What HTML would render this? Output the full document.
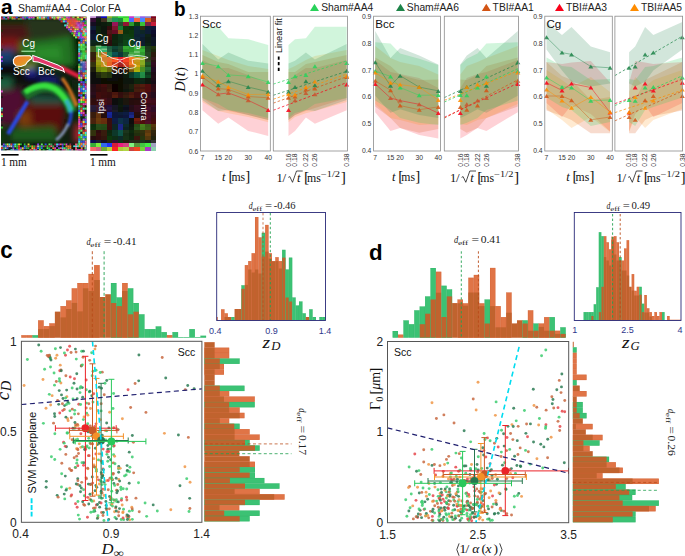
<!DOCTYPE html>
<html><head><meta charset="utf-8"><style>
html,body{margin:0;padding:0;background:#fff;}
body{width:685px;height:556px;overflow:hidden;}
svg{display:block;}
</style></head><body>
<svg width="685" height="556" viewBox="0 0 685 556">
<text x="174" y="15.7" font-size="19.5" font-family="Liberation Sans, sans-serif" fill="#000" font-weight="bold" textLength="11.6" lengthAdjust="spacingAndGlyphs">b</text>
<path d="M310 11L314.5 3.8L319 11Z" fill="rgb(40,210,90)"/>
<text x="321.2" y="11.2" font-size="10.3" font-family="Liberation Sans, sans-serif" fill="#222" textLength="52.1" lengthAdjust="spacingAndGlyphs">Sham#AA4</text>
<path d="M396 11L400.5 3.8L405 11Z" fill="rgb(30,132,73)"/>
<text x="406.8" y="11.2" font-size="10.3" font-family="Liberation Sans, sans-serif" fill="#222" textLength="52.1" lengthAdjust="spacingAndGlyphs">Sham#AA6</text>
<path d="M481.8 11L486.3 3.8L490.8 11Z" fill="rgb(211,84,20)"/>
<text x="492.6" y="11.2" font-size="10.3" font-family="Liberation Sans, sans-serif" fill="#222" textLength="41.22" lengthAdjust="spacingAndGlyphs">TBI#AA1</text>
<path d="M555 11L559.5 3.8L564 11Z" fill="rgb(250,0,25)"/>
<text x="565.9" y="11.2" font-size="10.3" font-family="Liberation Sans, sans-serif" fill="#222" textLength="41.22" lengthAdjust="spacingAndGlyphs">TBI#AA3</text>
<path d="M630 11L634.5 3.8L639 11Z" fill="rgb(255,140,0)"/>
<text x="640.9" y="11.2" font-size="10.3" font-family="Liberation Sans, sans-serif" fill="#222" textLength="41.22" lengthAdjust="spacingAndGlyphs">TBI#AA5</text>
<path d="M202.4 60L218.2 68L228.4 68L248.2 75L268.2 84L268.2 135.9L248.2 130.9L228.4 117.5L218.2 123.8L202.4 110.3Z" fill="rgb(250,0,25)" fill-opacity="0.18"/>
<path d="M202.4 55L218.2 62L228.4 64L248.2 72L268.2 72L268.2 120L248.2 115L228.4 111L218.2 108L202.4 98Z" fill="rgb(220,90,30)" fill-opacity="0.22"/>
<path d="M202.4 50L218.2 56L228.4 60L248.2 66L268.2 69L268.2 122.2L248.2 116.9L228.4 113.3L218.2 111L202.4 102Z" fill="rgb(255,140,0)" fill-opacity="0.18"/>
<path d="M202.4 26.7L218.2 26.7L228.4 38.3L248.2 39.2L268.2 45L268.2 118L248.2 113L228.4 110L218.2 104L202.4 98Z" fill="rgb(40,210,90)" fill-opacity="0.21"/>
<path d="M202.4 44L218.2 59.5L228.4 52.6L248.2 60.7L268.2 63.4L268.2 120L248.2 115L228.4 110L218.2 111L202.4 100Z" fill="rgb(30,132,73)" fill-opacity="0.2"/>
<polyline points="202.4,62.9 218.2,66.2 228.4,74.9 248.2,76.2 268.2,82.1" fill="none" stroke="rgb(40,210,90)" stroke-width="0.6" stroke-opacity="0.75"/>
<polyline points="202.4,70.8 218.2,85.3 228.4,81.2 248.2,87 268.2,91.8" fill="none" stroke="rgb(30,132,73)" stroke-width="0.6" stroke-opacity="0.75"/>
<polyline points="202.4,77 218.2,88.5 228.4,89.5 248.2,96.5 268.2,97.8" fill="none" stroke="rgb(211,84,20)" stroke-width="0.6" stroke-opacity="0.75"/>
<polyline points="202.4,84.5 218.2,94.2 228.4,92.9 248.2,100.3 268.2,109.9" fill="none" stroke="rgb(250,0,25)" stroke-width="0.6" stroke-opacity="0.75"/>
<polyline points="202.4,75.7 218.2,81.6 228.4,87 248.2,94.6 268.2,94.2" fill="none" stroke="rgb(255,140,0)" stroke-width="0.6" stroke-opacity="0.75"/>
<path d="M199.9 64.9L202.4 60.9L204.9 64.9Z" fill="rgb(40,210,90)" fill-opacity="0.85"/>
<path d="M215.7 68.2L218.2 64.2L220.7 68.2Z" fill="rgb(40,210,90)" fill-opacity="0.85"/>
<path d="M225.9 76.9L228.4 72.9L230.9 76.9Z" fill="rgb(40,210,90)" fill-opacity="0.85"/>
<path d="M245.7 78.2L248.2 74.2L250.7 78.2Z" fill="rgb(40,210,90)" fill-opacity="0.85"/>
<path d="M265.7 84.1L268.2 80.1L270.7 84.1Z" fill="rgb(40,210,90)" fill-opacity="0.85"/>
<path d="M199.9 72.8L202.4 68.8L204.9 72.8Z" fill="rgb(30,132,73)" fill-opacity="0.85"/>
<path d="M215.7 87.3L218.2 83.3L220.7 87.3Z" fill="rgb(30,132,73)" fill-opacity="0.85"/>
<path d="M225.9 83.2L228.4 79.2L230.9 83.2Z" fill="rgb(30,132,73)" fill-opacity="0.85"/>
<path d="M245.7 89L248.2 85L250.7 89Z" fill="rgb(30,132,73)" fill-opacity="0.85"/>
<path d="M265.7 93.8L268.2 89.8L270.7 93.8Z" fill="rgb(30,132,73)" fill-opacity="0.85"/>
<path d="M199.9 79L202.4 75L204.9 79Z" fill="rgb(211,84,20)" fill-opacity="0.85"/>
<path d="M215.7 90.5L218.2 86.5L220.7 90.5Z" fill="rgb(211,84,20)" fill-opacity="0.85"/>
<path d="M225.9 91.5L228.4 87.5L230.9 91.5Z" fill="rgb(211,84,20)" fill-opacity="0.85"/>
<path d="M245.7 98.5L248.2 94.5L250.7 98.5Z" fill="rgb(211,84,20)" fill-opacity="0.85"/>
<path d="M265.7 99.8L268.2 95.8L270.7 99.8Z" fill="rgb(211,84,20)" fill-opacity="0.85"/>
<path d="M199.9 86.5L202.4 82.5L204.9 86.5Z" fill="rgb(250,0,25)" fill-opacity="0.85"/>
<path d="M215.7 96.2L218.2 92.2L220.7 96.2Z" fill="rgb(200,85,45)" fill-opacity="0.85"/>
<path d="M225.9 94.9L228.4 90.9L230.9 94.9Z" fill="rgb(200,85,45)" fill-opacity="0.85"/>
<path d="M245.7 102.3L248.2 98.3L250.7 102.3Z" fill="rgb(200,85,45)" fill-opacity="0.85"/>
<path d="M265.7 111.9L268.2 107.9L270.7 111.9Z" fill="rgb(250,0,25)" fill-opacity="0.85"/>
<path d="M199.9 77.7L202.4 73.7L204.9 77.7Z" fill="rgb(255,140,0)" fill-opacity="0.85"/>
<path d="M215.7 83.6L218.2 79.6L220.7 83.6Z" fill="rgb(255,140,0)" fill-opacity="0.85"/>
<path d="M225.9 89L228.4 85L230.9 89Z" fill="rgb(255,140,0)" fill-opacity="0.85"/>
<path d="M245.7 96.6L248.2 92.6L250.7 96.6Z" fill="rgb(255,140,0)" fill-opacity="0.85"/>
<path d="M265.7 96.2L268.2 92.2L270.7 96.2Z" fill="rgb(255,140,0)" fill-opacity="0.85"/>
<rect x="200.4" y="16.2" width="69.9" height="134.8" fill="none" stroke="#8c8c8c" stroke-width="0.8"/>
<path d="M346.7 60L314.9 68L305.9 68L295 75L288.5 84L288.5 135.9L295 130.9L305.9 117.5L314.9 123.8L346.7 110.3Z" fill="rgb(250,0,25)" fill-opacity="0.18"/>
<path d="M346.7 55L314.9 62L305.9 64L295 72L288.5 72L288.5 120L295 115L305.9 111L314.9 108L346.7 98Z" fill="rgb(220,90,30)" fill-opacity="0.22"/>
<path d="M346.7 50L314.9 56L305.9 60L295 66L288.5 69L288.5 122.2L295 116.9L305.9 113.3L314.9 111L346.7 102Z" fill="rgb(255,140,0)" fill-opacity="0.18"/>
<path d="M346.7 26.7L314.9 26.7L305.9 38.3L295 39.2L288.5 45L288.5 118L295 113L305.9 110L314.9 104L346.7 98Z" fill="rgb(40,210,90)" fill-opacity="0.21"/>
<path d="M346.7 44L314.9 59.5L305.9 52.6L295 60.7L288.5 63.4L288.5 120L295 115L305.9 110L314.9 111L346.7 100Z" fill="rgb(30,132,73)" fill-opacity="0.2"/>
<line x1="273.3" y1="84.11" x2="346.7" y2="60.94" stroke="rgb(40,210,90)" stroke-width="0.85" stroke-opacity="0.85" stroke-dasharray="2.6,2.0"/>
<line x1="273.3" y1="95.27" x2="346.7" y2="71.3" stroke="rgb(30,132,73)" stroke-width="0.85" stroke-opacity="0.85" stroke-dasharray="2.6,2.0"/>
<line x1="273.3" y1="103.15" x2="346.7" y2="76.72" stroke="rgb(211,84,20)" stroke-width="0.85" stroke-opacity="0.85" stroke-dasharray="2.6,2.0"/>
<line x1="273.3" y1="110.25" x2="346.7" y2="82.62" stroke="rgb(250,0,25)" stroke-width="0.85" stroke-opacity="0.85" stroke-dasharray="2.6,2.0"/>
<line x1="273.3" y1="99.24" x2="346.7" y2="74.14" stroke="rgb(255,140,0)" stroke-width="0.85" stroke-opacity="0.85" stroke-dasharray="2.6,2.0"/>
<path d="M344.2 64.9L346.7 60.9L349.2 64.9Z" fill="rgb(40,210,90)" fill-opacity="0.85"/>
<path d="M312.4 68.2L314.9 64.2L317.4 68.2Z" fill="rgb(40,210,90)" fill-opacity="0.85"/>
<path d="M303.4 76.9L305.9 72.9L308.4 76.9Z" fill="rgb(40,210,90)" fill-opacity="0.85"/>
<path d="M292.5 78.2L295 74.2L297.5 78.2Z" fill="rgb(40,210,90)" fill-opacity="0.85"/>
<path d="M286 84.1L288.5 80.1L291 84.1Z" fill="rgb(40,210,90)" fill-opacity="0.85"/>
<path d="M344.2 72.8L346.7 68.8L349.2 72.8Z" fill="rgb(30,132,73)" fill-opacity="0.85"/>
<path d="M312.4 87.3L314.9 83.3L317.4 87.3Z" fill="rgb(30,132,73)" fill-opacity="0.85"/>
<path d="M303.4 83.2L305.9 79.2L308.4 83.2Z" fill="rgb(30,132,73)" fill-opacity="0.85"/>
<path d="M292.5 89L295 85L297.5 89Z" fill="rgb(30,132,73)" fill-opacity="0.85"/>
<path d="M286 93.8L288.5 89.8L291 93.8Z" fill="rgb(30,132,73)" fill-opacity="0.85"/>
<path d="M344.2 79L346.7 75L349.2 79Z" fill="rgb(211,84,20)" fill-opacity="0.85"/>
<path d="M312.4 90.5L314.9 86.5L317.4 90.5Z" fill="rgb(211,84,20)" fill-opacity="0.85"/>
<path d="M303.4 91.5L305.9 87.5L308.4 91.5Z" fill="rgb(211,84,20)" fill-opacity="0.85"/>
<path d="M292.5 98.5L295 94.5L297.5 98.5Z" fill="rgb(211,84,20)" fill-opacity="0.85"/>
<path d="M286 99.8L288.5 95.8L291 99.8Z" fill="rgb(211,84,20)" fill-opacity="0.85"/>
<path d="M344.2 86.5L346.7 82.5L349.2 86.5Z" fill="rgb(250,0,25)" fill-opacity="0.85"/>
<path d="M312.4 96.2L314.9 92.2L317.4 96.2Z" fill="rgb(200,85,45)" fill-opacity="0.85"/>
<path d="M303.4 94.9L305.9 90.9L308.4 94.9Z" fill="rgb(200,85,45)" fill-opacity="0.85"/>
<path d="M292.5 102.3L295 98.3L297.5 102.3Z" fill="rgb(200,85,45)" fill-opacity="0.85"/>
<path d="M286 111.9L288.5 107.9L291 111.9Z" fill="rgb(250,0,25)" fill-opacity="0.85"/>
<path d="M344.2 77.7L346.7 73.7L349.2 77.7Z" fill="rgb(255,140,0)" fill-opacity="0.85"/>
<path d="M312.4 83.6L314.9 79.6L317.4 83.6Z" fill="rgb(255,140,0)" fill-opacity="0.85"/>
<path d="M303.4 89L305.9 85L308.4 89Z" fill="rgb(255,140,0)" fill-opacity="0.85"/>
<path d="M292.5 96.6L295 92.6L297.5 96.6Z" fill="rgb(255,140,0)" fill-opacity="0.85"/>
<path d="M286 96.2L288.5 92.2L291 96.2Z" fill="rgb(255,140,0)" fill-opacity="0.85"/>
<rect x="273.3" y="16.2" width="74.1" height="134.8" fill="none" stroke="#8c8c8c" stroke-width="0.8"/>
<text x="198.2" y="18.5" font-size="6.8" font-family="Liberation Sans, sans-serif" fill="#333" text-anchor="end" textLength="9.45" lengthAdjust="spacingAndGlyphs">1.3</text>
<text x="198.2" y="37.8" font-size="6.8" font-family="Liberation Sans, sans-serif" fill="#333" text-anchor="end" textLength="9.45" lengthAdjust="spacingAndGlyphs">1.2</text>
<text x="198.2" y="57.1" font-size="6.8" font-family="Liberation Sans, sans-serif" fill="#333" text-anchor="end" textLength="9.45" lengthAdjust="spacingAndGlyphs">1.1</text>
<text x="198.2" y="76.4" font-size="6.8" font-family="Liberation Sans, sans-serif" fill="#333" text-anchor="end">1</text>
<text x="198.2" y="95.7" font-size="6.8" font-family="Liberation Sans, sans-serif" fill="#333" text-anchor="end" textLength="9.45" lengthAdjust="spacingAndGlyphs">0.9</text>
<text x="198.2" y="115" font-size="6.8" font-family="Liberation Sans, sans-serif" fill="#333" text-anchor="end" textLength="9.45" lengthAdjust="spacingAndGlyphs">0.8</text>
<text x="198.2" y="134.3" font-size="6.8" font-family="Liberation Sans, sans-serif" fill="#333" text-anchor="end" textLength="9.45" lengthAdjust="spacingAndGlyphs">0.7</text>
<text x="198.2" y="153.6" font-size="6.8" font-family="Liberation Sans, sans-serif" fill="#333" text-anchor="end" textLength="9.45" lengthAdjust="spacingAndGlyphs">0.6</text>
<text x="202.4" y="160.2" font-size="6.8" font-family="Liberation Sans, sans-serif" fill="#333" text-anchor="middle">7</text>
<text x="218.2" y="160.2" font-size="6.8" font-family="Liberation Sans, sans-serif" fill="#333" text-anchor="middle" textLength="7.56" lengthAdjust="spacingAndGlyphs">15</text>
<text x="228.4" y="160.2" font-size="6.8" font-family="Liberation Sans, sans-serif" fill="#333" text-anchor="middle" textLength="7.56" lengthAdjust="spacingAndGlyphs">20</text>
<text x="248.2" y="160.2" font-size="6.8" font-family="Liberation Sans, sans-serif" fill="#333" text-anchor="middle" textLength="7.56" lengthAdjust="spacingAndGlyphs">30</text>
<text x="268.2" y="160.2" font-size="6.8" font-family="Liberation Sans, sans-serif" fill="#333" text-anchor="middle" textLength="7.56" lengthAdjust="spacingAndGlyphs">40</text>
<text x="349" y="153.4" font-size="6.8" font-family="Liberation Sans, sans-serif" fill="#333" text-anchor="end" transform="rotate(-90 349 153.4)" textLength="13.23" lengthAdjust="spacingAndGlyphs">0.38</text>
<text x="317.2" y="153.4" font-size="6.8" font-family="Liberation Sans, sans-serif" fill="#333" text-anchor="end" transform="rotate(-90 317.2 153.4)" textLength="13.23" lengthAdjust="spacingAndGlyphs">0.26</text>
<text x="308.2" y="153.4" font-size="6.8" font-family="Liberation Sans, sans-serif" fill="#333" text-anchor="end" transform="rotate(-90 308.2 153.4)" textLength="13.23" lengthAdjust="spacingAndGlyphs">0.22</text>
<text x="297.3" y="153.4" font-size="6.8" font-family="Liberation Sans, sans-serif" fill="#333" text-anchor="end" transform="rotate(-90 297.3 153.4)" textLength="13.23" lengthAdjust="spacingAndGlyphs">0.18</text>
<text x="290.8" y="153.4" font-size="6.8" font-family="Liberation Sans, sans-serif" fill="#333" text-anchor="end" transform="rotate(-90 290.8 153.4)" textLength="13.23" lengthAdjust="spacingAndGlyphs">0.16</text>
<text x="202" y="28.2" font-size="11.6" font-family="Liberation Sans, sans-serif" fill="#111" textLength="19.34" lengthAdjust="spacingAndGlyphs">Scc</text>
<g transform="translate(222.4 180.6)" font-family="Liberation Serif, serif" fill="#111"><text x="-0.3" y="0" font-size="12.5" font-style="italic">t</text><text x="6" y="0" font-size="15">[</text><text x="9" y="0" font-size="11.5" textLength="13.7" lengthAdjust="spacingAndGlyphs">ms</text><text x="22.9" y="0" font-size="15">]</text></g>
<g transform="translate(277.2 181.5)" font-family="Liberation Serif, serif" fill="#111"><text x="-0.6" y="0" font-size="12.5">1</text><text x="5.4" y="0" font-size="13">/</text><text x="19.7" y="0" font-size="12.5" font-style="italic">t</text><text x="26.8" y="0" font-size="15.5">[</text><text x="29.8" y="0" font-size="11.5" textLength="13.8" lengthAdjust="spacingAndGlyphs">ms</text><text x="43.8" y="-4.8" font-size="8.6" textLength="19" lengthAdjust="spacingAndGlyphs">−1/2</text><text x="63.6" y="0" font-size="15.5">]</text></g>
<path d="M288.3 177.4 L289.8 176.6 L292.5 182.3 L296.5 171 L302.7 171" fill="none" stroke="#111" stroke-width="0.75"/>
<path d="M375.2 60L390.5 72L400.1 74L419.2 78L438.3 88L438.3 138.5L419.2 135L400.1 128L390.5 130.9L375.2 112.2Z" fill="rgb(250,0,25)" fill-opacity="0.18"/>
<path d="M375.2 57.5L390.5 66L400.1 75L419.2 80L438.3 79.5L438.3 129.1L419.2 132.7L400.1 128L390.5 118L375.2 106.4Z" fill="rgb(220,90,30)" fill-opacity="0.22"/>
<path d="M375.2 46L390.5 58L400.1 62L419.2 66L438.3 74.5L438.3 123.9L419.2 125L400.1 120L390.5 118L375.2 104Z" fill="rgb(255,140,0)" fill-opacity="0.18"/>
<path d="M375.2 42.3L390.5 43.6L400.1 53.5L419.2 58.7L438.3 65L438.3 125.1L419.2 122.7L400.1 118L390.5 110L375.2 100.5Z" fill="rgb(40,210,90)" fill-opacity="0.21"/>
<path d="M375.2 31L390.5 58L400.1 48L419.2 55.6L438.3 64.4L438.3 118L419.2 115.1L400.1 109.3L390.5 112.8L375.2 95.8Z" fill="rgb(30,132,73)" fill-opacity="0.2"/>
<polyline points="375.2,71.1 390.5,76.4 400.1,87.5 419.2,95.3 438.3,95" fill="none" stroke="rgb(40,210,90)" stroke-width="0.6" stroke-opacity="0.75"/>
<polyline points="375.2,62.3 390.5,85.8 400.1,75.7 419.2,87.1 438.3,90.9" fill="none" stroke="rgb(30,132,73)" stroke-width="0.6" stroke-opacity="0.75"/>
<polyline points="375.2,80.8 390.5,90.2 400.1,105.6 419.2,109.7 438.3,106.9" fill="none" stroke="rgb(211,84,20)" stroke-width="0.6" stroke-opacity="0.75"/>
<polyline points="375.2,83.9 390.5,98 400.1,100.6 419.2,104.3 438.3,113.1" fill="none" stroke="rgb(250,0,25)" stroke-width="0.6" stroke-opacity="0.75"/>
<polyline points="375.2,72.6 390.5,82.7 400.1,84.6 419.2,87.1 438.3,100" fill="none" stroke="rgb(255,140,0)" stroke-width="0.6" stroke-opacity="0.75"/>
<path d="M372.7 73.1L375.2 69.1L377.7 73.1Z" fill="rgb(40,210,90)" fill-opacity="0.85"/>
<path d="M388 78.4L390.5 74.4L393 78.4Z" fill="rgb(40,210,90)" fill-opacity="0.85"/>
<path d="M397.6 89.5L400.1 85.5L402.6 89.5Z" fill="rgb(40,210,90)" fill-opacity="0.85"/>
<path d="M416.7 97.3L419.2 93.3L421.7 97.3Z" fill="rgb(40,210,90)" fill-opacity="0.85"/>
<path d="M435.8 97L438.3 93L440.8 97Z" fill="rgb(40,210,90)" fill-opacity="0.85"/>
<path d="M372.7 64.3L375.2 60.3L377.7 64.3Z" fill="rgb(30,132,73)" fill-opacity="0.85"/>
<path d="M388 87.8L390.5 83.8L393 87.8Z" fill="rgb(30,132,73)" fill-opacity="0.85"/>
<path d="M397.6 77.7L400.1 73.7L402.6 77.7Z" fill="rgb(30,132,73)" fill-opacity="0.85"/>
<path d="M416.7 89.1L419.2 85.1L421.7 89.1Z" fill="rgb(30,132,73)" fill-opacity="0.85"/>
<path d="M435.8 92.9L438.3 88.9L440.8 92.9Z" fill="rgb(30,132,73)" fill-opacity="0.85"/>
<path d="M372.7 82.8L375.2 78.8L377.7 82.8Z" fill="rgb(211,84,20)" fill-opacity="0.85"/>
<path d="M388 92.2L390.5 88.2L393 92.2Z" fill="rgb(211,84,20)" fill-opacity="0.85"/>
<path d="M397.6 107.6L400.1 103.6L402.6 107.6Z" fill="rgb(211,84,20)" fill-opacity="0.85"/>
<path d="M416.7 111.7L419.2 107.7L421.7 111.7Z" fill="rgb(211,84,20)" fill-opacity="0.85"/>
<path d="M435.8 108.9L438.3 104.9L440.8 108.9Z" fill="rgb(211,84,20)" fill-opacity="0.85"/>
<path d="M372.7 85.9L375.2 81.9L377.7 85.9Z" fill="rgb(250,0,25)" fill-opacity="0.85"/>
<path d="M388 100L390.5 96L393 100Z" fill="rgb(200,85,45)" fill-opacity="0.85"/>
<path d="M397.6 102.6L400.1 98.6L402.6 102.6Z" fill="rgb(200,85,45)" fill-opacity="0.85"/>
<path d="M416.7 106.3L419.2 102.3L421.7 106.3Z" fill="rgb(200,85,45)" fill-opacity="0.85"/>
<path d="M435.8 115.1L438.3 111.1L440.8 115.1Z" fill="rgb(250,0,25)" fill-opacity="0.85"/>
<path d="M372.7 74.6L375.2 70.6L377.7 74.6Z" fill="rgb(255,140,0)" fill-opacity="0.85"/>
<path d="M388 84.7L390.5 80.7L393 84.7Z" fill="rgb(255,140,0)" fill-opacity="0.85"/>
<path d="M397.6 86.6L400.1 82.6L402.6 86.6Z" fill="rgb(255,140,0)" fill-opacity="0.85"/>
<path d="M416.7 89.1L419.2 85.1L421.7 89.1Z" fill="rgb(255,140,0)" fill-opacity="0.85"/>
<path d="M435.8 102L438.3 98L440.8 102Z" fill="rgb(255,140,0)" fill-opacity="0.85"/>
<rect x="373.6" y="16.2" width="66.9" height="134.8" fill="none" stroke="#8c8c8c" stroke-width="0.8"/>
<path d="M517.8 60L486.4 72L477.5 74L466.8 78L460.3 88L460.3 138.5L466.8 135L477.5 128L486.4 130.9L517.8 112.2Z" fill="rgb(250,0,25)" fill-opacity="0.18"/>
<path d="M517.8 57.5L486.4 66L477.5 75L466.8 80L460.3 79.5L460.3 129.1L466.8 132.7L477.5 128L486.4 118L517.8 106.4Z" fill="rgb(220,90,30)" fill-opacity="0.22"/>
<path d="M517.8 46L486.4 58L477.5 62L466.8 66L460.3 74.5L460.3 123.9L466.8 125L477.5 120L486.4 118L517.8 104Z" fill="rgb(255,140,0)" fill-opacity="0.18"/>
<path d="M517.8 42.3L486.4 43.6L477.5 53.5L466.8 58.7L460.3 65L460.3 125.1L466.8 122.7L477.5 118L486.4 110L517.8 100.5Z" fill="rgb(40,210,90)" fill-opacity="0.21"/>
<path d="M517.8 31L486.4 58L477.5 48L466.8 55.6L460.3 64.4L460.3 118L466.8 115.1L477.5 109.3L486.4 112.8L517.8 95.8Z" fill="rgb(30,132,73)" fill-opacity="0.2"/>
<line x1="444.3" y1="102.09" x2="517.8" y2="68.66" stroke="rgb(40,210,90)" stroke-width="0.85" stroke-opacity="0.85" stroke-dasharray="2.6,2.0"/>
<line x1="444.3" y1="97.59" x2="517.8" y2="63.77" stroke="rgb(30,132,73)" stroke-width="0.85" stroke-opacity="0.85" stroke-dasharray="2.6,2.0"/>
<line x1="444.3" y1="118.16" x2="517.8" y2="79.84" stroke="rgb(211,84,20)" stroke-width="0.85" stroke-opacity="0.85" stroke-dasharray="2.6,2.0"/>
<line x1="444.3" y1="117.31" x2="517.8" y2="83.29" stroke="rgb(250,0,25)" stroke-width="0.85" stroke-opacity="0.85" stroke-dasharray="2.6,2.0"/>
<line x1="444.3" y1="100.35" x2="517.8" y2="71" stroke="rgb(255,140,0)" stroke-width="0.85" stroke-opacity="0.85" stroke-dasharray="2.6,2.0"/>
<path d="M515.3 73.1L517.8 69.1L520.3 73.1Z" fill="rgb(40,210,90)" fill-opacity="0.85"/>
<path d="M483.9 78.4L486.4 74.4L488.9 78.4Z" fill="rgb(40,210,90)" fill-opacity="0.85"/>
<path d="M475 89.5L477.5 85.5L480 89.5Z" fill="rgb(40,210,90)" fill-opacity="0.85"/>
<path d="M464.3 97.3L466.8 93.3L469.3 97.3Z" fill="rgb(40,210,90)" fill-opacity="0.85"/>
<path d="M457.8 97L460.3 93L462.8 97Z" fill="rgb(40,210,90)" fill-opacity="0.85"/>
<path d="M515.3 64.3L517.8 60.3L520.3 64.3Z" fill="rgb(30,132,73)" fill-opacity="0.85"/>
<path d="M483.9 87.8L486.4 83.8L488.9 87.8Z" fill="rgb(30,132,73)" fill-opacity="0.85"/>
<path d="M475 77.7L477.5 73.7L480 77.7Z" fill="rgb(30,132,73)" fill-opacity="0.85"/>
<path d="M464.3 89.1L466.8 85.1L469.3 89.1Z" fill="rgb(30,132,73)" fill-opacity="0.85"/>
<path d="M457.8 92.9L460.3 88.9L462.8 92.9Z" fill="rgb(30,132,73)" fill-opacity="0.85"/>
<path d="M515.3 82.8L517.8 78.8L520.3 82.8Z" fill="rgb(211,84,20)" fill-opacity="0.85"/>
<path d="M483.9 92.2L486.4 88.2L488.9 92.2Z" fill="rgb(211,84,20)" fill-opacity="0.85"/>
<path d="M475 107.6L477.5 103.6L480 107.6Z" fill="rgb(211,84,20)" fill-opacity="0.85"/>
<path d="M464.3 111.7L466.8 107.7L469.3 111.7Z" fill="rgb(211,84,20)" fill-opacity="0.85"/>
<path d="M457.8 108.9L460.3 104.9L462.8 108.9Z" fill="rgb(211,84,20)" fill-opacity="0.85"/>
<path d="M515.3 85.9L517.8 81.9L520.3 85.9Z" fill="rgb(250,0,25)" fill-opacity="0.85"/>
<path d="M483.9 100L486.4 96L488.9 100Z" fill="rgb(200,85,45)" fill-opacity="0.85"/>
<path d="M475 102.6L477.5 98.6L480 102.6Z" fill="rgb(200,85,45)" fill-opacity="0.85"/>
<path d="M464.3 106.3L466.8 102.3L469.3 106.3Z" fill="rgb(200,85,45)" fill-opacity="0.85"/>
<path d="M457.8 115.1L460.3 111.1L462.8 115.1Z" fill="rgb(250,0,25)" fill-opacity="0.85"/>
<path d="M515.3 74.6L517.8 70.6L520.3 74.6Z" fill="rgb(255,140,0)" fill-opacity="0.85"/>
<path d="M483.9 84.7L486.4 80.7L488.9 84.7Z" fill="rgb(255,140,0)" fill-opacity="0.85"/>
<path d="M475 86.6L477.5 82.6L480 86.6Z" fill="rgb(255,140,0)" fill-opacity="0.85"/>
<path d="M464.3 89.1L466.8 85.1L469.3 89.1Z" fill="rgb(255,140,0)" fill-opacity="0.85"/>
<path d="M457.8 102L460.3 98L462.8 102Z" fill="rgb(255,140,0)" fill-opacity="0.85"/>
<rect x="444.3" y="16.2" width="74.2" height="134.8" fill="none" stroke="#8c8c8c" stroke-width="0.8"/>
<text x="371.4" y="18.5" font-size="6.8" font-family="Liberation Sans, sans-serif" fill="#333" text-anchor="end" textLength="9.45" lengthAdjust="spacingAndGlyphs">0.9</text>
<text x="371.4" y="45.5" font-size="6.8" font-family="Liberation Sans, sans-serif" fill="#333" text-anchor="end" textLength="9.45" lengthAdjust="spacingAndGlyphs">0.8</text>
<text x="371.4" y="72.5" font-size="6.8" font-family="Liberation Sans, sans-serif" fill="#333" text-anchor="end" textLength="9.45" lengthAdjust="spacingAndGlyphs">0.7</text>
<text x="371.4" y="99.4" font-size="6.8" font-family="Liberation Sans, sans-serif" fill="#333" text-anchor="end" textLength="9.45" lengthAdjust="spacingAndGlyphs">0.6</text>
<text x="371.4" y="126.4" font-size="6.8" font-family="Liberation Sans, sans-serif" fill="#333" text-anchor="end" textLength="9.45" lengthAdjust="spacingAndGlyphs">0.5</text>
<text x="371.4" y="153.3" font-size="6.8" font-family="Liberation Sans, sans-serif" fill="#333" text-anchor="end" textLength="9.45" lengthAdjust="spacingAndGlyphs">0.4</text>
<text x="375.2" y="160.2" font-size="6.8" font-family="Liberation Sans, sans-serif" fill="#333" text-anchor="middle">7</text>
<text x="390.5" y="160.2" font-size="6.8" font-family="Liberation Sans, sans-serif" fill="#333" text-anchor="middle" textLength="7.56" lengthAdjust="spacingAndGlyphs">15</text>
<text x="400.1" y="160.2" font-size="6.8" font-family="Liberation Sans, sans-serif" fill="#333" text-anchor="middle" textLength="7.56" lengthAdjust="spacingAndGlyphs">20</text>
<text x="419.2" y="160.2" font-size="6.8" font-family="Liberation Sans, sans-serif" fill="#333" text-anchor="middle" textLength="7.56" lengthAdjust="spacingAndGlyphs">30</text>
<text x="438.3" y="160.2" font-size="6.8" font-family="Liberation Sans, sans-serif" fill="#333" text-anchor="middle" textLength="7.56" lengthAdjust="spacingAndGlyphs">40</text>
<text x="520.1" y="153.4" font-size="6.8" font-family="Liberation Sans, sans-serif" fill="#333" text-anchor="end" transform="rotate(-90 520.1 153.4)" textLength="13.23" lengthAdjust="spacingAndGlyphs">0.38</text>
<text x="488.7" y="153.4" font-size="6.8" font-family="Liberation Sans, sans-serif" fill="#333" text-anchor="end" transform="rotate(-90 488.7 153.4)" textLength="13.23" lengthAdjust="spacingAndGlyphs">0.26</text>
<text x="479.8" y="153.4" font-size="6.8" font-family="Liberation Sans, sans-serif" fill="#333" text-anchor="end" transform="rotate(-90 479.8 153.4)" textLength="13.23" lengthAdjust="spacingAndGlyphs">0.22</text>
<text x="469.1" y="153.4" font-size="6.8" font-family="Liberation Sans, sans-serif" fill="#333" text-anchor="end" transform="rotate(-90 469.1 153.4)" textLength="13.23" lengthAdjust="spacingAndGlyphs">0.18</text>
<text x="462.6" y="153.4" font-size="6.8" font-family="Liberation Sans, sans-serif" fill="#333" text-anchor="end" transform="rotate(-90 462.6 153.4)" textLength="13.23" lengthAdjust="spacingAndGlyphs">0.16</text>
<text x="375.2" y="28.2" font-size="11.6" font-family="Liberation Sans, sans-serif" fill="#111" textLength="19.34" lengthAdjust="spacingAndGlyphs">Bcc</text>
<g transform="translate(392.3 180.6)" font-family="Liberation Serif, serif" fill="#111"><text x="-0.3" y="0" font-size="12.5" font-style="italic">t</text><text x="6" y="0" font-size="15">[</text><text x="9" y="0" font-size="11.5" textLength="13.7" lengthAdjust="spacingAndGlyphs">ms</text><text x="22.9" y="0" font-size="15">]</text></g>
<g transform="translate(450.5 181.5)" font-family="Liberation Serif, serif" fill="#111"><text x="-0.6" y="0" font-size="12.5">1</text><text x="5.4" y="0" font-size="13">/</text><text x="19.7" y="0" font-size="12.5" font-style="italic">t</text><text x="26.8" y="0" font-size="15.5">[</text><text x="29.8" y="0" font-size="11.5" textLength="13.8" lengthAdjust="spacingAndGlyphs">ms</text><text x="43.8" y="-4.8" font-size="8.6" textLength="19" lengthAdjust="spacingAndGlyphs">−1/2</text><text x="63.6" y="0" font-size="15.5">]</text></g>
<path d="M461.6 177.4 L463.1 176.6 L465.8 182.3 L469.8 171 L476 171" fill="none" stroke="#111" stroke-width="0.75"/>
<path d="M546.5 62L562 63.9L571.5 62.6L590.8 60.9L610.1 82.6L610.1 131.5L590.8 114L571.5 105L562 117L546.5 103Z" fill="rgb(250,0,25)" fill-opacity="0.18"/>
<path d="M546.5 62L562 76L571.5 80L590.8 100L610.1 97L610.1 133.2L590.8 133.2L571.5 120L562 116L546.5 110.5Z" fill="rgb(220,90,30)" fill-opacity="0.22"/>
<path d="M546.5 70L562 80L571.5 87L590.8 77L610.1 92L610.1 132L590.8 117L571.5 128L562 120L546.5 109Z" fill="rgb(255,140,0)" fill-opacity="0.18"/>
<path d="M546.5 57.4L562 66L571.5 67L590.8 80L610.1 79L610.1 122L590.8 126L571.5 110L562 107L546.5 97.5Z" fill="rgb(40,210,90)" fill-opacity="0.21"/>
<path d="M546.5 22L562 35L571.5 27L590.8 46.4L610.1 52.2L610.1 83.4L590.8 86.6L571.5 81.8L562 70.5L546.5 49.6Z" fill="rgb(30,132,73)" fill-opacity="0.2"/>
<polyline points="546.5,77.5 562,86.9 571.5,87.5 590.8,100.8 610.1,99.9" fill="none" stroke="rgb(40,210,90)" stroke-width="0.6" stroke-opacity="0.75"/>
<polyline points="546.5,37.3 562,52.6 571.5,54.4 590.8,66.5 610.1,67.8" fill="none" stroke="rgb(30,132,73)" stroke-width="0.6" stroke-opacity="0.75"/>
<polyline points="546.5,96 562,96 571.5,100.2 590.8,119.8 610.1,117" fill="none" stroke="rgb(211,84,20)" stroke-width="0.6" stroke-opacity="0.75"/>
<polyline points="546.5,82.7 562,90.4 571.5,83.6 590.8,87.5 610.1,112.5" fill="none" stroke="rgb(250,0,25)" stroke-width="0.6" stroke-opacity="0.75"/>
<polyline points="546.5,89.5 562,100.4 571.5,107.7 590.8,96.9 610.1,112.1" fill="none" stroke="rgb(255,140,0)" stroke-width="0.6" stroke-opacity="0.75"/>
<path d="M544 79.5L546.5 75.5L549 79.5Z" fill="rgb(40,210,90)" fill-opacity="0.85"/>
<path d="M559.5 88.9L562 84.9L564.5 88.9Z" fill="rgb(40,210,90)" fill-opacity="0.85"/>
<path d="M569 89.5L571.5 85.5L574 89.5Z" fill="rgb(40,210,90)" fill-opacity="0.85"/>
<path d="M588.3 102.8L590.8 98.8L593.3 102.8Z" fill="rgb(40,210,90)" fill-opacity="0.85"/>
<path d="M607.6 101.9L610.1 97.9L612.6 101.9Z" fill="rgb(40,210,90)" fill-opacity="0.85"/>
<path d="M544 39.3L546.5 35.3L549 39.3Z" fill="rgb(30,132,73)" fill-opacity="0.85"/>
<path d="M559.5 54.6L562 50.6L564.5 54.6Z" fill="rgb(30,132,73)" fill-opacity="0.85"/>
<path d="M569 56.4L571.5 52.4L574 56.4Z" fill="rgb(30,132,73)" fill-opacity="0.85"/>
<path d="M588.3 68.5L590.8 64.5L593.3 68.5Z" fill="rgb(30,132,73)" fill-opacity="0.85"/>
<path d="M607.6 69.8L610.1 65.8L612.6 69.8Z" fill="rgb(30,132,73)" fill-opacity="0.85"/>
<path d="M544 98L546.5 94L549 98Z" fill="rgb(211,84,20)" fill-opacity="0.85"/>
<path d="M559.5 98L562 94L564.5 98Z" fill="rgb(211,84,20)" fill-opacity="0.85"/>
<path d="M569 102.2L571.5 98.2L574 102.2Z" fill="rgb(211,84,20)" fill-opacity="0.85"/>
<path d="M588.3 121.8L590.8 117.8L593.3 121.8Z" fill="rgb(211,84,20)" fill-opacity="0.85"/>
<path d="M607.6 119L610.1 115L612.6 119Z" fill="rgb(211,84,20)" fill-opacity="0.85"/>
<path d="M544 84.7L546.5 80.7L549 84.7Z" fill="rgb(250,0,25)" fill-opacity="0.85"/>
<path d="M559.5 92.4L562 88.4L564.5 92.4Z" fill="rgb(250,0,25)" fill-opacity="0.85"/>
<path d="M569 85.6L571.5 81.6L574 85.6Z" fill="rgb(250,0,25)" fill-opacity="0.85"/>
<path d="M588.3 89.5L590.8 85.5L593.3 89.5Z" fill="rgb(250,0,25)" fill-opacity="0.85"/>
<path d="M607.6 114.5L610.1 110.5L612.6 114.5Z" fill="rgb(250,0,25)" fill-opacity="0.85"/>
<path d="M544 91.5L546.5 87.5L549 91.5Z" fill="rgb(255,140,0)" fill-opacity="0.85"/>
<path d="M559.5 102.4L562 98.4L564.5 102.4Z" fill="rgb(255,140,0)" fill-opacity="0.85"/>
<path d="M569 109.7L571.5 105.7L574 109.7Z" fill="rgb(255,140,0)" fill-opacity="0.85"/>
<path d="M588.3 98.9L590.8 94.9L593.3 98.9Z" fill="rgb(255,140,0)" fill-opacity="0.85"/>
<path d="M607.6 114.1L610.1 110.1L612.6 114.1Z" fill="rgb(255,140,0)" fill-opacity="0.85"/>
<rect x="544.8" y="16.2" width="67.5" height="134.8" fill="none" stroke="#8c8c8c" stroke-width="0.8"/>
<path d="M682.3 62L653.3 63.9L645.1 62.6L635.2 60.9L629.1 82.6L629.1 131.5L635.2 114L645.1 105L653.3 117L682.3 103Z" fill="rgb(250,0,25)" fill-opacity="0.18"/>
<path d="M682.3 62L653.3 76L645.1 80L635.2 100L629.1 97L629.1 133.2L635.2 133.2L645.1 120L653.3 116L682.3 110.5Z" fill="rgb(220,90,30)" fill-opacity="0.22"/>
<path d="M682.3 70L653.3 80L645.1 87L635.2 77L629.1 92L629.1 132L635.2 117L645.1 128L653.3 120L682.3 109Z" fill="rgb(255,140,0)" fill-opacity="0.18"/>
<path d="M682.3 57.4L653.3 66L645.1 67L635.2 80L629.1 79L629.1 122L635.2 126L645.1 110L653.3 107L682.3 97.5Z" fill="rgb(40,210,90)" fill-opacity="0.21"/>
<path d="M682.3 22L653.3 35L645.1 27L635.2 46.4L629.1 52.2L629.1 83.4L635.2 86.6L645.1 81.8L653.3 70.5L682.3 49.6Z" fill="rgb(30,132,73)" fill-opacity="0.2"/>
<line x1="614.9" y1="105.57" x2="682.3" y2="75.77" stroke="rgb(40,210,90)" stroke-width="0.85" stroke-opacity="0.85" stroke-dasharray="2.6,2.0"/>
<line x1="614.9" y1="75.58" x2="682.3" y2="36.25" stroke="rgb(30,132,73)" stroke-width="0.85" stroke-opacity="0.85" stroke-dasharray="2.6,2.0"/>
<line x1="614.9" y1="120.8" x2="682.3" y2="91.1" stroke="rgb(211,84,20)" stroke-width="0.85" stroke-opacity="0.85" stroke-dasharray="2.6,2.0"/>
<line x1="614.9" y1="103.65" x2="682.3" y2="79.27" stroke="rgb(250,0,25)" stroke-width="0.85" stroke-opacity="0.85" stroke-dasharray="2.6,2.0"/>
<line x1="614.9" y1="112.62" x2="682.3" y2="90.24" stroke="rgb(255,140,0)" stroke-width="0.85" stroke-opacity="0.85" stroke-dasharray="2.6,2.0"/>
<path d="M679.8 79.5L682.3 75.5L684.8 79.5Z" fill="rgb(40,210,90)" fill-opacity="0.85"/>
<path d="M650.8 88.9L653.3 84.9L655.8 88.9Z" fill="rgb(40,210,90)" fill-opacity="0.85"/>
<path d="M642.6 89.5L645.1 85.5L647.6 89.5Z" fill="rgb(40,210,90)" fill-opacity="0.85"/>
<path d="M632.7 102.8L635.2 98.8L637.7 102.8Z" fill="rgb(40,210,90)" fill-opacity="0.85"/>
<path d="M626.6 101.9L629.1 97.9L631.6 101.9Z" fill="rgb(40,210,90)" fill-opacity="0.85"/>
<path d="M679.8 39.3L682.3 35.3L684.8 39.3Z" fill="rgb(30,132,73)" fill-opacity="0.85"/>
<path d="M650.8 54.6L653.3 50.6L655.8 54.6Z" fill="rgb(30,132,73)" fill-opacity="0.85"/>
<path d="M642.6 56.4L645.1 52.4L647.6 56.4Z" fill="rgb(30,132,73)" fill-opacity="0.85"/>
<path d="M632.7 68.5L635.2 64.5L637.7 68.5Z" fill="rgb(30,132,73)" fill-opacity="0.85"/>
<path d="M626.6 69.8L629.1 65.8L631.6 69.8Z" fill="rgb(30,132,73)" fill-opacity="0.85"/>
<path d="M679.8 98L682.3 94L684.8 98Z" fill="rgb(211,84,20)" fill-opacity="0.85"/>
<path d="M650.8 98L653.3 94L655.8 98Z" fill="rgb(211,84,20)" fill-opacity="0.85"/>
<path d="M642.6 102.2L645.1 98.2L647.6 102.2Z" fill="rgb(211,84,20)" fill-opacity="0.85"/>
<path d="M632.7 121.8L635.2 117.8L637.7 121.8Z" fill="rgb(211,84,20)" fill-opacity="0.85"/>
<path d="M626.6 119L629.1 115L631.6 119Z" fill="rgb(211,84,20)" fill-opacity="0.85"/>
<path d="M679.8 84.7L682.3 80.7L684.8 84.7Z" fill="rgb(250,0,25)" fill-opacity="0.85"/>
<path d="M650.8 92.4L653.3 88.4L655.8 92.4Z" fill="rgb(250,0,25)" fill-opacity="0.85"/>
<path d="M642.6 85.6L645.1 81.6L647.6 85.6Z" fill="rgb(250,0,25)" fill-opacity="0.85"/>
<path d="M632.7 89.5L635.2 85.5L637.7 89.5Z" fill="rgb(250,0,25)" fill-opacity="0.85"/>
<path d="M626.6 114.5L629.1 110.5L631.6 114.5Z" fill="rgb(250,0,25)" fill-opacity="0.85"/>
<path d="M679.8 91.5L682.3 87.5L684.8 91.5Z" fill="rgb(255,140,0)" fill-opacity="0.85"/>
<path d="M650.8 102.4L653.3 98.4L655.8 102.4Z" fill="rgb(255,140,0)" fill-opacity="0.85"/>
<path d="M642.6 109.7L645.1 105.7L647.6 109.7Z" fill="rgb(255,140,0)" fill-opacity="0.85"/>
<path d="M632.7 98.9L635.2 94.9L637.7 98.9Z" fill="rgb(255,140,0)" fill-opacity="0.85"/>
<path d="M626.6 114.1L629.1 110.1L631.6 114.1Z" fill="rgb(255,140,0)" fill-opacity="0.85"/>
<rect x="614.9" y="16.2" width="67.7" height="134.8" fill="none" stroke="#8c8c8c" stroke-width="0.8"/>
<text x="542.6" y="18.5" font-size="6.8" font-family="Liberation Sans, sans-serif" fill="#333" text-anchor="end" textLength="9.45" lengthAdjust="spacingAndGlyphs">0.9</text>
<text x="542.6" y="45.5" font-size="6.8" font-family="Liberation Sans, sans-serif" fill="#333" text-anchor="end" textLength="9.45" lengthAdjust="spacingAndGlyphs">0.8</text>
<text x="542.6" y="72.5" font-size="6.8" font-family="Liberation Sans, sans-serif" fill="#333" text-anchor="end" textLength="9.45" lengthAdjust="spacingAndGlyphs">0.7</text>
<text x="542.6" y="99.4" font-size="6.8" font-family="Liberation Sans, sans-serif" fill="#333" text-anchor="end" textLength="9.45" lengthAdjust="spacingAndGlyphs">0.6</text>
<text x="542.6" y="126.4" font-size="6.8" font-family="Liberation Sans, sans-serif" fill="#333" text-anchor="end" textLength="9.45" lengthAdjust="spacingAndGlyphs">0.5</text>
<text x="542.6" y="153.3" font-size="6.8" font-family="Liberation Sans, sans-serif" fill="#333" text-anchor="end" textLength="9.45" lengthAdjust="spacingAndGlyphs">0.4</text>
<text x="546.5" y="160.2" font-size="6.8" font-family="Liberation Sans, sans-serif" fill="#333" text-anchor="middle">7</text>
<text x="562" y="160.2" font-size="6.8" font-family="Liberation Sans, sans-serif" fill="#333" text-anchor="middle" textLength="7.56" lengthAdjust="spacingAndGlyphs">15</text>
<text x="571.5" y="160.2" font-size="6.8" font-family="Liberation Sans, sans-serif" fill="#333" text-anchor="middle" textLength="7.56" lengthAdjust="spacingAndGlyphs">20</text>
<text x="590.8" y="160.2" font-size="6.8" font-family="Liberation Sans, sans-serif" fill="#333" text-anchor="middle" textLength="7.56" lengthAdjust="spacingAndGlyphs">30</text>
<text x="610.1" y="160.2" font-size="6.8" font-family="Liberation Sans, sans-serif" fill="#333" text-anchor="middle" textLength="7.56" lengthAdjust="spacingAndGlyphs">40</text>
<text x="684.6" y="153.4" font-size="6.8" font-family="Liberation Sans, sans-serif" fill="#333" text-anchor="end" transform="rotate(-90 684.6 153.4)" textLength="13.23" lengthAdjust="spacingAndGlyphs">0.38</text>
<text x="655.6" y="153.4" font-size="6.8" font-family="Liberation Sans, sans-serif" fill="#333" text-anchor="end" transform="rotate(-90 655.6 153.4)" textLength="13.23" lengthAdjust="spacingAndGlyphs">0.26</text>
<text x="647.4" y="153.4" font-size="6.8" font-family="Liberation Sans, sans-serif" fill="#333" text-anchor="end" transform="rotate(-90 647.4 153.4)" textLength="13.23" lengthAdjust="spacingAndGlyphs">0.22</text>
<text x="637.5" y="153.4" font-size="6.8" font-family="Liberation Sans, sans-serif" fill="#333" text-anchor="end" transform="rotate(-90 637.5 153.4)" textLength="13.23" lengthAdjust="spacingAndGlyphs">0.18</text>
<text x="631.4" y="153.4" font-size="6.8" font-family="Liberation Sans, sans-serif" fill="#333" text-anchor="end" transform="rotate(-90 631.4 153.4)" textLength="13.23" lengthAdjust="spacingAndGlyphs">0.16</text>
<text x="546.4" y="28.2" font-size="11.6" font-family="Liberation Sans, sans-serif" fill="#111" textLength="14.83" lengthAdjust="spacingAndGlyphs">Cg</text>
<g transform="translate(566.5 180.6)" font-family="Liberation Serif, serif" fill="#111"><text x="-0.3" y="0" font-size="12.5" font-style="italic">t</text><text x="6" y="0" font-size="15">[</text><text x="9" y="0" font-size="11.5" textLength="13.7" lengthAdjust="spacingAndGlyphs">ms</text><text x="22.9" y="0" font-size="15">]</text></g>
<g transform="translate(617 181.5)" font-family="Liberation Serif, serif" fill="#111"><text x="-0.6" y="0" font-size="12.5">1</text><text x="5.4" y="0" font-size="13">/</text><text x="19.7" y="0" font-size="12.5" font-style="italic">t</text><text x="26.8" y="0" font-size="15.5">[</text><text x="29.8" y="0" font-size="11.5" textLength="13.8" lengthAdjust="spacingAndGlyphs">ms</text><text x="43.8" y="-4.8" font-size="8.6" textLength="19" lengthAdjust="spacingAndGlyphs">−1/2</text><text x="63.6" y="0" font-size="15.5">]</text></g>
<path d="M628.1 177.4 L629.6 176.6 L632.3 182.3 L636.3 171 L642.5 171" fill="none" stroke="#111" stroke-width="0.75"/>
<g transform="translate(184.6 91.8) rotate(-90)" font-family="Liberation Serif, serif" fill="#111"><text x="0" y="0" font-size="14.5" font-style="italic" textLength="10.4" lengthAdjust="spacingAndGlyphs">D</text><text x="11" y="0" font-size="14.5" textLength="4" lengthAdjust="spacingAndGlyphs">(</text><text x="15.2" y="0" font-size="14.5" font-style="italic" textLength="4.6" lengthAdjust="spacingAndGlyphs">t</text><text x="20.2" y="0" font-size="14.5" textLength="4.2" lengthAdjust="spacingAndGlyphs">)</text></g>
<text x="281.6" y="53.1" font-size="9.1" font-family="Liberation Sans, sans-serif" fill="#111" transform="rotate(-90 281.6 53.1)" textLength="35" lengthAdjust="spacingAndGlyphs">Linear fit</text>
<line x1="278.7" y1="56.5" x2="278.7" y2="71" stroke="#000" stroke-width="1.8" stroke-dasharray="3.2,2.4"/>
<rect x="21.3" y="335.2" width="5.6" height="2.5" fill="rgb(224,116,70)"/>
<rect x="26.9" y="335.2" width="5.6" height="2.5" fill="rgb(224,116,70)"/>
<rect x="32.5" y="335.2" width="5.6" height="2.5" fill="rgb(60,194,116)"/>
<rect x="38.1" y="320.3" width="5.6" height="17.4" fill="rgb(224,116,70)"/>
<rect x="38.1" y="329.1" width="5.6" height="8.6" fill="rgb(192,99,46)"/>
<rect x="43.7" y="326.1" width="5.6" height="11.6" fill="rgb(224,116,70)"/>
<rect x="43.7" y="329.1" width="5.6" height="8.6" fill="rgb(192,99,46)"/>
<rect x="49.3" y="323.3" width="5.6" height="14.4" fill="rgb(224,116,70)"/>
<rect x="49.3" y="326.1" width="5.6" height="11.6" fill="rgb(192,99,46)"/>
<rect x="54.9" y="311.7" width="5.6" height="26" fill="rgb(192,99,46)"/>
<rect x="60.5" y="306.1" width="5.6" height="31.6" fill="rgb(224,116,70)"/>
<rect x="60.5" y="317.4" width="5.6" height="20.3" fill="rgb(192,99,46)"/>
<rect x="66.1" y="300.4" width="5.6" height="37.3" fill="rgb(224,116,70)"/>
<rect x="66.1" y="309" width="5.6" height="28.7" fill="rgb(192,99,46)"/>
<rect x="71.7" y="288.3" width="5.6" height="49.4" fill="rgb(224,116,70)"/>
<rect x="71.7" y="302.9" width="5.6" height="34.8" fill="rgb(192,99,46)"/>
<rect x="77.3" y="283" width="5.6" height="54.7" fill="rgb(224,116,70)"/>
<rect x="77.3" y="311.4" width="5.6" height="26.3" fill="rgb(192,99,46)"/>
<rect x="82.9" y="283" width="5.6" height="54.7" fill="rgb(224,116,70)"/>
<rect x="82.9" y="288.3" width="5.6" height="49.4" fill="rgb(192,99,46)"/>
<rect x="88.5" y="273.9" width="5.6" height="63.8" fill="rgb(224,116,70)"/>
<rect x="88.5" y="291" width="5.6" height="46.7" fill="rgb(192,99,46)"/>
<rect x="94.1" y="265.1" width="5.6" height="72.6" fill="rgb(224,116,70)"/>
<rect x="94.1" y="280" width="5.6" height="57.7" fill="rgb(192,99,46)"/>
<rect x="99.7" y="297" width="5.6" height="40.7" fill="rgb(192,99,46)"/>
<rect x="105.3" y="294.3" width="5.6" height="43.4" fill="rgb(192,99,46)"/>
<rect x="110.9" y="283" width="5.6" height="54.7" fill="rgb(60,194,116)"/>
<rect x="110.9" y="303" width="5.6" height="34.7" fill="rgb(192,99,46)"/>
<rect x="116.5" y="297.4" width="5.6" height="40.3" fill="rgb(60,194,116)"/>
<rect x="116.5" y="306.1" width="5.6" height="31.6" fill="rgb(192,99,46)"/>
<rect x="122.1" y="283" width="5.6" height="54.7" fill="rgb(224,116,70)"/>
<rect x="122.1" y="291" width="5.6" height="46.7" fill="rgb(192,99,46)"/>
<rect x="127.7" y="288.3" width="5.6" height="49.4" fill="rgb(60,194,116)"/>
<rect x="127.7" y="314.3" width="5.6" height="23.4" fill="rgb(192,99,46)"/>
<rect x="133.3" y="303" width="5.6" height="34.7" fill="rgb(60,194,116)"/>
<rect x="133.3" y="311.7" width="5.6" height="26" fill="rgb(192,99,46)"/>
<rect x="138.9" y="314.3" width="5.6" height="23.4" fill="rgb(60,194,116)"/>
<rect x="144.5" y="329.1" width="5.6" height="8.6" fill="rgb(60,194,116)"/>
<rect x="150.1" y="329.1" width="5.6" height="8.6" fill="rgb(60,194,116)"/>
<rect x="155.7" y="326.4" width="5.6" height="11.3" fill="rgb(60,194,116)"/>
<rect x="161.3" y="332.1" width="5.6" height="5.6" fill="rgb(60,194,116)"/>
<rect x="166.9" y="335.1" width="5.6" height="2.6" fill="rgb(224,116,70)"/>
<rect x="172.5" y="332.1" width="5.6" height="5.6" fill="rgb(60,194,116)"/>
<rect x="178.1" y="337.1" width="5.6" height="0.6" fill="rgb(60,194,116)"/>
<rect x="183.7" y="337.1" width="5.6" height="0.6" fill="rgb(60,194,116)"/>
<rect x="189.3" y="329.1" width="5.6" height="8.6" fill="rgb(60,194,116)"/>
<rect x="194.9" y="337.1" width="5.6" height="0.6" fill="rgb(60,194,116)"/>
<rect x="200.5" y="335.7" width="5.6" height="2" fill="rgb(60,194,116)"/>
<rect x="21.55" y="335.45" width="5.1" height="2.25" fill="none" stroke="rgb(205,95,50)" stroke-width="0.45" stroke-opacity="0.45"/>
<rect x="27.15" y="335.45" width="5.1" height="2.25" fill="none" stroke="rgb(205,95,50)" stroke-width="0.45" stroke-opacity="0.45"/>
<rect x="32.75" y="335.45" width="5.1" height="2.25" fill="none" stroke="rgb(45,175,100)" stroke-width="0.45" stroke-opacity="0.45"/>
<rect x="38.35" y="320.55" width="5.1" height="17.15" fill="none" stroke="rgb(205,95,50)" stroke-width="0.45" stroke-opacity="0.45"/>
<rect x="43.95" y="326.35" width="5.1" height="11.35" fill="none" stroke="rgb(205,95,50)" stroke-width="0.45" stroke-opacity="0.45"/>
<rect x="49.55" y="323.55" width="5.1" height="14.15" fill="none" stroke="rgb(205,95,50)" stroke-width="0.45" stroke-opacity="0.45"/>
<rect x="55.15" y="311.95" width="5.1" height="25.75" fill="none" stroke="rgb(205,95,50)" stroke-width="0.45" stroke-opacity="0.45"/>
<rect x="60.75" y="306.35" width="5.1" height="31.35" fill="none" stroke="rgb(205,95,50)" stroke-width="0.45" stroke-opacity="0.45"/>
<rect x="66.35" y="300.65" width="5.1" height="37.05" fill="none" stroke="rgb(205,95,50)" stroke-width="0.45" stroke-opacity="0.45"/>
<rect x="71.95" y="288.55" width="5.1" height="49.15" fill="none" stroke="rgb(205,95,50)" stroke-width="0.45" stroke-opacity="0.45"/>
<rect x="77.55" y="283.25" width="5.1" height="54.45" fill="none" stroke="rgb(205,95,50)" stroke-width="0.45" stroke-opacity="0.45"/>
<rect x="83.15" y="283.25" width="5.1" height="54.45" fill="none" stroke="rgb(205,95,50)" stroke-width="0.45" stroke-opacity="0.45"/>
<rect x="88.75" y="274.15" width="5.1" height="63.55" fill="none" stroke="rgb(205,95,50)" stroke-width="0.45" stroke-opacity="0.45"/>
<rect x="94.35" y="265.35" width="5.1" height="72.35" fill="none" stroke="rgb(205,95,50)" stroke-width="0.45" stroke-opacity="0.45"/>
<rect x="99.95" y="297.25" width="5.1" height="40.45" fill="none" stroke="rgb(205,95,50)" stroke-width="0.45" stroke-opacity="0.45"/>
<rect x="105.55" y="294.55" width="5.1" height="43.15" fill="none" stroke="rgb(205,95,50)" stroke-width="0.45" stroke-opacity="0.45"/>
<rect x="111.15" y="283.25" width="5.1" height="54.45" fill="none" stroke="rgb(45,175,100)" stroke-width="0.45" stroke-opacity="0.45"/>
<rect x="116.75" y="297.65" width="5.1" height="40.05" fill="none" stroke="rgb(45,175,100)" stroke-width="0.45" stroke-opacity="0.45"/>
<rect x="122.35" y="283.25" width="5.1" height="54.45" fill="none" stroke="rgb(205,95,50)" stroke-width="0.45" stroke-opacity="0.45"/>
<rect x="127.95" y="288.55" width="5.1" height="49.15" fill="none" stroke="rgb(45,175,100)" stroke-width="0.45" stroke-opacity="0.45"/>
<rect x="133.55" y="303.25" width="5.1" height="34.45" fill="none" stroke="rgb(45,175,100)" stroke-width="0.45" stroke-opacity="0.45"/>
<rect x="139.15" y="314.55" width="5.1" height="23.15" fill="none" stroke="rgb(45,175,100)" stroke-width="0.45" stroke-opacity="0.45"/>
<rect x="144.75" y="329.35" width="5.1" height="8.35" fill="none" stroke="rgb(45,175,100)" stroke-width="0.45" stroke-opacity="0.45"/>
<rect x="150.35" y="329.35" width="5.1" height="8.35" fill="none" stroke="rgb(45,175,100)" stroke-width="0.45" stroke-opacity="0.45"/>
<rect x="155.95" y="326.65" width="5.1" height="11.05" fill="none" stroke="rgb(45,175,100)" stroke-width="0.45" stroke-opacity="0.45"/>
<rect x="161.55" y="332.35" width="5.1" height="5.35" fill="none" stroke="rgb(45,175,100)" stroke-width="0.45" stroke-opacity="0.45"/>
<rect x="167.15" y="335.35" width="5.1" height="2.35" fill="none" stroke="rgb(205,95,50)" stroke-width="0.45" stroke-opacity="0.45"/>
<rect x="172.75" y="332.35" width="5.1" height="5.35" fill="none" stroke="rgb(45,175,100)" stroke-width="0.45" stroke-opacity="0.45"/>
<rect x="178.35" y="337.35" width="5.1" height="0.35" fill="none" stroke="rgb(45,175,100)" stroke-width="0.45" stroke-opacity="0.45"/>
<rect x="183.95" y="337.35" width="5.1" height="0.35" fill="none" stroke="rgb(45,175,100)" stroke-width="0.45" stroke-opacity="0.45"/>
<rect x="189.55" y="329.35" width="5.1" height="8.35" fill="none" stroke="rgb(45,175,100)" stroke-width="0.45" stroke-opacity="0.45"/>
<rect x="195.15" y="337.35" width="5.1" height="0.35" fill="none" stroke="rgb(45,175,100)" stroke-width="0.45" stroke-opacity="0.45"/>
<rect x="200.75" y="335.95" width="5.1" height="1.75" fill="none" stroke="rgb(45,175,100)" stroke-width="0.45" stroke-opacity="0.45"/>
<rect x="204.4" y="342.2" width="10.2" height="5.43" fill="rgb(192,99,46)"/>
<rect x="204.4" y="347.63" width="24.8" height="5.43" fill="rgb(224,116,70)"/>
<rect x="204.4" y="347.63" width="10.2" height="5.43" fill="rgb(192,99,46)"/>
<rect x="204.4" y="353.06" width="24.8" height="5.43" fill="rgb(224,116,70)"/>
<rect x="204.4" y="353.06" width="10.2" height="5.43" fill="rgb(192,99,46)"/>
<rect x="204.4" y="358.49" width="35.3" height="5.43" fill="rgb(60,194,116)"/>
<rect x="204.4" y="358.49" width="15.4" height="5.43" fill="rgb(192,99,46)"/>
<rect x="204.4" y="363.92" width="19.6" height="5.43" fill="rgb(224,116,70)"/>
<rect x="204.4" y="363.92" width="15.4" height="5.43" fill="rgb(192,99,46)"/>
<rect x="204.4" y="369.35" width="19.6" height="5.43" fill="rgb(224,116,70)"/>
<rect x="204.4" y="369.35" width="10.2" height="5.43" fill="rgb(192,99,46)"/>
<rect x="204.4" y="374.78" width="10.2" height="5.43" fill="rgb(192,99,46)"/>
<rect x="204.4" y="380.21" width="10.2" height="5.43" fill="rgb(192,99,46)"/>
<rect x="204.4" y="385.64" width="40.1" height="5.43" fill="rgb(60,194,116)"/>
<rect x="204.4" y="385.64" width="15.4" height="5.43" fill="rgb(192,99,46)"/>
<rect x="204.4" y="391.07" width="24.8" height="5.43" fill="rgb(224,116,70)"/>
<rect x="204.4" y="391.07" width="15.4" height="5.43" fill="rgb(192,99,46)"/>
<rect x="204.4" y="396.5" width="50.4" height="5.43" fill="rgb(224,116,70)"/>
<rect x="204.4" y="396.5" width="19.6" height="5.43" fill="rgb(192,99,46)"/>
<rect x="204.4" y="401.93" width="50.4" height="5.43" fill="rgb(60,194,116)"/>
<rect x="204.4" y="401.93" width="24.8" height="5.43" fill="rgb(192,99,46)"/>
<rect x="204.4" y="407.36" width="35.3" height="5.43" fill="rgb(224,116,70)"/>
<rect x="204.4" y="407.36" width="24.8" height="5.43" fill="rgb(192,99,46)"/>
<rect x="204.4" y="412.79" width="40.1" height="5.43" fill="rgb(224,116,70)"/>
<rect x="204.4" y="412.79" width="35.3" height="5.43" fill="rgb(192,99,46)"/>
<rect x="204.4" y="418.22" width="24.8" height="5.43" fill="rgb(224,116,70)"/>
<rect x="204.4" y="418.22" width="15.4" height="5.43" fill="rgb(192,99,46)"/>
<rect x="204.4" y="423.65" width="35.3" height="5.43" fill="rgb(60,194,116)"/>
<rect x="204.4" y="423.65" width="29.9" height="5.43" fill="rgb(192,99,46)"/>
<rect x="204.4" y="429.08" width="45.3" height="5.43" fill="rgb(224,116,70)"/>
<rect x="204.4" y="429.08" width="30.2" height="5.43" fill="rgb(192,99,46)"/>
<rect x="204.4" y="434.51" width="55.3" height="5.43" fill="rgb(224,116,70)"/>
<rect x="204.4" y="434.51" width="30.2" height="5.43" fill="rgb(192,99,46)"/>
<rect x="204.4" y="439.94" width="45.3" height="5.43" fill="rgb(60,194,116)"/>
<rect x="204.4" y="439.94" width="40.6" height="5.43" fill="rgb(192,99,46)"/>
<rect x="204.4" y="445.37" width="55.3" height="5.43" fill="rgb(60,194,116)"/>
<rect x="204.4" y="445.37" width="50.6" height="5.43" fill="rgb(192,99,46)"/>
<rect x="204.4" y="450.8" width="34.9" height="5.43" fill="rgb(192,99,46)"/>
<rect x="204.4" y="456.23" width="45.3" height="5.43" fill="rgb(192,99,46)"/>
<rect x="204.4" y="461.66" width="50.6" height="5.43" fill="rgb(224,116,70)"/>
<rect x="204.4" y="461.66" width="45.3" height="5.43" fill="rgb(192,99,46)"/>
<rect x="204.4" y="467.09" width="50.6" height="5.43" fill="rgb(60,194,116)"/>
<rect x="204.4" y="467.09" width="35.3" height="5.43" fill="rgb(192,99,46)"/>
<rect x="204.4" y="472.52" width="50.6" height="5.43" fill="rgb(60,194,116)"/>
<rect x="204.4" y="472.52" width="45.3" height="5.43" fill="rgb(192,99,46)"/>
<rect x="204.4" y="477.95" width="60" height="5.43" fill="rgb(60,194,116)"/>
<rect x="204.4" y="477.95" width="25.5" height="5.43" fill="rgb(192,99,46)"/>
<rect x="204.4" y="483.38" width="75.1" height="5.43" fill="rgb(60,194,116)"/>
<rect x="204.4" y="483.38" width="40.6" height="5.43" fill="rgb(192,99,46)"/>
<rect x="204.4" y="488.81" width="55.3" height="5.43" fill="rgb(224,116,70)"/>
<rect x="204.4" y="488.81" width="30.2" height="5.43" fill="rgb(192,99,46)"/>
<rect x="204.4" y="494.24" width="80.2" height="5.43" fill="rgb(224,116,70)"/>
<rect x="204.4" y="494.24" width="69.8" height="5.43" fill="rgb(192,99,46)"/>
<rect x="204.4" y="499.67" width="55.3" height="5.43" fill="rgb(60,194,116)"/>
<rect x="204.4" y="499.67" width="40.6" height="5.43" fill="rgb(192,99,46)"/>
<rect x="204.4" y="505.1" width="34.9" height="5.43" fill="rgb(224,116,70)"/>
<rect x="204.4" y="505.1" width="15.1" height="5.43" fill="rgb(192,99,46)"/>
<rect x="204.4" y="510.53" width="55.3" height="5.43" fill="rgb(60,194,116)"/>
<rect x="204.4" y="510.53" width="19.8" height="5.43" fill="rgb(192,99,46)"/>
<rect x="204.4" y="515.96" width="45.3" height="5.43" fill="rgb(60,194,116)"/>
<rect x="204.4" y="515.96" width="35.3" height="5.43" fill="rgb(192,99,46)"/>
<rect x="204.4" y="342.45" width="9.95" height="4.93" fill="none" stroke="rgb(205,95,50)" stroke-width="0.45" stroke-opacity="0.45"/>
<rect x="204.4" y="347.88" width="24.55" height="4.93" fill="none" stroke="rgb(205,95,50)" stroke-width="0.45" stroke-opacity="0.45"/>
<rect x="204.4" y="353.31" width="24.55" height="4.93" fill="none" stroke="rgb(205,95,50)" stroke-width="0.45" stroke-opacity="0.45"/>
<rect x="204.4" y="358.74" width="35.05" height="4.93" fill="none" stroke="rgb(45,175,100)" stroke-width="0.45" stroke-opacity="0.45"/>
<rect x="204.4" y="364.17" width="19.35" height="4.93" fill="none" stroke="rgb(205,95,50)" stroke-width="0.45" stroke-opacity="0.45"/>
<rect x="204.4" y="369.6" width="19.35" height="4.93" fill="none" stroke="rgb(205,95,50)" stroke-width="0.45" stroke-opacity="0.45"/>
<rect x="204.4" y="375.03" width="9.95" height="4.93" fill="none" stroke="rgb(205,95,50)" stroke-width="0.45" stroke-opacity="0.45"/>
<rect x="204.4" y="380.46" width="9.95" height="4.93" fill="none" stroke="rgb(205,95,50)" stroke-width="0.45" stroke-opacity="0.45"/>
<rect x="204.4" y="385.89" width="39.85" height="4.93" fill="none" stroke="rgb(45,175,100)" stroke-width="0.45" stroke-opacity="0.45"/>
<rect x="204.4" y="391.32" width="24.55" height="4.93" fill="none" stroke="rgb(205,95,50)" stroke-width="0.45" stroke-opacity="0.45"/>
<rect x="204.4" y="396.75" width="50.15" height="4.93" fill="none" stroke="rgb(205,95,50)" stroke-width="0.45" stroke-opacity="0.45"/>
<rect x="204.4" y="402.18" width="50.15" height="4.93" fill="none" stroke="rgb(45,175,100)" stroke-width="0.45" stroke-opacity="0.45"/>
<rect x="204.4" y="407.61" width="35.05" height="4.93" fill="none" stroke="rgb(205,95,50)" stroke-width="0.45" stroke-opacity="0.45"/>
<rect x="204.4" y="413.04" width="39.85" height="4.93" fill="none" stroke="rgb(205,95,50)" stroke-width="0.45" stroke-opacity="0.45"/>
<rect x="204.4" y="418.47" width="24.55" height="4.93" fill="none" stroke="rgb(205,95,50)" stroke-width="0.45" stroke-opacity="0.45"/>
<rect x="204.4" y="423.9" width="35.05" height="4.93" fill="none" stroke="rgb(45,175,100)" stroke-width="0.45" stroke-opacity="0.45"/>
<rect x="204.4" y="429.33" width="45.05" height="4.93" fill="none" stroke="rgb(205,95,50)" stroke-width="0.45" stroke-opacity="0.45"/>
<rect x="204.4" y="434.76" width="55.05" height="4.93" fill="none" stroke="rgb(205,95,50)" stroke-width="0.45" stroke-opacity="0.45"/>
<rect x="204.4" y="440.19" width="45.05" height="4.93" fill="none" stroke="rgb(45,175,100)" stroke-width="0.45" stroke-opacity="0.45"/>
<rect x="204.4" y="445.62" width="55.05" height="4.93" fill="none" stroke="rgb(45,175,100)" stroke-width="0.45" stroke-opacity="0.45"/>
<rect x="204.4" y="451.05" width="34.65" height="4.93" fill="none" stroke="rgb(205,95,50)" stroke-width="0.45" stroke-opacity="0.45"/>
<rect x="204.4" y="456.48" width="45.05" height="4.93" fill="none" stroke="rgb(205,95,50)" stroke-width="0.45" stroke-opacity="0.45"/>
<rect x="204.4" y="461.91" width="50.35" height="4.93" fill="none" stroke="rgb(205,95,50)" stroke-width="0.45" stroke-opacity="0.45"/>
<rect x="204.4" y="467.34" width="50.35" height="4.93" fill="none" stroke="rgb(45,175,100)" stroke-width="0.45" stroke-opacity="0.45"/>
<rect x="204.4" y="472.77" width="50.35" height="4.93" fill="none" stroke="rgb(45,175,100)" stroke-width="0.45" stroke-opacity="0.45"/>
<rect x="204.4" y="478.2" width="59.75" height="4.93" fill="none" stroke="rgb(45,175,100)" stroke-width="0.45" stroke-opacity="0.45"/>
<rect x="204.4" y="483.63" width="74.85" height="4.93" fill="none" stroke="rgb(45,175,100)" stroke-width="0.45" stroke-opacity="0.45"/>
<rect x="204.4" y="489.06" width="55.05" height="4.93" fill="none" stroke="rgb(205,95,50)" stroke-width="0.45" stroke-opacity="0.45"/>
<rect x="204.4" y="494.49" width="79.95" height="4.93" fill="none" stroke="rgb(205,95,50)" stroke-width="0.45" stroke-opacity="0.45"/>
<rect x="204.4" y="499.92" width="55.05" height="4.93" fill="none" stroke="rgb(45,175,100)" stroke-width="0.45" stroke-opacity="0.45"/>
<rect x="204.4" y="505.35" width="34.65" height="4.93" fill="none" stroke="rgb(205,95,50)" stroke-width="0.45" stroke-opacity="0.45"/>
<rect x="204.4" y="510.78" width="55.05" height="4.93" fill="none" stroke="rgb(45,175,100)" stroke-width="0.45" stroke-opacity="0.45"/>
<rect x="204.4" y="516.21" width="45.05" height="4.93" fill="none" stroke="rgb(45,175,100)" stroke-width="0.45" stroke-opacity="0.45"/>
<svg x="216.7" y="200" width="108.8" height="120.5" viewBox="216.7 200 108.8 120.5" overflow="hidden">
<rect x="214.3" y="317" width="3.39" height="3.5" fill="rgb(224,116,70)"/>
<rect x="221.08" y="309.3" width="3.39" height="11.2" fill="rgb(224,116,70)"/>
<rect x="224.47" y="313.3" width="3.39" height="7.2" fill="rgb(224,116,70)"/>
<rect x="224.47" y="317" width="3.39" height="3.5" fill="rgb(192,99,46)"/>
<rect x="227.86" y="317" width="3.39" height="3.5" fill="rgb(192,99,46)"/>
<rect x="231.25" y="317" width="3.39" height="3.5" fill="rgb(60,194,116)"/>
<rect x="234.64" y="309" width="3.39" height="11.5" fill="rgb(192,99,46)"/>
<rect x="238.03" y="309" width="3.39" height="11.5" fill="rgb(192,99,46)"/>
<rect x="241.42" y="285.3" width="3.39" height="35.2" fill="rgb(60,194,116)"/>
<rect x="241.42" y="288.8" width="3.39" height="31.7" fill="rgb(192,99,46)"/>
<rect x="244.81" y="265.1" width="3.39" height="55.4" fill="rgb(224,116,70)"/>
<rect x="244.81" y="284.9" width="3.39" height="35.6" fill="rgb(192,99,46)"/>
<rect x="248.2" y="261.1" width="3.39" height="59.4" fill="rgb(224,116,70)"/>
<rect x="248.2" y="269.5" width="3.39" height="51" fill="rgb(192,99,46)"/>
<rect x="251.59" y="253.2" width="3.39" height="67.3" fill="rgb(224,116,70)"/>
<rect x="251.59" y="272.5" width="3.39" height="48" fill="rgb(192,99,46)"/>
<rect x="254.98" y="217" width="3.39" height="103.5" fill="rgb(224,116,70)"/>
<rect x="254.98" y="269.5" width="3.39" height="51" fill="rgb(192,99,46)"/>
<rect x="258.37" y="237.4" width="3.39" height="83.1" fill="rgb(224,116,70)"/>
<rect x="258.37" y="273.5" width="3.39" height="47" fill="rgb(192,99,46)"/>
<rect x="261.76" y="232.8" width="3.39" height="87.7" fill="rgb(60,194,116)"/>
<rect x="261.76" y="256.6" width="3.39" height="63.9" fill="rgb(192,99,46)"/>
<rect x="265.15" y="224.9" width="3.39" height="95.6" fill="rgb(224,116,70)"/>
<rect x="265.15" y="251.6" width="3.39" height="68.9" fill="rgb(192,99,46)"/>
<rect x="268.54" y="253.2" width="3.39" height="67.3" fill="rgb(224,116,70)"/>
<rect x="268.54" y="258.5" width="3.39" height="62" fill="rgb(192,99,46)"/>
<rect x="271.93" y="261.1" width="3.39" height="59.4" fill="rgb(192,99,46)"/>
<rect x="275.32" y="257.2" width="3.39" height="63.3" fill="rgb(224,116,70)"/>
<rect x="275.32" y="261.1" width="3.39" height="59.4" fill="rgb(192,99,46)"/>
<rect x="278.71" y="261.1" width="3.39" height="59.4" fill="rgb(224,116,70)"/>
<rect x="278.71" y="268.5" width="3.39" height="52" fill="rgb(192,99,46)"/>
<rect x="282.1" y="249.8" width="3.39" height="70.7" fill="rgb(60,194,116)"/>
<rect x="282.1" y="257.6" width="3.39" height="62.9" fill="rgb(192,99,46)"/>
<rect x="285.49" y="269.5" width="3.39" height="51" fill="rgb(60,194,116)"/>
<rect x="285.49" y="297.5" width="3.39" height="23" fill="rgb(192,99,46)"/>
<rect x="288.88" y="257.6" width="3.39" height="62.9" fill="rgb(60,194,116)"/>
<rect x="288.88" y="301.5" width="3.39" height="19" fill="rgb(192,99,46)"/>
<rect x="292.27" y="297.5" width="3.39" height="23" fill="rgb(60,194,116)"/>
<rect x="295.66" y="305.5" width="3.39" height="15" fill="rgb(60,194,116)"/>
<rect x="299.05" y="301.5" width="3.39" height="19" fill="rgb(60,194,116)"/>
<rect x="302.44" y="313.3" width="3.39" height="7.2" fill="rgb(60,194,116)"/>
<rect x="305.83" y="317" width="3.39" height="3.5" fill="rgb(192,99,46)"/>
<rect x="309.22" y="309.3" width="3.39" height="11.2" fill="rgb(60,194,116)"/>
<rect x="312.61" y="317" width="3.39" height="3.5" fill="rgb(60,194,116)"/>
<rect x="319.39" y="317" width="3.39" height="3.5" fill="rgb(60,194,116)"/>
<rect x="322.78" y="317" width="3.39" height="3.5" fill="rgb(60,194,116)"/>
<rect x="214.55" y="317.25" width="2.89" height="3.25" fill="none" stroke="rgb(205,95,50)" stroke-width="0.45" stroke-opacity="0.45"/>
<rect x="221.33" y="309.55" width="2.89" height="10.95" fill="none" stroke="rgb(205,95,50)" stroke-width="0.45" stroke-opacity="0.45"/>
<rect x="224.72" y="313.55" width="2.89" height="6.95" fill="none" stroke="rgb(205,95,50)" stroke-width="0.45" stroke-opacity="0.45"/>
<rect x="228.11" y="317.25" width="2.89" height="3.25" fill="none" stroke="rgb(205,95,50)" stroke-width="0.45" stroke-opacity="0.45"/>
<rect x="231.5" y="317.25" width="2.89" height="3.25" fill="none" stroke="rgb(45,175,100)" stroke-width="0.45" stroke-opacity="0.45"/>
<rect x="234.89" y="309.25" width="2.89" height="11.25" fill="none" stroke="rgb(205,95,50)" stroke-width="0.45" stroke-opacity="0.45"/>
<rect x="238.28" y="309.25" width="2.89" height="11.25" fill="none" stroke="rgb(205,95,50)" stroke-width="0.45" stroke-opacity="0.45"/>
<rect x="241.67" y="285.55" width="2.89" height="34.95" fill="none" stroke="rgb(45,175,100)" stroke-width="0.45" stroke-opacity="0.45"/>
<rect x="245.06" y="265.35" width="2.89" height="55.15" fill="none" stroke="rgb(205,95,50)" stroke-width="0.45" stroke-opacity="0.45"/>
<rect x="248.45" y="261.35" width="2.89" height="59.15" fill="none" stroke="rgb(205,95,50)" stroke-width="0.45" stroke-opacity="0.45"/>
<rect x="251.84" y="253.45" width="2.89" height="67.05" fill="none" stroke="rgb(205,95,50)" stroke-width="0.45" stroke-opacity="0.45"/>
<rect x="255.23" y="217.25" width="2.89" height="103.25" fill="none" stroke="rgb(205,95,50)" stroke-width="0.45" stroke-opacity="0.45"/>
<rect x="258.62" y="237.65" width="2.89" height="82.85" fill="none" stroke="rgb(205,95,50)" stroke-width="0.45" stroke-opacity="0.45"/>
<rect x="262.01" y="233.05" width="2.89" height="87.45" fill="none" stroke="rgb(45,175,100)" stroke-width="0.45" stroke-opacity="0.45"/>
<rect x="265.4" y="225.15" width="2.89" height="95.35" fill="none" stroke="rgb(205,95,50)" stroke-width="0.45" stroke-opacity="0.45"/>
<rect x="268.79" y="253.45" width="2.89" height="67.05" fill="none" stroke="rgb(205,95,50)" stroke-width="0.45" stroke-opacity="0.45"/>
<rect x="272.18" y="261.35" width="2.89" height="59.15" fill="none" stroke="rgb(205,95,50)" stroke-width="0.45" stroke-opacity="0.45"/>
<rect x="275.57" y="257.45" width="2.89" height="63.05" fill="none" stroke="rgb(205,95,50)" stroke-width="0.45" stroke-opacity="0.45"/>
<rect x="278.96" y="261.35" width="2.89" height="59.15" fill="none" stroke="rgb(205,95,50)" stroke-width="0.45" stroke-opacity="0.45"/>
<rect x="282.35" y="250.05" width="2.89" height="70.45" fill="none" stroke="rgb(45,175,100)" stroke-width="0.45" stroke-opacity="0.45"/>
<rect x="285.74" y="269.75" width="2.89" height="50.75" fill="none" stroke="rgb(45,175,100)" stroke-width="0.45" stroke-opacity="0.45"/>
<rect x="289.13" y="257.85" width="2.89" height="62.65" fill="none" stroke="rgb(45,175,100)" stroke-width="0.45" stroke-opacity="0.45"/>
<rect x="292.52" y="297.75" width="2.89" height="22.75" fill="none" stroke="rgb(45,175,100)" stroke-width="0.45" stroke-opacity="0.45"/>
<rect x="295.91" y="305.75" width="2.89" height="14.75" fill="none" stroke="rgb(45,175,100)" stroke-width="0.45" stroke-opacity="0.45"/>
<rect x="299.3" y="301.75" width="2.89" height="18.75" fill="none" stroke="rgb(45,175,100)" stroke-width="0.45" stroke-opacity="0.45"/>
<rect x="302.69" y="313.55" width="2.89" height="6.95" fill="none" stroke="rgb(45,175,100)" stroke-width="0.45" stroke-opacity="0.45"/>
<rect x="306.08" y="317.25" width="2.89" height="3.25" fill="none" stroke="rgb(205,95,50)" stroke-width="0.45" stroke-opacity="0.45"/>
<rect x="309.47" y="309.55" width="2.89" height="10.95" fill="none" stroke="rgb(45,175,100)" stroke-width="0.45" stroke-opacity="0.45"/>
<rect x="312.86" y="317.25" width="2.89" height="3.25" fill="none" stroke="rgb(45,175,100)" stroke-width="0.45" stroke-opacity="0.45"/>
<rect x="319.64" y="317.25" width="2.89" height="3.25" fill="none" stroke="rgb(45,175,100)" stroke-width="0.45" stroke-opacity="0.45"/>
<rect x="323.03" y="317.25" width="2.89" height="3.25" fill="none" stroke="rgb(45,175,100)" stroke-width="0.45" stroke-opacity="0.45"/>
</svg>
<rect x="392.61" y="331" width="5.41" height="6.7" fill="rgb(60,194,116)"/>
<rect x="398.02" y="334.6" width="5.41" height="3.1" fill="rgb(224,116,70)"/>
<rect x="403.43" y="320.4" width="5.41" height="17.3" fill="rgb(60,194,116)"/>
<rect x="408.84" y="324.2" width="5.41" height="13.5" fill="rgb(60,194,116)"/>
<rect x="414.25" y="310.3" width="5.41" height="27.4" fill="rgb(60,194,116)"/>
<rect x="419.66" y="306.5" width="5.41" height="31.2" fill="rgb(60,194,116)"/>
<rect x="419.66" y="324.2" width="5.41" height="13.5" fill="rgb(192,99,46)"/>
<rect x="425.07" y="296.4" width="5.41" height="41.3" fill="rgb(60,194,116)"/>
<rect x="425.07" y="313.7" width="5.41" height="24" fill="rgb(192,99,46)"/>
<rect x="430.48" y="268" width="5.41" height="69.7" fill="rgb(60,194,116)"/>
<rect x="430.48" y="299.5" width="5.41" height="38.2" fill="rgb(192,99,46)"/>
<rect x="435.89" y="271.7" width="5.41" height="66" fill="rgb(224,116,70)"/>
<rect x="435.89" y="292.7" width="5.41" height="45" fill="rgb(192,99,46)"/>
<rect x="441.3" y="285.7" width="5.41" height="52" fill="rgb(60,194,116)"/>
<rect x="441.3" y="317" width="5.41" height="20.7" fill="rgb(192,99,46)"/>
<rect x="446.71" y="289.4" width="5.41" height="48.3" fill="rgb(60,194,116)"/>
<rect x="446.71" y="296.4" width="5.41" height="41.3" fill="rgb(192,99,46)"/>
<rect x="452.12" y="303.1" width="5.41" height="34.6" fill="rgb(192,99,46)"/>
<rect x="457.53" y="299.5" width="5.41" height="38.2" fill="rgb(224,116,70)"/>
<rect x="457.53" y="303.3" width="5.41" height="34.4" fill="rgb(192,99,46)"/>
<rect x="462.94" y="303.3" width="5.41" height="34.4" fill="rgb(224,116,70)"/>
<rect x="462.94" y="305.7" width="5.41" height="32" fill="rgb(192,99,46)"/>
<rect x="468.35" y="277.7" width="5.41" height="60" fill="rgb(224,116,70)"/>
<rect x="468.35" y="292.5" width="5.41" height="45.2" fill="rgb(192,99,46)"/>
<rect x="473.76" y="274.9" width="5.41" height="62.8" fill="rgb(224,116,70)"/>
<rect x="473.76" y="292.5" width="5.41" height="45.2" fill="rgb(192,99,46)"/>
<rect x="479.17" y="303.3" width="5.41" height="34.4" fill="rgb(224,116,70)"/>
<rect x="479.17" y="306.1" width="5.41" height="31.6" fill="rgb(192,99,46)"/>
<rect x="484.58" y="299.5" width="5.41" height="38.2" fill="rgb(60,194,116)"/>
<rect x="484.58" y="323.5" width="5.41" height="14.2" fill="rgb(192,99,46)"/>
<rect x="489.99" y="267.9" width="5.41" height="69.8" fill="rgb(224,116,70)"/>
<rect x="489.99" y="306.1" width="5.41" height="31.6" fill="rgb(192,99,46)"/>
<rect x="495.4" y="306.1" width="5.41" height="31.6" fill="rgb(224,116,70)"/>
<rect x="495.4" y="327.3" width="5.41" height="10.4" fill="rgb(192,99,46)"/>
<rect x="500.81" y="317.1" width="5.41" height="20.6" fill="rgb(224,116,70)"/>
<rect x="500.81" y="327.3" width="5.41" height="10.4" fill="rgb(192,99,46)"/>
<rect x="506.22" y="292.5" width="5.41" height="45.2" fill="rgb(224,116,70)"/>
<rect x="506.22" y="312.7" width="5.41" height="25" fill="rgb(192,99,46)"/>
<rect x="511.63" y="323.5" width="5.41" height="14.2" fill="rgb(192,99,46)"/>
<rect x="517.04" y="320.3" width="5.41" height="17.4" fill="rgb(192,99,46)"/>
<rect x="522.45" y="320.3" width="5.41" height="17.4" fill="rgb(60,194,116)"/>
<rect x="522.45" y="323.5" width="5.41" height="14.2" fill="rgb(192,99,46)"/>
<rect x="527.86" y="310.3" width="5.41" height="27.4" fill="rgb(224,116,70)"/>
<rect x="527.86" y="330.7" width="5.41" height="7" fill="rgb(192,99,46)"/>
<rect x="533.27" y="323.5" width="5.41" height="14.2" fill="rgb(60,194,116)"/>
<rect x="533.27" y="330.7" width="5.41" height="7" fill="rgb(192,99,46)"/>
<rect x="538.68" y="323.5" width="5.41" height="14.2" fill="rgb(224,116,70)"/>
<rect x="538.68" y="326.9" width="5.41" height="10.8" fill="rgb(192,99,46)"/>
<rect x="544.09" y="317.1" width="5.41" height="20.6" fill="rgb(224,116,70)"/>
<rect x="544.09" y="330.7" width="5.41" height="7" fill="rgb(192,99,46)"/>
<rect x="549.5" y="317.1" width="5.41" height="20.6" fill="rgb(60,194,116)"/>
<rect x="549.5" y="330.7" width="5.41" height="7" fill="rgb(192,99,46)"/>
<rect x="554.91" y="330.7" width="5.41" height="7" fill="rgb(224,116,70)"/>
<rect x="554.91" y="333.9" width="5.41" height="3.8" fill="rgb(192,99,46)"/>
<rect x="560.32" y="327.3" width="5.41" height="10.4" fill="rgb(60,194,116)"/>
<rect x="560.32" y="333.9" width="5.41" height="3.8" fill="rgb(192,99,46)"/>
<rect x="392.86" y="331.25" width="4.91" height="6.45" fill="none" stroke="rgb(45,175,100)" stroke-width="0.45" stroke-opacity="0.45"/>
<rect x="398.27" y="334.85" width="4.91" height="2.85" fill="none" stroke="rgb(205,95,50)" stroke-width="0.45" stroke-opacity="0.45"/>
<rect x="403.68" y="320.65" width="4.91" height="17.05" fill="none" stroke="rgb(45,175,100)" stroke-width="0.45" stroke-opacity="0.45"/>
<rect x="409.09" y="324.45" width="4.91" height="13.25" fill="none" stroke="rgb(45,175,100)" stroke-width="0.45" stroke-opacity="0.45"/>
<rect x="414.5" y="310.55" width="4.91" height="27.15" fill="none" stroke="rgb(45,175,100)" stroke-width="0.45" stroke-opacity="0.45"/>
<rect x="419.91" y="306.75" width="4.91" height="30.95" fill="none" stroke="rgb(45,175,100)" stroke-width="0.45" stroke-opacity="0.45"/>
<rect x="425.32" y="296.65" width="4.91" height="41.05" fill="none" stroke="rgb(45,175,100)" stroke-width="0.45" stroke-opacity="0.45"/>
<rect x="430.73" y="268.25" width="4.91" height="69.45" fill="none" stroke="rgb(45,175,100)" stroke-width="0.45" stroke-opacity="0.45"/>
<rect x="436.14" y="271.95" width="4.91" height="65.75" fill="none" stroke="rgb(205,95,50)" stroke-width="0.45" stroke-opacity="0.45"/>
<rect x="441.55" y="285.95" width="4.91" height="51.75" fill="none" stroke="rgb(45,175,100)" stroke-width="0.45" stroke-opacity="0.45"/>
<rect x="446.96" y="289.65" width="4.91" height="48.05" fill="none" stroke="rgb(45,175,100)" stroke-width="0.45" stroke-opacity="0.45"/>
<rect x="452.37" y="303.35" width="4.91" height="34.35" fill="none" stroke="rgb(205,95,50)" stroke-width="0.45" stroke-opacity="0.45"/>
<rect x="457.78" y="299.75" width="4.91" height="37.95" fill="none" stroke="rgb(205,95,50)" stroke-width="0.45" stroke-opacity="0.45"/>
<rect x="463.19" y="303.55" width="4.91" height="34.15" fill="none" stroke="rgb(205,95,50)" stroke-width="0.45" stroke-opacity="0.45"/>
<rect x="468.6" y="277.95" width="4.91" height="59.75" fill="none" stroke="rgb(205,95,50)" stroke-width="0.45" stroke-opacity="0.45"/>
<rect x="474.01" y="275.15" width="4.91" height="62.55" fill="none" stroke="rgb(205,95,50)" stroke-width="0.45" stroke-opacity="0.45"/>
<rect x="479.42" y="303.55" width="4.91" height="34.15" fill="none" stroke="rgb(205,95,50)" stroke-width="0.45" stroke-opacity="0.45"/>
<rect x="484.83" y="299.75" width="4.91" height="37.95" fill="none" stroke="rgb(45,175,100)" stroke-width="0.45" stroke-opacity="0.45"/>
<rect x="490.24" y="268.15" width="4.91" height="69.55" fill="none" stroke="rgb(205,95,50)" stroke-width="0.45" stroke-opacity="0.45"/>
<rect x="495.65" y="306.35" width="4.91" height="31.35" fill="none" stroke="rgb(205,95,50)" stroke-width="0.45" stroke-opacity="0.45"/>
<rect x="501.06" y="317.35" width="4.91" height="20.35" fill="none" stroke="rgb(205,95,50)" stroke-width="0.45" stroke-opacity="0.45"/>
<rect x="506.47" y="292.75" width="4.91" height="44.95" fill="none" stroke="rgb(205,95,50)" stroke-width="0.45" stroke-opacity="0.45"/>
<rect x="511.88" y="323.75" width="4.91" height="13.95" fill="none" stroke="rgb(205,95,50)" stroke-width="0.45" stroke-opacity="0.45"/>
<rect x="517.29" y="320.55" width="4.91" height="17.15" fill="none" stroke="rgb(205,95,50)" stroke-width="0.45" stroke-opacity="0.45"/>
<rect x="522.7" y="320.55" width="4.91" height="17.15" fill="none" stroke="rgb(45,175,100)" stroke-width="0.45" stroke-opacity="0.45"/>
<rect x="528.11" y="310.55" width="4.91" height="27.15" fill="none" stroke="rgb(205,95,50)" stroke-width="0.45" stroke-opacity="0.45"/>
<rect x="533.52" y="323.75" width="4.91" height="13.95" fill="none" stroke="rgb(45,175,100)" stroke-width="0.45" stroke-opacity="0.45"/>
<rect x="538.93" y="323.75" width="4.91" height="13.95" fill="none" stroke="rgb(205,95,50)" stroke-width="0.45" stroke-opacity="0.45"/>
<rect x="544.34" y="317.35" width="4.91" height="20.35" fill="none" stroke="rgb(205,95,50)" stroke-width="0.45" stroke-opacity="0.45"/>
<rect x="549.75" y="317.35" width="4.91" height="20.35" fill="none" stroke="rgb(45,175,100)" stroke-width="0.45" stroke-opacity="0.45"/>
<rect x="555.16" y="330.95" width="4.91" height="6.75" fill="none" stroke="rgb(205,95,50)" stroke-width="0.45" stroke-opacity="0.45"/>
<rect x="560.57" y="327.55" width="4.91" height="10.15" fill="none" stroke="rgb(45,175,100)" stroke-width="0.45" stroke-opacity="0.45"/>
<rect x="572.9" y="341.8" width="0.8" height="5.47" fill="rgb(192,99,46)"/>
<rect x="572.9" y="347.27" width="3.8" height="5.47" fill="rgb(60,194,116)"/>
<rect x="572.9" y="352.74" width="3.8" height="5.47" fill="rgb(224,116,70)"/>
<rect x="572.9" y="358.21" width="3.8" height="5.47" fill="rgb(224,116,70)"/>
<rect x="572.9" y="363.68" width="3.8" height="5.47" fill="rgb(224,116,70)"/>
<rect x="572.9" y="369.15" width="3.8" height="5.47" fill="rgb(224,116,70)"/>
<rect x="572.9" y="374.62" width="13.7" height="5.47" fill="rgb(224,116,70)"/>
<rect x="572.9" y="380.09" width="3.8" height="5.47" fill="rgb(60,194,116)"/>
<rect x="572.9" y="385.56" width="6.8" height="5.47" fill="rgb(192,99,46)"/>
<rect x="572.9" y="391.03" width="13.7" height="5.47" fill="rgb(224,116,70)"/>
<rect x="572.9" y="396.5" width="3.8" height="5.47" fill="rgb(192,99,46)"/>
<rect x="572.9" y="401.97" width="9.9" height="5.47" fill="rgb(60,194,116)"/>
<rect x="572.9" y="401.97" width="3.8" height="5.47" fill="rgb(192,99,46)"/>
<rect x="572.9" y="407.44" width="9.9" height="5.47" fill="rgb(60,194,116)"/>
<rect x="572.9" y="407.44" width="3.8" height="5.47" fill="rgb(192,99,46)"/>
<rect x="572.9" y="412.91" width="13.7" height="5.47" fill="rgb(60,194,116)"/>
<rect x="572.9" y="412.91" width="6.8" height="5.47" fill="rgb(192,99,46)"/>
<rect x="572.9" y="418.38" width="9.9" height="5.47" fill="rgb(192,99,46)"/>
<rect x="572.9" y="423.85" width="19.8" height="5.47" fill="rgb(224,116,70)"/>
<rect x="572.9" y="423.85" width="3" height="5.47" fill="rgb(192,99,46)"/>
<rect x="572.9" y="429.32" width="12.9" height="5.47" fill="rgb(192,99,46)"/>
<rect x="572.9" y="434.79" width="29.7" height="5.47" fill="rgb(224,116,70)"/>
<rect x="572.9" y="434.79" width="19.8" height="5.47" fill="rgb(192,99,46)"/>
<rect x="572.9" y="440.26" width="26.7" height="5.47" fill="rgb(60,194,116)"/>
<rect x="572.9" y="440.26" width="10.5" height="5.47" fill="rgb(192,99,46)"/>
<rect x="572.9" y="445.73" width="16.8" height="5.47" fill="rgb(224,116,70)"/>
<rect x="572.9" y="445.73" width="10.5" height="5.47" fill="rgb(192,99,46)"/>
<rect x="572.9" y="451.2" width="19.8" height="5.47" fill="rgb(192,99,46)"/>
<rect x="572.9" y="456.67" width="36.2" height="5.47" fill="rgb(60,194,116)"/>
<rect x="572.9" y="456.67" width="33.7" height="5.47" fill="rgb(192,99,46)"/>
<rect x="572.9" y="462.14" width="43" height="5.47" fill="rgb(224,116,70)"/>
<rect x="572.9" y="462.14" width="33.7" height="5.47" fill="rgb(192,99,46)"/>
<rect x="572.9" y="467.61" width="50" height="5.47" fill="rgb(224,116,70)"/>
<rect x="572.9" y="467.61" width="46.5" height="5.47" fill="rgb(192,99,46)"/>
<rect x="572.9" y="473.08" width="29.7" height="5.47" fill="rgb(224,116,70)"/>
<rect x="572.9" y="473.08" width="23.8" height="5.47" fill="rgb(192,99,46)"/>
<rect x="572.9" y="478.55" width="86" height="5.47" fill="rgb(224,116,70)"/>
<rect x="572.9" y="478.55" width="59.7" height="5.47" fill="rgb(192,99,46)"/>
<rect x="572.9" y="484.02" width="52.8" height="5.47" fill="rgb(60,194,116)"/>
<rect x="572.9" y="484.02" width="42.9" height="5.47" fill="rgb(192,99,46)"/>
<rect x="572.9" y="489.49" width="62.7" height="5.47" fill="rgb(60,194,116)"/>
<rect x="572.9" y="489.49" width="56.3" height="5.47" fill="rgb(192,99,46)"/>
<rect x="572.9" y="494.96" width="59.3" height="5.47" fill="rgb(60,194,116)"/>
<rect x="572.9" y="494.96" width="46.5" height="5.47" fill="rgb(192,99,46)"/>
<rect x="572.9" y="500.43" width="86" height="5.47" fill="rgb(60,194,116)"/>
<rect x="572.9" y="500.43" width="49.8" height="5.47" fill="rgb(192,99,46)"/>
<rect x="572.9" y="505.9" width="82.8" height="5.47" fill="rgb(224,116,70)"/>
<rect x="572.9" y="505.9" width="76.1" height="5.47" fill="rgb(192,99,46)"/>
<rect x="572.9" y="511.37" width="62.7" height="5.47" fill="rgb(60,194,116)"/>
<rect x="572.9" y="511.37" width="59.7" height="5.47" fill="rgb(192,99,46)"/>
<rect x="572.9" y="516.84" width="62.7" height="5.47" fill="rgb(60,194,116)"/>
<rect x="572.9" y="516.84" width="39.9" height="5.47" fill="rgb(192,99,46)"/>
<rect x="572.9" y="342.05" width="0.55" height="4.97" fill="none" stroke="rgb(205,95,50)" stroke-width="0.45" stroke-opacity="0.45"/>
<rect x="572.9" y="347.52" width="3.55" height="4.97" fill="none" stroke="rgb(45,175,100)" stroke-width="0.45" stroke-opacity="0.45"/>
<rect x="572.9" y="352.99" width="3.55" height="4.97" fill="none" stroke="rgb(205,95,50)" stroke-width="0.45" stroke-opacity="0.45"/>
<rect x="572.9" y="358.46" width="3.55" height="4.97" fill="none" stroke="rgb(205,95,50)" stroke-width="0.45" stroke-opacity="0.45"/>
<rect x="572.9" y="363.93" width="3.55" height="4.97" fill="none" stroke="rgb(205,95,50)" stroke-width="0.45" stroke-opacity="0.45"/>
<rect x="572.9" y="369.4" width="3.55" height="4.97" fill="none" stroke="rgb(205,95,50)" stroke-width="0.45" stroke-opacity="0.45"/>
<rect x="572.9" y="374.87" width="13.45" height="4.97" fill="none" stroke="rgb(205,95,50)" stroke-width="0.45" stroke-opacity="0.45"/>
<rect x="572.9" y="380.34" width="3.55" height="4.97" fill="none" stroke="rgb(45,175,100)" stroke-width="0.45" stroke-opacity="0.45"/>
<rect x="572.9" y="385.81" width="6.55" height="4.97" fill="none" stroke="rgb(205,95,50)" stroke-width="0.45" stroke-opacity="0.45"/>
<rect x="572.9" y="391.28" width="13.45" height="4.97" fill="none" stroke="rgb(205,95,50)" stroke-width="0.45" stroke-opacity="0.45"/>
<rect x="572.9" y="396.75" width="3.55" height="4.97" fill="none" stroke="rgb(205,95,50)" stroke-width="0.45" stroke-opacity="0.45"/>
<rect x="572.9" y="402.22" width="9.65" height="4.97" fill="none" stroke="rgb(45,175,100)" stroke-width="0.45" stroke-opacity="0.45"/>
<rect x="572.9" y="407.69" width="9.65" height="4.97" fill="none" stroke="rgb(45,175,100)" stroke-width="0.45" stroke-opacity="0.45"/>
<rect x="572.9" y="413.16" width="13.45" height="4.97" fill="none" stroke="rgb(45,175,100)" stroke-width="0.45" stroke-opacity="0.45"/>
<rect x="572.9" y="418.63" width="9.65" height="4.97" fill="none" stroke="rgb(205,95,50)" stroke-width="0.45" stroke-opacity="0.45"/>
<rect x="572.9" y="424.1" width="19.55" height="4.97" fill="none" stroke="rgb(205,95,50)" stroke-width="0.45" stroke-opacity="0.45"/>
<rect x="572.9" y="429.57" width="12.65" height="4.97" fill="none" stroke="rgb(205,95,50)" stroke-width="0.45" stroke-opacity="0.45"/>
<rect x="572.9" y="435.04" width="29.45" height="4.97" fill="none" stroke="rgb(205,95,50)" stroke-width="0.45" stroke-opacity="0.45"/>
<rect x="572.9" y="440.51" width="26.45" height="4.97" fill="none" stroke="rgb(45,175,100)" stroke-width="0.45" stroke-opacity="0.45"/>
<rect x="572.9" y="445.98" width="16.55" height="4.97" fill="none" stroke="rgb(205,95,50)" stroke-width="0.45" stroke-opacity="0.45"/>
<rect x="572.9" y="451.45" width="19.55" height="4.97" fill="none" stroke="rgb(205,95,50)" stroke-width="0.45" stroke-opacity="0.45"/>
<rect x="572.9" y="456.92" width="35.95" height="4.97" fill="none" stroke="rgb(45,175,100)" stroke-width="0.45" stroke-opacity="0.45"/>
<rect x="572.9" y="462.39" width="42.75" height="4.97" fill="none" stroke="rgb(205,95,50)" stroke-width="0.45" stroke-opacity="0.45"/>
<rect x="572.9" y="467.86" width="49.75" height="4.97" fill="none" stroke="rgb(205,95,50)" stroke-width="0.45" stroke-opacity="0.45"/>
<rect x="572.9" y="473.33" width="29.45" height="4.97" fill="none" stroke="rgb(205,95,50)" stroke-width="0.45" stroke-opacity="0.45"/>
<rect x="572.9" y="478.8" width="85.75" height="4.97" fill="none" stroke="rgb(205,95,50)" stroke-width="0.45" stroke-opacity="0.45"/>
<rect x="572.9" y="484.27" width="52.55" height="4.97" fill="none" stroke="rgb(45,175,100)" stroke-width="0.45" stroke-opacity="0.45"/>
<rect x="572.9" y="489.74" width="62.45" height="4.97" fill="none" stroke="rgb(45,175,100)" stroke-width="0.45" stroke-opacity="0.45"/>
<rect x="572.9" y="495.21" width="59.05" height="4.97" fill="none" stroke="rgb(45,175,100)" stroke-width="0.45" stroke-opacity="0.45"/>
<rect x="572.9" y="500.68" width="85.75" height="4.97" fill="none" stroke="rgb(45,175,100)" stroke-width="0.45" stroke-opacity="0.45"/>
<rect x="572.9" y="506.15" width="82.55" height="4.97" fill="none" stroke="rgb(205,95,50)" stroke-width="0.45" stroke-opacity="0.45"/>
<rect x="572.9" y="511.62" width="62.45" height="4.97" fill="none" stroke="rgb(45,175,100)" stroke-width="0.45" stroke-opacity="0.45"/>
<rect x="572.9" y="517.09" width="62.45" height="4.97" fill="none" stroke="rgb(45,175,100)" stroke-width="0.45" stroke-opacity="0.45"/>
<svg x="574.3" y="200" width="106.7" height="120.5" viewBox="574.3 200 106.7 120.5" overflow="hidden">
<rect x="583.6" y="312.1" width="2.53" height="8.4" fill="rgb(60,194,116)"/>
<rect x="586.13" y="312.1" width="2.53" height="8.4" fill="rgb(60,194,116)"/>
<rect x="588.66" y="312.1" width="2.53" height="8.4" fill="rgb(60,194,116)"/>
<rect x="591.19" y="312.1" width="2.53" height="8.4" fill="rgb(60,194,116)"/>
<rect x="591.19" y="316" width="2.53" height="4.5" fill="rgb(192,99,46)"/>
<rect x="593.72" y="304.3" width="2.53" height="16.2" fill="rgb(60,194,116)"/>
<rect x="596.25" y="287.3" width="2.53" height="33.2" fill="rgb(60,194,116)"/>
<rect x="598.78" y="232.2" width="2.53" height="88.3" fill="rgb(60,194,116)"/>
<rect x="598.78" y="312.1" width="2.53" height="8.4" fill="rgb(192,99,46)"/>
<rect x="601.31" y="236.2" width="2.53" height="84.3" fill="rgb(60,194,116)"/>
<rect x="601.31" y="286.8" width="2.53" height="33.7" fill="rgb(192,99,46)"/>
<rect x="603.84" y="236.2" width="2.53" height="84.3" fill="rgb(224,116,70)"/>
<rect x="603.84" y="257.1" width="2.53" height="63.4" fill="rgb(192,99,46)"/>
<rect x="606.37" y="242.3" width="2.53" height="78.2" fill="rgb(224,116,70)"/>
<rect x="606.37" y="260.5" width="2.53" height="60" fill="rgb(192,99,46)"/>
<rect x="608.9" y="249.3" width="2.53" height="71.2" fill="rgb(224,116,70)"/>
<rect x="608.9" y="265.5" width="2.53" height="55" fill="rgb(192,99,46)"/>
<rect x="611.43" y="236.7" width="2.53" height="83.8" fill="rgb(224,116,70)"/>
<rect x="611.43" y="239.7" width="2.53" height="80.8" fill="rgb(192,99,46)"/>
<rect x="613.96" y="236.2" width="2.53" height="84.3" fill="rgb(224,116,70)"/>
<rect x="613.96" y="254.5" width="2.53" height="66" fill="rgb(192,99,46)"/>
<rect x="616.49" y="242.3" width="2.53" height="78.2" fill="rgb(224,116,70)"/>
<rect x="616.49" y="260.5" width="2.53" height="60" fill="rgb(192,99,46)"/>
<rect x="619.02" y="257.1" width="2.53" height="63.4" fill="rgb(60,194,116)"/>
<rect x="619.02" y="260.6" width="2.53" height="59.9" fill="rgb(192,99,46)"/>
<rect x="621.55" y="260.6" width="2.53" height="59.9" fill="rgb(224,116,70)"/>
<rect x="621.55" y="270.5" width="2.53" height="50" fill="rgb(192,99,46)"/>
<rect x="624.08" y="248.5" width="2.53" height="72" fill="rgb(224,116,70)"/>
<rect x="624.08" y="270.5" width="2.53" height="50" fill="rgb(192,99,46)"/>
<rect x="626.61" y="240.2" width="2.53" height="80.3" fill="rgb(224,116,70)"/>
<rect x="626.61" y="275.5" width="2.53" height="45" fill="rgb(192,99,46)"/>
<rect x="629.14" y="286.8" width="2.53" height="33.7" fill="rgb(192,99,46)"/>
<rect x="631.67" y="274.1" width="2.53" height="46.4" fill="rgb(224,116,70)"/>
<rect x="631.67" y="290.5" width="2.53" height="30" fill="rgb(192,99,46)"/>
<rect x="634.2" y="290.8" width="2.53" height="29.7" fill="rgb(224,116,70)"/>
<rect x="634.2" y="295.5" width="2.53" height="25" fill="rgb(192,99,46)"/>
<rect x="636.73" y="286.8" width="2.53" height="33.7" fill="rgb(224,116,70)"/>
<rect x="636.73" y="295.5" width="2.53" height="25" fill="rgb(192,99,46)"/>
<rect x="639.26" y="286.8" width="2.53" height="33.7" fill="rgb(60,194,116)"/>
<rect x="639.26" y="294.7" width="2.53" height="25.8" fill="rgb(192,99,46)"/>
<rect x="641.79" y="303.7" width="2.53" height="16.8" fill="rgb(60,194,116)"/>
<rect x="641.79" y="312.1" width="2.53" height="8.4" fill="rgb(192,99,46)"/>
<rect x="644.32" y="295" width="2.53" height="25.5" fill="rgb(224,116,70)"/>
<rect x="644.32" y="312.5" width="2.53" height="8" fill="rgb(192,99,46)"/>
<rect x="646.85" y="308.3" width="2.53" height="12.2" fill="rgb(224,116,70)"/>
<rect x="646.85" y="312.5" width="2.53" height="8" fill="rgb(192,99,46)"/>
<rect x="649.38" y="312.1" width="2.53" height="8.4" fill="rgb(224,116,70)"/>
<rect x="649.38" y="316.5" width="2.53" height="4" fill="rgb(192,99,46)"/>
<rect x="651.91" y="316" width="2.53" height="4.5" fill="rgb(224,116,70)"/>
<rect x="654.44" y="312.1" width="2.53" height="8.4" fill="rgb(224,116,70)"/>
<rect x="656.97" y="316" width="2.53" height="4.5" fill="rgb(224,116,70)"/>
<rect x="659.5" y="312.1" width="2.53" height="8.4" fill="rgb(224,116,70)"/>
<rect x="662.03" y="312.1" width="2.53" height="8.4" fill="rgb(60,194,116)"/>
<rect x="667.09" y="316" width="2.53" height="4.5" fill="rgb(224,116,70)"/>
<rect x="583.85" y="312.35" width="2.03" height="8.15" fill="none" stroke="rgb(45,175,100)" stroke-width="0.45" stroke-opacity="0.45"/>
<rect x="586.38" y="312.35" width="2.03" height="8.15" fill="none" stroke="rgb(45,175,100)" stroke-width="0.45" stroke-opacity="0.45"/>
<rect x="588.91" y="312.35" width="2.03" height="8.15" fill="none" stroke="rgb(45,175,100)" stroke-width="0.45" stroke-opacity="0.45"/>
<rect x="591.44" y="312.35" width="2.03" height="8.15" fill="none" stroke="rgb(45,175,100)" stroke-width="0.45" stroke-opacity="0.45"/>
<rect x="593.97" y="304.55" width="2.03" height="15.95" fill="none" stroke="rgb(45,175,100)" stroke-width="0.45" stroke-opacity="0.45"/>
<rect x="596.5" y="287.55" width="2.03" height="32.95" fill="none" stroke="rgb(45,175,100)" stroke-width="0.45" stroke-opacity="0.45"/>
<rect x="599.03" y="232.45" width="2.03" height="88.05" fill="none" stroke="rgb(45,175,100)" stroke-width="0.45" stroke-opacity="0.45"/>
<rect x="601.56" y="236.45" width="2.03" height="84.05" fill="none" stroke="rgb(45,175,100)" stroke-width="0.45" stroke-opacity="0.45"/>
<rect x="604.09" y="236.45" width="2.03" height="84.05" fill="none" stroke="rgb(205,95,50)" stroke-width="0.45" stroke-opacity="0.45"/>
<rect x="606.62" y="242.55" width="2.03" height="77.95" fill="none" stroke="rgb(205,95,50)" stroke-width="0.45" stroke-opacity="0.45"/>
<rect x="609.15" y="249.55" width="2.03" height="70.95" fill="none" stroke="rgb(205,95,50)" stroke-width="0.45" stroke-opacity="0.45"/>
<rect x="611.68" y="236.95" width="2.03" height="83.55" fill="none" stroke="rgb(205,95,50)" stroke-width="0.45" stroke-opacity="0.45"/>
<rect x="614.21" y="236.45" width="2.03" height="84.05" fill="none" stroke="rgb(205,95,50)" stroke-width="0.45" stroke-opacity="0.45"/>
<rect x="616.74" y="242.55" width="2.03" height="77.95" fill="none" stroke="rgb(205,95,50)" stroke-width="0.45" stroke-opacity="0.45"/>
<rect x="619.27" y="257.35" width="2.03" height="63.15" fill="none" stroke="rgb(45,175,100)" stroke-width="0.45" stroke-opacity="0.45"/>
<rect x="621.8" y="260.85" width="2.03" height="59.65" fill="none" stroke="rgb(205,95,50)" stroke-width="0.45" stroke-opacity="0.45"/>
<rect x="624.33" y="248.75" width="2.03" height="71.75" fill="none" stroke="rgb(205,95,50)" stroke-width="0.45" stroke-opacity="0.45"/>
<rect x="626.86" y="240.45" width="2.03" height="80.05" fill="none" stroke="rgb(205,95,50)" stroke-width="0.45" stroke-opacity="0.45"/>
<rect x="629.39" y="287.05" width="2.03" height="33.45" fill="none" stroke="rgb(205,95,50)" stroke-width="0.45" stroke-opacity="0.45"/>
<rect x="631.92" y="274.35" width="2.03" height="46.15" fill="none" stroke="rgb(205,95,50)" stroke-width="0.45" stroke-opacity="0.45"/>
<rect x="634.45" y="291.05" width="2.03" height="29.45" fill="none" stroke="rgb(205,95,50)" stroke-width="0.45" stroke-opacity="0.45"/>
<rect x="636.98" y="287.05" width="2.03" height="33.45" fill="none" stroke="rgb(205,95,50)" stroke-width="0.45" stroke-opacity="0.45"/>
<rect x="639.51" y="287.05" width="2.03" height="33.45" fill="none" stroke="rgb(45,175,100)" stroke-width="0.45" stroke-opacity="0.45"/>
<rect x="642.04" y="303.95" width="2.03" height="16.55" fill="none" stroke="rgb(45,175,100)" stroke-width="0.45" stroke-opacity="0.45"/>
<rect x="644.57" y="295.25" width="2.03" height="25.25" fill="none" stroke="rgb(205,95,50)" stroke-width="0.45" stroke-opacity="0.45"/>
<rect x="647.1" y="308.55" width="2.03" height="11.95" fill="none" stroke="rgb(205,95,50)" stroke-width="0.45" stroke-opacity="0.45"/>
<rect x="649.63" y="312.35" width="2.03" height="8.15" fill="none" stroke="rgb(205,95,50)" stroke-width="0.45" stroke-opacity="0.45"/>
<rect x="652.16" y="316.25" width="2.03" height="4.25" fill="none" stroke="rgb(205,95,50)" stroke-width="0.45" stroke-opacity="0.45"/>
<rect x="654.69" y="312.35" width="2.03" height="8.15" fill="none" stroke="rgb(205,95,50)" stroke-width="0.45" stroke-opacity="0.45"/>
<rect x="657.22" y="316.25" width="2.03" height="4.25" fill="none" stroke="rgb(205,95,50)" stroke-width="0.45" stroke-opacity="0.45"/>
<rect x="659.75" y="312.35" width="2.03" height="8.15" fill="none" stroke="rgb(205,95,50)" stroke-width="0.45" stroke-opacity="0.45"/>
<rect x="662.28" y="312.35" width="2.03" height="8.15" fill="none" stroke="rgb(45,175,100)" stroke-width="0.45" stroke-opacity="0.45"/>
<rect x="667.34" y="316.25" width="2.03" height="4.25" fill="none" stroke="rgb(205,95,50)" stroke-width="0.45" stroke-opacity="0.45"/>
<rect x="668.6" y="319.7" width="12.4" height="0.8" fill="rgb(224,116,70)"/>
</svg>
<line x1="92.3" y1="251.2" x2="92.3" y2="337.7" stroke="rgb(185,75,25)" stroke-width="0.9" stroke-dasharray="3,2.2" stroke-opacity="1"/>
<line x1="104.1" y1="251.2" x2="104.1" y2="337.7" stroke="rgb(35,160,80)" stroke-width="0.9" stroke-dasharray="3,2.2" stroke-opacity="1"/>
<line x1="263" y1="213" x2="263" y2="320" stroke="rgb(185,75,25)" stroke-width="0.9" stroke-dasharray="2.4,2.2" stroke-opacity="0.8"/>
<line x1="270.3" y1="213" x2="270.3" y2="320" stroke="rgb(35,160,80)" stroke-width="0.9" stroke-dasharray="2.4,2.2" stroke-opacity="1"/>
<line x1="204.4" y1="443.9" x2="291.5" y2="443.9" stroke="rgb(185,75,25)" stroke-width="0.9" stroke-dasharray="3,2.4" stroke-opacity="0.85"/>
<line x1="204.4" y1="453.7" x2="291.5" y2="453.7" stroke="rgb(35,160,80)" stroke-width="0.9" stroke-dasharray="3,2.4" stroke-opacity="0.9"/>
<line x1="461.3" y1="251.3" x2="461.3" y2="337.7" stroke="rgb(35,160,80)" stroke-width="0.9" stroke-dasharray="2.4,2.2" stroke-opacity="1"/>
<line x1="478.4" y1="251.3" x2="478.4" y2="337.7" stroke="rgb(185,75,25)" stroke-width="0.9" stroke-dasharray="2.4,2.2" stroke-opacity="1"/>
<line x1="612.6" y1="214" x2="612.6" y2="320" stroke="rgb(35,160,80)" stroke-width="0.9" stroke-dasharray="2.4,2.2" stroke-opacity="1"/>
<line x1="620.2" y1="214" x2="620.2" y2="320" stroke="rgb(185,75,25)" stroke-width="0.9" stroke-dasharray="2.4,2.2" stroke-opacity="1"/>
<line x1="572.9" y1="482.4" x2="659.3" y2="482.4" stroke="rgb(185,75,25)" stroke-width="0.9" stroke-dasharray="3,2.4" stroke-opacity="0.85"/>
<line x1="572.9" y1="490.3" x2="659.3" y2="490.3" stroke="rgb(35,160,80)" stroke-width="0.9" stroke-dasharray="3,2.4" stroke-opacity="0.9"/>
<rect x="216.7" y="212.5" width="108.8" height="108" fill="none" stroke="rgb(40,40,120)" stroke-width="0.9"/>
<rect x="574.3" y="212.5" width="106.7" height="108" fill="none" stroke="rgb(40,40,120)" stroke-width="0.9"/>
<text x="215.2" y="334" font-size="9" font-family="Liberation Sans, sans-serif" fill="rgb(45,55,140)" text-anchor="middle" textLength="12.51" lengthAdjust="spacingAndGlyphs">0.4</text>
<text x="271.4" y="334" font-size="9" font-family="Liberation Sans, sans-serif" fill="rgb(45,55,140)" text-anchor="middle" textLength="12.51" lengthAdjust="spacingAndGlyphs">0.9</text>
<text x="324.9" y="334" font-size="9" font-family="Liberation Sans, sans-serif" fill="rgb(45,55,140)" text-anchor="middle" textLength="12.51" lengthAdjust="spacingAndGlyphs">1.4</text>
<text x="574.8" y="333.3" font-size="9" font-family="Liberation Sans, sans-serif" fill="rgb(45,55,140)" text-anchor="middle">1</text>
<text x="627.5" y="333.3" font-size="9" font-family="Liberation Sans, sans-serif" fill="rgb(45,55,140)" text-anchor="middle" textLength="12.51" lengthAdjust="spacingAndGlyphs">2.5</text>
<text x="680.1" y="333.3" font-size="9" font-family="Liberation Sans, sans-serif" fill="rgb(45,55,140)" text-anchor="middle">4</text>
<g transform="translate(262.6 347.6)" font-family="Liberation Serif, serif" fill="#111"><text x="0" y="0" font-size="17" font-style="italic" textLength="7.6" lengthAdjust="spacingAndGlyphs">z</text><text x="8.6" y="2.2" font-size="12" font-style="italic" textLength="9.2" lengthAdjust="spacingAndGlyphs">D</text></g>
<g transform="translate(622 347.6)" font-family="Liberation Serif, serif" fill="#111"><text x="0" y="0" font-size="17" font-style="italic" textLength="7.6" lengthAdjust="spacingAndGlyphs">z</text><text x="8.6" y="2.2" font-size="12" font-style="italic" textLength="9.2" lengthAdjust="spacingAndGlyphs">G</text></g>
<g transform="translate(86.4 244.6)" font-family="Liberation Serif, serif" fill="#222"><text x="0" y="0" font-size="10.5" font-style="italic" textLength="4.2" lengthAdjust="spacingAndGlyphs">d</text><text x="3.9" y="2" font-size="7.140000000000001" textLength="10.4" lengthAdjust="spacingAndGlyphs">eff</text><text x="17.4" y="0" font-size="10.5" textLength="7.6" lengthAdjust="spacingAndGlyphs">=</text><text x="26.7" y="0" font-size="10.5" textLength="23.6" lengthAdjust="spacingAndGlyphs">-0.41</text></g>
<g transform="translate(248.8 209.4)" font-family="Liberation Serif, serif" fill="#222"><text x="0" y="0" font-size="10" font-style="italic" textLength="3.91" lengthAdjust="spacingAndGlyphs">d</text><text x="3.63" y="2" font-size="6.800000000000001" textLength="9.67" lengthAdjust="spacingAndGlyphs">eff</text><text x="16.18" y="0" font-size="10" textLength="7.07" lengthAdjust="spacingAndGlyphs">=</text><text x="24.83" y="0" font-size="10" textLength="21.95" lengthAdjust="spacingAndGlyphs">-0.46</text></g>
<g transform="translate(454 243.4)" font-family="Liberation Serif, serif" fill="#222"><text x="0" y="0" font-size="10.5" font-style="italic" textLength="4.2" lengthAdjust="spacingAndGlyphs">d</text><text x="3.9" y="2" font-size="7.140000000000001" textLength="10.4" lengthAdjust="spacingAndGlyphs">eff</text><text x="17.4" y="0" font-size="10.5" textLength="7.6" lengthAdjust="spacingAndGlyphs">=</text><text x="26.7" y="0" font-size="10.5" textLength="20.2" lengthAdjust="spacingAndGlyphs">0.41</text></g>
<g transform="translate(606.6 209.2)" font-family="Liberation Serif, serif" fill="#222"><text x="0" y="0" font-size="10" font-style="italic" textLength="3.91" lengthAdjust="spacingAndGlyphs">d</text><text x="3.63" y="2" font-size="6.800000000000001" textLength="9.67" lengthAdjust="spacingAndGlyphs">eff</text><text x="16.18" y="0" font-size="10" textLength="7.07" lengthAdjust="spacingAndGlyphs">=</text><text x="24.83" y="0" font-size="10" textLength="18.79" lengthAdjust="spacingAndGlyphs">0.49</text></g>
<g transform="translate(299 408.2) rotate(90)" font-family="Liberation Serif, serif" fill="#222"><text x="0" y="0" font-size="10.5" font-style="italic" textLength="4.2" lengthAdjust="spacingAndGlyphs">d</text><text x="3.9" y="2" font-size="7.140000000000001" textLength="10.4" lengthAdjust="spacingAndGlyphs">eff</text><text x="17.4" y="0" font-size="10.5" textLength="7.6" lengthAdjust="spacingAndGlyphs">=</text><text x="26.7" y="0" font-size="10.5" textLength="20.2" lengthAdjust="spacingAndGlyphs">0.17</text></g>
<g transform="translate(668 408.9) rotate(90)" font-family="Liberation Serif, serif" fill="#222"><text x="0" y="0" font-size="10.5" font-style="italic" textLength="4.2" lengthAdjust="spacingAndGlyphs">d</text><text x="3.9" y="2" font-size="7.140000000000001" textLength="10.4" lengthAdjust="spacingAndGlyphs">eff</text><text x="17.4" y="0" font-size="10.5" textLength="7.6" lengthAdjust="spacingAndGlyphs">=</text><text x="26.7" y="0" font-size="10.5" textLength="20.2" lengthAdjust="spacingAndGlyphs">0.26</text></g>
<text x="0.3" y="258.2" font-size="23" font-family="Liberation Sans, sans-serif" fill="#000" font-weight="bold" textLength="12.4" lengthAdjust="spacingAndGlyphs">c</text>
<text x="369" y="260" font-size="22.5" font-family="Liberation Sans, sans-serif" fill="#000" font-weight="bold" textLength="13.6" lengthAdjust="spacingAndGlyphs">d</text>
<circle cx="41.13" cy="351.18" r="1.45" fill="rgb(60,205,110)" fill-opacity="0.85"/>
<circle cx="81.65" cy="351.18" r="1.45" fill="rgb(60,205,110)" fill-opacity="0.85"/>
<circle cx="107.88" cy="445.46" r="1.45" fill="rgb(45,125,85)" fill-opacity="0.85"/>
<circle cx="120.25" cy="468.33" r="1.45" fill="rgb(240,150,70)" fill-opacity="0.85"/>
<circle cx="46.14" cy="487.31" r="1.45" fill="rgb(45,125,85)" fill-opacity="0.85"/>
<circle cx="95.54" cy="346.12" r="1.45" fill="rgb(200,105,65)" fill-opacity="0.85"/>
<circle cx="105.1" cy="484.58" r="1.45" fill="rgb(60,205,110)" fill-opacity="0.85"/>
<circle cx="108.45" cy="457.31" r="1.45" fill="rgb(45,125,85)" fill-opacity="0.85"/>
<circle cx="59.76" cy="413.02" r="1.45" fill="rgb(230,70,75)" fill-opacity="0.85"/>
<circle cx="94.7" cy="511.16" r="1.45" fill="rgb(45,125,85)" fill-opacity="0.85"/>
<circle cx="109.63" cy="412.23" r="1.45" fill="rgb(240,150,70)" fill-opacity="0.85"/>
<circle cx="24.07" cy="385.43" r="1.45" fill="rgb(240,150,70)" fill-opacity="0.85"/>
<circle cx="110.47" cy="499.72" r="1.45" fill="rgb(45,125,85)" fill-opacity="0.85"/>
<circle cx="129.48" cy="471.82" r="1.45" fill="rgb(60,205,110)" fill-opacity="0.85"/>
<circle cx="113.28" cy="473.37" r="1.45" fill="rgb(200,105,65)" fill-opacity="0.85"/>
<circle cx="87.69" cy="423.77" r="1.45" fill="rgb(60,205,110)" fill-opacity="0.85"/>
<circle cx="157.31" cy="511.01" r="1.45" fill="rgb(60,205,110)" fill-opacity="0.85"/>
<circle cx="93.54" cy="508.18" r="1.45" fill="rgb(200,105,65)" fill-opacity="0.85"/>
<circle cx="62.69" cy="410.58" r="1.45" fill="rgb(230,70,75)" fill-opacity="0.85"/>
<circle cx="77.84" cy="465.7" r="1.45" fill="rgb(230,70,75)" fill-opacity="0.85"/>
<circle cx="52.13" cy="395.66" r="1.45" fill="rgb(240,150,70)" fill-opacity="0.85"/>
<circle cx="50.5" cy="366.95" r="1.45" fill="rgb(60,205,110)" fill-opacity="0.85"/>
<circle cx="116.31" cy="499.61" r="1.45" fill="rgb(60,205,110)" fill-opacity="0.85"/>
<circle cx="89.16" cy="448.03" r="1.45" fill="rgb(60,205,110)" fill-opacity="0.85"/>
<circle cx="80.81" cy="447.33" r="1.45" fill="rgb(240,150,70)" fill-opacity="0.85"/>
<circle cx="73" cy="399.06" r="1.45" fill="rgb(60,205,110)" fill-opacity="0.85"/>
<circle cx="49.56" cy="355.68" r="1.45" fill="rgb(60,205,110)" fill-opacity="0.85"/>
<circle cx="126.72" cy="489.02" r="1.45" fill="rgb(60,205,110)" fill-opacity="0.85"/>
<circle cx="86.41" cy="447.31" r="1.45" fill="rgb(60,205,110)" fill-opacity="0.85"/>
<circle cx="121.59" cy="498.81" r="1.45" fill="rgb(60,205,110)" fill-opacity="0.85"/>
<circle cx="83.43" cy="351.16" r="1.45" fill="rgb(45,125,85)" fill-opacity="0.85"/>
<circle cx="132.35" cy="519.36" r="1.45" fill="rgb(60,205,110)" fill-opacity="0.85"/>
<circle cx="102.6" cy="475.54" r="1.45" fill="rgb(45,125,85)" fill-opacity="0.85"/>
<circle cx="84.01" cy="416.95" r="1.45" fill="rgb(240,150,70)" fill-opacity="0.85"/>
<circle cx="80.01" cy="392.59" r="1.45" fill="rgb(60,205,110)" fill-opacity="0.85"/>
<circle cx="74.48" cy="378.77" r="1.45" fill="rgb(230,70,75)" fill-opacity="0.85"/>
<circle cx="109.96" cy="478.22" r="1.45" fill="rgb(200,105,65)" fill-opacity="0.85"/>
<circle cx="60.9" cy="370.02" r="1.45" fill="rgb(200,105,65)" fill-opacity="0.85"/>
<circle cx="77.87" cy="484.49" r="1.45" fill="rgb(200,105,65)" fill-opacity="0.85"/>
<circle cx="75.55" cy="503.74" r="1.45" fill="rgb(230,70,75)" fill-opacity="0.85"/>
<circle cx="86.24" cy="408.02" r="1.45" fill="rgb(200,105,65)" fill-opacity="0.85"/>
<circle cx="72.16" cy="388.07" r="1.45" fill="rgb(60,205,110)" fill-opacity="0.85"/>
<circle cx="57.18" cy="495.36" r="1.45" fill="rgb(45,125,85)" fill-opacity="0.85"/>
<circle cx="89.34" cy="391.92" r="1.45" fill="rgb(60,205,110)" fill-opacity="0.85"/>
<circle cx="81.22" cy="365.94" r="1.45" fill="rgb(45,125,85)" fill-opacity="0.85"/>
<circle cx="78" cy="425.53" r="1.45" fill="rgb(240,150,70)" fill-opacity="0.85"/>
<circle cx="66.44" cy="446.73" r="1.45" fill="rgb(45,125,85)" fill-opacity="0.85"/>
<circle cx="132.35" cy="510.46" r="1.45" fill="rgb(60,205,110)" fill-opacity="0.85"/>
<circle cx="102.71" cy="475.79" r="1.45" fill="rgb(45,125,85)" fill-opacity="0.85"/>
<circle cx="77.41" cy="448.83" r="1.45" fill="rgb(230,70,75)" fill-opacity="0.85"/>
<circle cx="113.9" cy="483.43" r="1.45" fill="rgb(45,125,85)" fill-opacity="0.85"/>
<circle cx="48.57" cy="356.79" r="1.45" fill="rgb(200,105,65)" fill-opacity="0.85"/>
<circle cx="113.59" cy="446.26" r="1.45" fill="rgb(60,205,110)" fill-opacity="0.85"/>
<circle cx="50.34" cy="358.7" r="1.45" fill="rgb(60,205,110)" fill-opacity="0.85"/>
<circle cx="76.66" cy="456.13" r="1.45" fill="rgb(200,105,65)" fill-opacity="0.85"/>
<circle cx="101.11" cy="410.89" r="1.45" fill="rgb(60,205,110)" fill-opacity="0.85"/>
<circle cx="89.11" cy="428.43" r="1.45" fill="rgb(45,125,85)" fill-opacity="0.85"/>
<circle cx="38.73" cy="345.01" r="1.45" fill="rgb(45,125,85)" fill-opacity="0.85"/>
<circle cx="113.58" cy="454.75" r="1.45" fill="rgb(60,205,110)" fill-opacity="0.85"/>
<circle cx="102.05" cy="484.61" r="1.45" fill="rgb(60,205,110)" fill-opacity="0.85"/>
<circle cx="93.35" cy="511.64" r="1.45" fill="rgb(60,205,110)" fill-opacity="0.85"/>
<circle cx="118.76" cy="479.5" r="1.45" fill="rgb(240,150,70)" fill-opacity="0.85"/>
<circle cx="81.62" cy="365.53" r="1.45" fill="rgb(200,105,65)" fill-opacity="0.85"/>
<circle cx="97.9" cy="517.41" r="1.45" fill="rgb(240,150,70)" fill-opacity="0.85"/>
<circle cx="77.75" cy="478.82" r="1.45" fill="rgb(45,125,85)" fill-opacity="0.85"/>
<circle cx="75.14" cy="440.63" r="1.45" fill="rgb(240,150,70)" fill-opacity="0.85"/>
<circle cx="85.69" cy="449.41" r="1.45" fill="rgb(230,70,75)" fill-opacity="0.85"/>
<circle cx="133.4" cy="442.35" r="1.45" fill="rgb(200,105,65)" fill-opacity="0.85"/>
<circle cx="112.46" cy="479.75" r="1.45" fill="rgb(45,125,85)" fill-opacity="0.85"/>
<circle cx="119.46" cy="508.59" r="1.45" fill="rgb(45,125,85)" fill-opacity="0.85"/>
<circle cx="98.45" cy="459.89" r="1.45" fill="rgb(60,205,110)" fill-opacity="0.85"/>
<circle cx="60.5" cy="347.62" r="1.45" fill="rgb(45,125,85)" fill-opacity="0.85"/>
<circle cx="90.89" cy="432.31" r="1.45" fill="rgb(200,105,65)" fill-opacity="0.85"/>
<circle cx="113.02" cy="408.48" r="1.45" fill="rgb(60,205,110)" fill-opacity="0.85"/>
<circle cx="89.59" cy="428.8" r="1.45" fill="rgb(230,70,75)" fill-opacity="0.85"/>
<circle cx="116.85" cy="441.14" r="1.45" fill="rgb(45,125,85)" fill-opacity="0.85"/>
<circle cx="77.84" cy="480.67" r="1.45" fill="rgb(200,105,65)" fill-opacity="0.85"/>
<circle cx="67.45" cy="349.94" r="1.45" fill="rgb(230,70,75)" fill-opacity="0.85"/>
<circle cx="103" cy="515.49" r="1.45" fill="rgb(200,105,65)" fill-opacity="0.85"/>
<circle cx="43.4" cy="423.35" r="1.45" fill="rgb(60,205,110)" fill-opacity="0.85"/>
<circle cx="129.38" cy="511.17" r="1.45" fill="rgb(60,205,110)" fill-opacity="0.85"/>
<circle cx="54.5" cy="385.17" r="1.45" fill="rgb(60,205,110)" fill-opacity="0.85"/>
<circle cx="111" cy="504.85" r="1.45" fill="rgb(60,205,110)" fill-opacity="0.85"/>
<circle cx="122.17" cy="505.05" r="1.45" fill="rgb(240,150,70)" fill-opacity="0.85"/>
<circle cx="95.21" cy="507.87" r="1.45" fill="rgb(200,105,65)" fill-opacity="0.85"/>
<circle cx="46.02" cy="408.24" r="1.45" fill="rgb(240,150,70)" fill-opacity="0.85"/>
<circle cx="75.44" cy="467.63" r="1.45" fill="rgb(230,70,75)" fill-opacity="0.85"/>
<circle cx="54.52" cy="413.71" r="1.45" fill="rgb(45,125,85)" fill-opacity="0.85"/>
<circle cx="122.38" cy="418.79" r="1.45" fill="rgb(240,150,70)" fill-opacity="0.85"/>
<circle cx="75.57" cy="426.42" r="1.45" fill="rgb(240,150,70)" fill-opacity="0.85"/>
<circle cx="50.12" cy="357.44" r="1.45" fill="rgb(45,125,85)" fill-opacity="0.85"/>
<circle cx="106.96" cy="454.37" r="1.45" fill="rgb(60,205,110)" fill-opacity="0.85"/>
<circle cx="101.5" cy="388.23" r="1.45" fill="rgb(45,125,85)" fill-opacity="0.85"/>
<circle cx="82.5" cy="446.78" r="1.45" fill="rgb(60,205,110)" fill-opacity="0.85"/>
<circle cx="77.05" cy="388.99" r="1.45" fill="rgb(45,125,85)" fill-opacity="0.85"/>
<circle cx="83.61" cy="489.65" r="1.45" fill="rgb(60,205,110)" fill-opacity="0.85"/>
<circle cx="101.19" cy="403.72" r="1.45" fill="rgb(200,105,65)" fill-opacity="0.85"/>
<circle cx="111.9" cy="479.13" r="1.45" fill="rgb(240,150,70)" fill-opacity="0.85"/>
<circle cx="75.34" cy="467.33" r="1.45" fill="rgb(60,205,110)" fill-opacity="0.85"/>
<circle cx="126.48" cy="497.24" r="1.45" fill="rgb(230,70,75)" fill-opacity="0.85"/>
<circle cx="71.02" cy="496.12" r="1.45" fill="rgb(200,105,65)" fill-opacity="0.85"/>
<circle cx="65.31" cy="476.09" r="1.45" fill="rgb(45,125,85)" fill-opacity="0.85"/>
<circle cx="92.68" cy="493.09" r="1.45" fill="rgb(240,150,70)" fill-opacity="0.85"/>
<circle cx="108.69" cy="519.49" r="1.45" fill="rgb(45,125,85)" fill-opacity="0.85"/>
<circle cx="102.98" cy="469.06" r="1.45" fill="rgb(230,70,75)" fill-opacity="0.85"/>
<circle cx="66.63" cy="488.95" r="1.45" fill="rgb(60,205,110)" fill-opacity="0.85"/>
<circle cx="87.94" cy="468.68" r="1.45" fill="rgb(240,150,70)" fill-opacity="0.85"/>
<circle cx="69.92" cy="410.83" r="1.45" fill="rgb(60,205,110)" fill-opacity="0.85"/>
<circle cx="101.41" cy="481.7" r="1.45" fill="rgb(60,205,110)" fill-opacity="0.85"/>
<circle cx="99.04" cy="453.85" r="1.45" fill="rgb(240,150,70)" fill-opacity="0.85"/>
<circle cx="72.19" cy="439.79" r="1.45" fill="rgb(200,105,65)" fill-opacity="0.85"/>
<circle cx="71.08" cy="352.49" r="1.45" fill="rgb(200,105,65)" fill-opacity="0.85"/>
<circle cx="96.38" cy="505.02" r="1.45" fill="rgb(230,70,75)" fill-opacity="0.85"/>
<circle cx="119.66" cy="481.1" r="1.45" fill="rgb(45,125,85)" fill-opacity="0.85"/>
<circle cx="49.29" cy="394.35" r="1.45" fill="rgb(60,205,110)" fill-opacity="0.85"/>
<circle cx="102.04" cy="477.65" r="1.45" fill="rgb(45,125,85)" fill-opacity="0.85"/>
<circle cx="114.54" cy="511.72" r="1.45" fill="rgb(240,150,70)" fill-opacity="0.85"/>
<circle cx="97.36" cy="410.8" r="1.45" fill="rgb(240,150,70)" fill-opacity="0.85"/>
<circle cx="86.42" cy="403.12" r="1.45" fill="rgb(60,205,110)" fill-opacity="0.85"/>
<circle cx="107.89" cy="449.27" r="1.45" fill="rgb(45,125,85)" fill-opacity="0.85"/>
<circle cx="103.4" cy="469.87" r="1.45" fill="rgb(45,125,85)" fill-opacity="0.85"/>
<circle cx="94.94" cy="349.08" r="1.45" fill="rgb(240,150,70)" fill-opacity="0.85"/>
<circle cx="145.08" cy="503.01" r="1.45" fill="rgb(60,205,110)" fill-opacity="0.85"/>
<circle cx="98.55" cy="479.85" r="1.45" fill="rgb(230,70,75)" fill-opacity="0.85"/>
<circle cx="146.63" cy="516.33" r="1.45" fill="rgb(60,205,110)" fill-opacity="0.85"/>
<circle cx="75.65" cy="424.78" r="1.45" fill="rgb(200,105,65)" fill-opacity="0.85"/>
<circle cx="27.39" cy="359.47" r="1.45" fill="rgb(60,205,110)" fill-opacity="0.85"/>
<circle cx="92.14" cy="375.78" r="1.45" fill="rgb(60,205,110)" fill-opacity="0.85"/>
<circle cx="60.9" cy="383.02" r="1.45" fill="rgb(240,150,70)" fill-opacity="0.85"/>
<circle cx="118.74" cy="466.42" r="1.45" fill="rgb(45,125,85)" fill-opacity="0.85"/>
<circle cx="68.1" cy="420.64" r="1.45" fill="rgb(240,150,70)" fill-opacity="0.85"/>
<circle cx="59.75" cy="370.73" r="1.45" fill="rgb(230,70,75)" fill-opacity="0.85"/>
<circle cx="114.29" cy="500.37" r="1.45" fill="rgb(200,105,65)" fill-opacity="0.85"/>
<circle cx="79.53" cy="519.08" r="1.45" fill="rgb(60,205,110)" fill-opacity="0.85"/>
<circle cx="90.28" cy="426.01" r="1.45" fill="rgb(200,105,65)" fill-opacity="0.85"/>
<circle cx="129.67" cy="519.86" r="1.45" fill="rgb(240,150,70)" fill-opacity="0.85"/>
<circle cx="95.41" cy="448.29" r="1.45" fill="rgb(45,125,85)" fill-opacity="0.85"/>
<circle cx="123.21" cy="488.8" r="1.45" fill="rgb(60,205,110)" fill-opacity="0.85"/>
<circle cx="116.53" cy="501.53" r="1.45" fill="rgb(60,205,110)" fill-opacity="0.85"/>
<circle cx="69.78" cy="488.26" r="1.45" fill="rgb(240,150,70)" fill-opacity="0.85"/>
<circle cx="55.67" cy="358.2" r="1.45" fill="rgb(240,150,70)" fill-opacity="0.85"/>
<circle cx="123.64" cy="519.64" r="1.45" fill="rgb(60,205,110)" fill-opacity="0.85"/>
<circle cx="92.25" cy="477.02" r="1.45" fill="rgb(45,125,85)" fill-opacity="0.85"/>
<circle cx="64.28" cy="409.53" r="1.45" fill="rgb(200,105,65)" fill-opacity="0.85"/>
<circle cx="97.42" cy="518.38" r="1.45" fill="rgb(45,125,85)" fill-opacity="0.85"/>
<circle cx="59.55" cy="381.16" r="1.45" fill="rgb(60,205,110)" fill-opacity="0.85"/>
<circle cx="66.88" cy="396.65" r="1.45" fill="rgb(240,150,70)" fill-opacity="0.85"/>
<circle cx="135.96" cy="498.14" r="1.45" fill="rgb(200,105,65)" fill-opacity="0.85"/>
<circle cx="108.84" cy="427.91" r="1.45" fill="rgb(45,125,85)" fill-opacity="0.85"/>
<circle cx="120.82" cy="487.21" r="1.45" fill="rgb(60,205,110)" fill-opacity="0.85"/>
<circle cx="99.64" cy="507.14" r="1.45" fill="rgb(45,125,85)" fill-opacity="0.85"/>
<circle cx="71.03" cy="470.39" r="1.45" fill="rgb(200,105,65)" fill-opacity="0.85"/>
<circle cx="138.5" cy="482.73" r="1.45" fill="rgb(60,205,110)" fill-opacity="0.85"/>
<circle cx="94.86" cy="467.24" r="1.45" fill="rgb(60,205,110)" fill-opacity="0.85"/>
<circle cx="108.26" cy="489.69" r="1.45" fill="rgb(200,105,65)" fill-opacity="0.85"/>
<circle cx="83.35" cy="426.37" r="1.45" fill="rgb(240,150,70)" fill-opacity="0.85"/>
<circle cx="129.19" cy="483.28" r="1.45" fill="rgb(45,125,85)" fill-opacity="0.85"/>
<circle cx="83.74" cy="462.73" r="1.45" fill="rgb(45,125,85)" fill-opacity="0.85"/>
<circle cx="65.89" cy="375.71" r="1.45" fill="rgb(200,105,65)" fill-opacity="0.85"/>
<circle cx="75.39" cy="349.08" r="1.45" fill="rgb(45,125,85)" fill-opacity="0.85"/>
<circle cx="111.59" cy="477.63" r="1.45" fill="rgb(60,205,110)" fill-opacity="0.85"/>
<circle cx="99.33" cy="387.22" r="1.45" fill="rgb(45,125,85)" fill-opacity="0.85"/>
<circle cx="54.73" cy="459.48" r="1.45" fill="rgb(60,205,110)" fill-opacity="0.85"/>
<circle cx="74.73" cy="428.24" r="1.45" fill="rgb(60,205,110)" fill-opacity="0.85"/>
<circle cx="61.66" cy="473.82" r="1.45" fill="rgb(60,205,110)" fill-opacity="0.85"/>
<circle cx="99.56" cy="502.5" r="1.45" fill="rgb(45,125,85)" fill-opacity="0.85"/>
<circle cx="68.95" cy="403.39" r="1.45" fill="rgb(60,205,110)" fill-opacity="0.85"/>
<circle cx="71.65" cy="494.85" r="1.45" fill="rgb(230,70,75)" fill-opacity="0.85"/>
<circle cx="76.29" cy="483.93" r="1.45" fill="rgb(45,125,85)" fill-opacity="0.85"/>
<circle cx="94.04" cy="465.01" r="1.45" fill="rgb(240,150,70)" fill-opacity="0.85"/>
<circle cx="121.37" cy="500.35" r="1.45" fill="rgb(230,70,75)" fill-opacity="0.85"/>
<circle cx="88.39" cy="484.1" r="1.45" fill="rgb(45,125,85)" fill-opacity="0.85"/>
<circle cx="82.38" cy="364.83" r="1.45" fill="rgb(60,205,110)" fill-opacity="0.85"/>
<circle cx="106.59" cy="509.72" r="1.45" fill="rgb(200,105,65)" fill-opacity="0.85"/>
<circle cx="118.68" cy="472.21" r="1.45" fill="rgb(45,125,85)" fill-opacity="0.85"/>
<circle cx="102.22" cy="435.19" r="1.45" fill="rgb(45,125,85)" fill-opacity="0.85"/>
<circle cx="113.59" cy="393.45" r="1.45" fill="rgb(60,205,110)" fill-opacity="0.85"/>
<circle cx="90.46" cy="484.24" r="1.45" fill="rgb(45,125,85)" fill-opacity="0.85"/>
<circle cx="133.67" cy="472.84" r="1.45" fill="rgb(200,105,65)" fill-opacity="0.85"/>
<circle cx="64.58" cy="405.59" r="1.45" fill="rgb(45,125,85)" fill-opacity="0.85"/>
<circle cx="73.83" cy="442.23" r="1.45" fill="rgb(60,205,110)" fill-opacity="0.85"/>
<circle cx="90.45" cy="408.51" r="1.45" fill="rgb(240,150,70)" fill-opacity="0.85"/>
<circle cx="64.23" cy="494.08" r="1.45" fill="rgb(45,125,85)" fill-opacity="0.85"/>
<circle cx="122.82" cy="512.65" r="1.45" fill="rgb(240,150,70)" fill-opacity="0.85"/>
<circle cx="92.6" cy="444" r="1.45" fill="rgb(200,105,65)" fill-opacity="0.85"/>
<circle cx="87.09" cy="445.84" r="1.45" fill="rgb(60,205,110)" fill-opacity="0.85"/>
<circle cx="132.33" cy="435.43" r="1.45" fill="rgb(45,125,85)" fill-opacity="0.85"/>
<circle cx="94.51" cy="510.12" r="1.45" fill="rgb(60,205,110)" fill-opacity="0.85"/>
<circle cx="80.87" cy="433.76" r="1.45" fill="rgb(230,70,75)" fill-opacity="0.85"/>
<circle cx="59.22" cy="390.6" r="1.45" fill="rgb(45,125,85)" fill-opacity="0.85"/>
<circle cx="132.27" cy="457.06" r="1.45" fill="rgb(60,205,110)" fill-opacity="0.85"/>
<circle cx="99.39" cy="483.98" r="1.45" fill="rgb(240,150,70)" fill-opacity="0.85"/>
<circle cx="70.24" cy="377.07" r="1.45" fill="rgb(230,70,75)" fill-opacity="0.85"/>
<circle cx="77.46" cy="424.41" r="1.45" fill="rgb(200,105,65)" fill-opacity="0.85"/>
<circle cx="84.61" cy="505.26" r="1.45" fill="rgb(200,105,65)" fill-opacity="0.85"/>
<circle cx="109.64" cy="466.45" r="1.45" fill="rgb(60,205,110)" fill-opacity="0.85"/>
<circle cx="50.63" cy="405.04" r="1.45" fill="rgb(240,150,70)" fill-opacity="0.85"/>
<circle cx="54.75" cy="416.56" r="1.45" fill="rgb(45,125,85)" fill-opacity="0.85"/>
<circle cx="63.02" cy="398.5" r="1.45" fill="rgb(45,125,85)" fill-opacity="0.85"/>
<circle cx="95.9" cy="485.51" r="1.45" fill="rgb(45,125,85)" fill-opacity="0.85"/>
<circle cx="101.19" cy="491.17" r="1.45" fill="rgb(45,125,85)" fill-opacity="0.85"/>
<circle cx="86.3" cy="389.78" r="1.45" fill="rgb(60,205,110)" fill-opacity="0.85"/>
<circle cx="99.14" cy="443.7" r="1.45" fill="rgb(240,150,70)" fill-opacity="0.85"/>
<circle cx="88.76" cy="504.01" r="1.45" fill="rgb(45,125,85)" fill-opacity="0.85"/>
<circle cx="104" cy="482.14" r="1.45" fill="rgb(45,125,85)" fill-opacity="0.85"/>
<circle cx="86.19" cy="379.94" r="1.45" fill="rgb(230,70,75)" fill-opacity="0.85"/>
<circle cx="77.17" cy="507.2" r="1.45" fill="rgb(230,70,75)" fill-opacity="0.85"/>
<circle cx="118.5" cy="511.97" r="1.45" fill="rgb(200,105,65)" fill-opacity="0.85"/>
<circle cx="93.77" cy="501.04" r="1.45" fill="rgb(240,150,70)" fill-opacity="0.85"/>
<circle cx="66.66" cy="390.09" r="1.45" fill="rgb(45,125,85)" fill-opacity="0.85"/>
<circle cx="111.78" cy="491.14" r="1.45" fill="rgb(60,205,110)" fill-opacity="0.85"/>
<circle cx="95.12" cy="490.7" r="1.45" fill="rgb(45,125,85)" fill-opacity="0.85"/>
<circle cx="76.06" cy="352.09" r="1.45" fill="rgb(200,105,65)" fill-opacity="0.85"/>
<circle cx="102.92" cy="489.17" r="1.45" fill="rgb(230,70,75)" fill-opacity="0.85"/>
<circle cx="102.28" cy="372.16" r="1.45" fill="rgb(200,105,65)" fill-opacity="0.85"/>
<circle cx="79.06" cy="429.03" r="1.45" fill="rgb(200,105,65)" fill-opacity="0.85"/>
<circle cx="78.35" cy="413.87" r="1.45" fill="rgb(200,105,65)" fill-opacity="0.85"/>
<circle cx="88.43" cy="455.66" r="1.45" fill="rgb(200,105,65)" fill-opacity="0.85"/>
<circle cx="126.88" cy="500.03" r="1.45" fill="rgb(200,105,65)" fill-opacity="0.85"/>
<circle cx="51.41" cy="456.76" r="1.45" fill="rgb(60,205,110)" fill-opacity="0.85"/>
<circle cx="116.63" cy="490.14" r="1.45" fill="rgb(200,105,65)" fill-opacity="0.85"/>
<circle cx="110.63" cy="459.77" r="1.45" fill="rgb(45,125,85)" fill-opacity="0.85"/>
<circle cx="89.94" cy="443.09" r="1.45" fill="rgb(60,205,110)" fill-opacity="0.85"/>
<circle cx="65.81" cy="454.38" r="1.45" fill="rgb(200,105,65)" fill-opacity="0.85"/>
<circle cx="108.65" cy="451.49" r="1.45" fill="rgb(230,70,75)" fill-opacity="0.85"/>
<circle cx="50.98" cy="359.98" r="1.45" fill="rgb(45,125,85)" fill-opacity="0.85"/>
<circle cx="49.43" cy="355.22" r="1.45" fill="rgb(200,105,65)" fill-opacity="0.85"/>
<circle cx="113.35" cy="462.88" r="1.45" fill="rgb(200,105,65)" fill-opacity="0.85"/>
<circle cx="94.22" cy="466.71" r="1.45" fill="rgb(200,105,65)" fill-opacity="0.85"/>
<circle cx="89.17" cy="455.64" r="1.45" fill="rgb(230,70,75)" fill-opacity="0.85"/>
<circle cx="61.8" cy="463.23" r="1.45" fill="rgb(200,105,65)" fill-opacity="0.85"/>
<circle cx="96.02" cy="370.19" r="1.45" fill="rgb(60,205,110)" fill-opacity="0.85"/>
<circle cx="71.28" cy="417.76" r="1.45" fill="rgb(200,105,65)" fill-opacity="0.85"/>
<circle cx="77.15" cy="398.63" r="1.45" fill="rgb(45,125,85)" fill-opacity="0.85"/>
<circle cx="109.55" cy="496.43" r="1.45" fill="rgb(45,125,85)" fill-opacity="0.85"/>
<circle cx="110.82" cy="497.49" r="1.45" fill="rgb(200,105,65)" fill-opacity="0.85"/>
<circle cx="65.63" cy="398.01" r="1.45" fill="rgb(60,205,110)" fill-opacity="0.85"/>
<circle cx="118.7" cy="515.76" r="1.45" fill="rgb(200,105,65)" fill-opacity="0.85"/>
<circle cx="105.43" cy="430.63" r="1.45" fill="rgb(240,150,70)" fill-opacity="0.85"/>
<circle cx="114.99" cy="517.38" r="1.45" fill="rgb(60,205,110)" fill-opacity="0.85"/>
<circle cx="106.93" cy="451.65" r="1.45" fill="rgb(230,70,75)" fill-opacity="0.85"/>
<circle cx="97.15" cy="477.12" r="1.45" fill="rgb(200,105,65)" fill-opacity="0.85"/>
<circle cx="127" cy="514.92" r="1.45" fill="rgb(45,125,85)" fill-opacity="0.85"/>
<circle cx="101.11" cy="502.99" r="1.45" fill="rgb(230,70,75)" fill-opacity="0.85"/>
<circle cx="76.72" cy="463.15" r="1.45" fill="rgb(60,205,110)" fill-opacity="0.85"/>
<circle cx="78.29" cy="515.08" r="1.45" fill="rgb(60,205,110)" fill-opacity="0.85"/>
<circle cx="89.58" cy="499.06" r="1.45" fill="rgb(240,150,70)" fill-opacity="0.85"/>
<circle cx="83.05" cy="357.27" r="1.45" fill="rgb(200,105,65)" fill-opacity="0.85"/>
<circle cx="61.45" cy="486.94" r="1.45" fill="rgb(60,205,110)" fill-opacity="0.85"/>
<circle cx="101.87" cy="462.72" r="1.45" fill="rgb(60,205,110)" fill-opacity="0.85"/>
<circle cx="88.08" cy="431.92" r="1.45" fill="rgb(45,125,85)" fill-opacity="0.85"/>
<circle cx="139.25" cy="511.78" r="1.45" fill="rgb(200,105,65)" fill-opacity="0.85"/>
<circle cx="56.97" cy="355.31" r="1.45" fill="rgb(240,150,70)" fill-opacity="0.85"/>
<circle cx="106.74" cy="430.84" r="1.45" fill="rgb(60,205,110)" fill-opacity="0.85"/>
<circle cx="88.78" cy="403.73" r="1.45" fill="rgb(200,105,65)" fill-opacity="0.85"/>
<circle cx="80.54" cy="491.71" r="1.45" fill="rgb(45,125,85)" fill-opacity="0.85"/>
<circle cx="58.13" cy="497.17" r="1.45" fill="rgb(200,105,65)" fill-opacity="0.85"/>
<circle cx="93.91" cy="458.64" r="1.45" fill="rgb(240,150,70)" fill-opacity="0.85"/>
<circle cx="128.39" cy="517.9" r="1.45" fill="rgb(60,205,110)" fill-opacity="0.85"/>
<circle cx="103.2" cy="449.08" r="1.45" fill="rgb(230,70,75)" fill-opacity="0.85"/>
<circle cx="101.56" cy="512.45" r="1.45" fill="rgb(200,105,65)" fill-opacity="0.85"/>
<circle cx="101.25" cy="472.6" r="1.45" fill="rgb(45,125,85)" fill-opacity="0.85"/>
<circle cx="99.32" cy="496.13" r="1.45" fill="rgb(60,205,110)" fill-opacity="0.85"/>
<circle cx="53.54" cy="423.15" r="1.45" fill="rgb(200,105,65)" fill-opacity="0.85"/>
<circle cx="63.57" cy="442.19" r="1.45" fill="rgb(230,70,75)" fill-opacity="0.85"/>
<circle cx="46.34" cy="481.35" r="1.45" fill="rgb(45,125,85)" fill-opacity="0.85"/>
<circle cx="44.62" cy="369.32" r="1.45" fill="rgb(60,205,110)" fill-opacity="0.85"/>
<circle cx="48.56" cy="355.84" r="1.45" fill="rgb(200,105,65)" fill-opacity="0.85"/>
<circle cx="115.66" cy="507.9" r="1.45" fill="rgb(200,105,65)" fill-opacity="0.85"/>
<circle cx="96.76" cy="487.36" r="1.45" fill="rgb(45,125,85)" fill-opacity="0.85"/>
<circle cx="82.69" cy="501.73" r="1.45" fill="rgb(45,125,85)" fill-opacity="0.85"/>
<circle cx="107.76" cy="461.32" r="1.45" fill="rgb(60,205,110)" fill-opacity="0.85"/>
<circle cx="97.94" cy="515.73" r="1.45" fill="rgb(60,205,110)" fill-opacity="0.85"/>
<circle cx="67.57" cy="432.99" r="1.45" fill="rgb(60,205,110)" fill-opacity="0.85"/>
<circle cx="135.11" cy="383.56" r="1.45" fill="rgb(200,105,65)" fill-opacity="0.85"/>
<circle cx="121.18" cy="519.47" r="1.45" fill="rgb(60,205,110)" fill-opacity="0.85"/>
<circle cx="90.89" cy="512.31" r="1.45" fill="rgb(60,205,110)" fill-opacity="0.85"/>
<circle cx="74.95" cy="422.49" r="1.45" fill="rgb(45,125,85)" fill-opacity="0.85"/>
<circle cx="114.72" cy="485.39" r="1.45" fill="rgb(60,205,110)" fill-opacity="0.85"/>
<circle cx="77.09" cy="460.06" r="1.45" fill="rgb(60,205,110)" fill-opacity="0.85"/>
<circle cx="83.66" cy="504.49" r="1.45" fill="rgb(200,105,65)" fill-opacity="0.85"/>
<circle cx="110.23" cy="448.91" r="1.45" fill="rgb(60,205,110)" fill-opacity="0.85"/>
<circle cx="101.47" cy="474.1" r="1.45" fill="rgb(200,105,65)" fill-opacity="0.85"/>
<circle cx="105.9" cy="439.88" r="1.45" fill="rgb(60,205,110)" fill-opacity="0.85"/>
<circle cx="67.84" cy="402.04" r="1.45" fill="rgb(45,125,85)" fill-opacity="0.85"/>
<circle cx="126.86" cy="516.48" r="1.45" fill="rgb(200,105,65)" fill-opacity="0.85"/>
<circle cx="116.46" cy="518.83" r="1.45" fill="rgb(45,125,85)" fill-opacity="0.85"/>
<circle cx="76.29" cy="359.1" r="1.45" fill="rgb(60,205,110)" fill-opacity="0.85"/>
<circle cx="99.06" cy="432.4" r="1.45" fill="rgb(60,205,110)" fill-opacity="0.85"/>
<circle cx="72.95" cy="428.31" r="1.45" fill="rgb(45,125,85)" fill-opacity="0.85"/>
<circle cx="117.59" cy="490.9" r="1.45" fill="rgb(45,125,85)" fill-opacity="0.85"/>
<circle cx="101.59" cy="498.4" r="1.45" fill="rgb(60,205,110)" fill-opacity="0.85"/>
<circle cx="116.29" cy="511.06" r="1.45" fill="rgb(45,125,85)" fill-opacity="0.85"/>
<circle cx="82.29" cy="387.59" r="1.45" fill="rgb(45,125,85)" fill-opacity="0.85"/>
<circle cx="118.1" cy="429.61" r="1.45" fill="rgb(60,205,110)" fill-opacity="0.85"/>
<circle cx="100.9" cy="460.85" r="1.45" fill="rgb(200,105,65)" fill-opacity="0.85"/>
<circle cx="104.44" cy="489.53" r="1.45" fill="rgb(240,150,70)" fill-opacity="0.85"/>
<circle cx="109.36" cy="508.85" r="1.45" fill="rgb(200,105,65)" fill-opacity="0.85"/>
<circle cx="129.25" cy="452.14" r="1.45" fill="rgb(45,125,85)" fill-opacity="0.85"/>
<circle cx="65.49" cy="355.25" r="1.45" fill="rgb(230,70,75)" fill-opacity="0.85"/>
<circle cx="100.29" cy="419.82" r="1.45" fill="rgb(240,150,70)" fill-opacity="0.85"/>
<circle cx="76.59" cy="448.7" r="1.45" fill="rgb(240,150,70)" fill-opacity="0.85"/>
<circle cx="67.58" cy="418.68" r="1.45" fill="rgb(240,150,70)" fill-opacity="0.85"/>
<circle cx="128.92" cy="516.44" r="1.45" fill="rgb(230,70,75)" fill-opacity="0.85"/>
<circle cx="60.25" cy="365.17" r="1.45" fill="rgb(240,150,70)" fill-opacity="0.85"/>
<circle cx="87.45" cy="517.19" r="1.45" fill="rgb(230,70,75)" fill-opacity="0.85"/>
<circle cx="73.99" cy="383.3" r="1.45" fill="rgb(45,125,85)" fill-opacity="0.85"/>
<circle cx="91.67" cy="352.73" r="1.45" fill="rgb(60,205,110)" fill-opacity="0.85"/>
<circle cx="90.91" cy="499.98" r="1.45" fill="rgb(45,125,85)" fill-opacity="0.85"/>
<circle cx="62.44" cy="403.79" r="1.45" fill="rgb(200,105,65)" fill-opacity="0.85"/>
<circle cx="106.26" cy="508.37" r="1.45" fill="rgb(45,125,85)" fill-opacity="0.85"/>
<circle cx="61.26" cy="370.69" r="1.45" fill="rgb(45,125,85)" fill-opacity="0.85"/>
<circle cx="59.43" cy="378.72" r="1.45" fill="rgb(60,205,110)" fill-opacity="0.85"/>
<circle cx="100.23" cy="372.43" r="1.45" fill="rgb(60,205,110)" fill-opacity="0.85"/>
<circle cx="74.6" cy="413.97" r="1.45" fill="rgb(60,205,110)" fill-opacity="0.85"/>
<circle cx="94.81" cy="426.53" r="1.45" fill="rgb(230,70,75)" fill-opacity="0.85"/>
<circle cx="103.88" cy="439.58" r="1.45" fill="rgb(60,205,110)" fill-opacity="0.85"/>
<circle cx="54.06" cy="373.04" r="1.45" fill="rgb(60,205,110)" fill-opacity="0.85"/>
<circle cx="89.9" cy="391.26" r="1.45" fill="rgb(45,125,85)" fill-opacity="0.85"/>
<circle cx="104.1" cy="495.48" r="1.45" fill="rgb(240,150,70)" fill-opacity="0.85"/>
<circle cx="92.99" cy="402.1" r="1.45" fill="rgb(60,205,110)" fill-opacity="0.85"/>
<circle cx="104.99" cy="383.22" r="1.45" fill="rgb(60,205,110)" fill-opacity="0.85"/>
<circle cx="80.83" cy="386.66" r="1.45" fill="rgb(60,205,110)" fill-opacity="0.85"/>
<circle cx="82.68" cy="397.31" r="1.45" fill="rgb(45,125,85)" fill-opacity="0.85"/>
<circle cx="93" cy="371.25" r="1.45" fill="rgb(60,205,110)" fill-opacity="0.85"/>
<circle cx="56.32" cy="381.47" r="1.45" fill="rgb(200,105,65)" fill-opacity="0.85"/>
<circle cx="86.65" cy="413.29" r="1.45" fill="rgb(60,205,110)" fill-opacity="0.85"/>
<circle cx="112.46" cy="506.1" r="1.45" fill="rgb(60,205,110)" fill-opacity="0.85"/>
<circle cx="64.75" cy="498.91" r="1.45" fill="rgb(60,205,110)" fill-opacity="0.85"/>
<circle cx="91.81" cy="395.79" r="1.45" fill="rgb(45,125,85)" fill-opacity="0.85"/>
<circle cx="101.15" cy="492.96" r="1.45" fill="rgb(60,205,110)" fill-opacity="0.85"/>
<circle cx="77.92" cy="501.48" r="1.45" fill="rgb(60,205,110)" fill-opacity="0.85"/>
<circle cx="91.98" cy="501.31" r="1.45" fill="rgb(60,205,110)" fill-opacity="0.85"/>
<circle cx="83.37" cy="419.59" r="1.45" fill="rgb(60,205,110)" fill-opacity="0.85"/>
<circle cx="87.61" cy="468.16" r="1.45" fill="rgb(200,105,65)" fill-opacity="0.85"/>
<circle cx="79.93" cy="485.76" r="1.45" fill="rgb(45,125,85)" fill-opacity="0.85"/>
<circle cx="118.54" cy="468.83" r="1.45" fill="rgb(60,205,110)" fill-opacity="0.85"/>
<circle cx="126.14" cy="474.89" r="1.45" fill="rgb(60,205,110)" fill-opacity="0.85"/>
<circle cx="114.19" cy="445.77" r="1.45" fill="rgb(230,70,75)" fill-opacity="0.85"/>
<circle cx="123.03" cy="517.98" r="1.45" fill="rgb(230,70,75)" fill-opacity="0.85"/>
<circle cx="131.79" cy="507.29" r="1.45" fill="rgb(240,150,70)" fill-opacity="0.85"/>
<circle cx="89.67" cy="360.34" r="1.45" fill="rgb(200,105,65)" fill-opacity="0.85"/>
<circle cx="66.08" cy="490.15" r="1.45" fill="rgb(45,125,85)" fill-opacity="0.85"/>
<circle cx="116.2" cy="478.19" r="1.45" fill="rgb(45,125,85)" fill-opacity="0.85"/>
<circle cx="103.93" cy="520.48" r="1.45" fill="rgb(60,205,110)" fill-opacity="0.85"/>
<circle cx="90.02" cy="494.18" r="1.45" fill="rgb(45,125,85)" fill-opacity="0.85"/>
<circle cx="97.43" cy="444.62" r="1.45" fill="rgb(45,125,85)" fill-opacity="0.85"/>
<circle cx="106.47" cy="480.65" r="1.45" fill="rgb(240,150,70)" fill-opacity="0.85"/>
<circle cx="80.12" cy="388.01" r="1.45" fill="rgb(60,205,110)" fill-opacity="0.85"/>
<circle cx="57.58" cy="400.56" r="1.45" fill="rgb(200,105,65)" fill-opacity="0.85"/>
<circle cx="104.22" cy="394.68" r="1.45" fill="rgb(200,105,65)" fill-opacity="0.85"/>
<circle cx="90.56" cy="484.65" r="1.45" fill="rgb(200,105,65)" fill-opacity="0.85"/>
<circle cx="90.63" cy="443.73" r="1.45" fill="rgb(200,105,65)" fill-opacity="0.85"/>
<circle cx="55.39" cy="348.81" r="1.45" fill="rgb(60,205,110)" fill-opacity="0.85"/>
<circle cx="120.96" cy="489.44" r="1.45" fill="rgb(60,205,110)" fill-opacity="0.85"/>
<circle cx="115.95" cy="506.86" r="1.45" fill="rgb(45,125,85)" fill-opacity="0.85"/>
<circle cx="111.29" cy="499.01" r="1.45" fill="rgb(200,105,65)" fill-opacity="0.85"/>
<circle cx="114.6" cy="456.29" r="1.45" fill="rgb(240,150,70)" fill-opacity="0.85"/>
<circle cx="69.64" cy="346.32" r="1.45" fill="rgb(230,70,75)" fill-opacity="0.85"/>
<circle cx="88.69" cy="438.36" r="1.45" fill="rgb(60,205,110)" fill-opacity="0.85"/>
<circle cx="123.52" cy="509.25" r="1.45" fill="rgb(60,205,110)" fill-opacity="0.85"/>
<circle cx="108.23" cy="480.57" r="1.45" fill="rgb(230,70,75)" fill-opacity="0.85"/>
<circle cx="74.75" cy="410.34" r="1.45" fill="rgb(60,205,110)" fill-opacity="0.85"/>
<circle cx="112.07" cy="504.1" r="1.45" fill="rgb(240,150,70)" fill-opacity="0.85"/>
<circle cx="115" cy="463.73" r="1.45" fill="rgb(60,205,110)" fill-opacity="0.85"/>
<circle cx="117.73" cy="484.56" r="1.45" fill="rgb(200,105,65)" fill-opacity="0.85"/>
<circle cx="96.07" cy="423.84" r="1.45" fill="rgb(230,70,75)" fill-opacity="0.85"/>
<circle cx="64.4" cy="352.94" r="1.45" fill="rgb(60,205,110)" fill-opacity="0.85"/>
<circle cx="113.59" cy="499.75" r="1.45" fill="rgb(60,205,110)" fill-opacity="0.85"/>
<circle cx="81.68" cy="482.33" r="1.45" fill="rgb(200,105,65)" fill-opacity="0.85"/>
<circle cx="84.93" cy="447.41" r="1.45" fill="rgb(200,105,65)" fill-opacity="0.85"/>
<circle cx="77.48" cy="439.24" r="1.45" fill="rgb(60,205,110)" fill-opacity="0.85"/>
<circle cx="116.87" cy="492.81" r="1.45" fill="rgb(45,125,85)" fill-opacity="0.85"/>
<circle cx="95.89" cy="454.06" r="1.45" fill="rgb(230,70,75)" fill-opacity="0.85"/>
<circle cx="83.51" cy="465.33" r="1.45" fill="rgb(230,70,75)" fill-opacity="0.85"/>
<circle cx="91.99" cy="435.93" r="1.45" fill="rgb(45,125,85)" fill-opacity="0.85"/>
<circle cx="84.37" cy="495.77" r="1.45" fill="rgb(60,205,110)" fill-opacity="0.85"/>
<circle cx="47.2" cy="355.4" r="1.45" fill="rgb(200,105,65)" fill-opacity="0.85"/>
<circle cx="58.7" cy="404.35" r="1.45" fill="rgb(45,125,85)" fill-opacity="0.85"/>
<circle cx="127.39" cy="519.46" r="1.45" fill="rgb(45,125,85)" fill-opacity="0.85"/>
<circle cx="69.51" cy="468.68" r="1.45" fill="rgb(200,105,65)" fill-opacity="0.85"/>
<circle cx="77.89" cy="449.73" r="1.45" fill="rgb(200,105,65)" fill-opacity="0.85"/>
<circle cx="106.74" cy="380.57" r="1.45" fill="rgb(45,125,85)" fill-opacity="0.85"/>
<circle cx="86.11" cy="477.84" r="1.45" fill="rgb(200,105,65)" fill-opacity="0.85"/>
<circle cx="78.5" cy="453.51" r="1.45" fill="rgb(200,105,65)" fill-opacity="0.85"/>
<circle cx="78.79" cy="404.32" r="1.45" fill="rgb(230,70,75)" fill-opacity="0.85"/>
<circle cx="92.63" cy="483.09" r="1.45" fill="rgb(230,70,75)" fill-opacity="0.85"/>
<circle cx="96.4" cy="469.52" r="1.45" fill="rgb(60,205,110)" fill-opacity="0.85"/>
<circle cx="65.22" cy="446.33" r="1.45" fill="rgb(230,70,75)" fill-opacity="0.85"/>
<circle cx="80.61" cy="404.48" r="1.45" fill="rgb(60,205,110)" fill-opacity="0.85"/>
<circle cx="106.68" cy="423.01" r="1.45" fill="rgb(45,125,85)" fill-opacity="0.85"/>
<circle cx="67.01" cy="433.06" r="1.45" fill="rgb(60,205,110)" fill-opacity="0.85"/>
<circle cx="106.15" cy="505.5" r="1.45" fill="rgb(45,125,85)" fill-opacity="0.85"/>
<circle cx="65.93" cy="417.17" r="1.45" fill="rgb(45,125,85)" fill-opacity="0.85"/>
<circle cx="84.63" cy="449.5" r="1.45" fill="rgb(45,125,85)" fill-opacity="0.85"/>
<circle cx="100.48" cy="480.77" r="1.45" fill="rgb(60,205,110)" fill-opacity="0.85"/>
<circle cx="128.15" cy="515.8" r="1.45" fill="rgb(45,125,85)" fill-opacity="0.85"/>
<circle cx="61.5" cy="394.92" r="1.45" fill="rgb(45,125,85)" fill-opacity="0.85"/>
<circle cx="76.77" cy="373.69" r="1.45" fill="rgb(45,125,85)" fill-opacity="0.85"/>
<circle cx="105.86" cy="501.51" r="1.45" fill="rgb(45,125,85)" fill-opacity="0.85"/>
<circle cx="96.42" cy="471.23" r="1.45" fill="rgb(60,205,110)" fill-opacity="0.85"/>
<circle cx="112.98" cy="474.21" r="1.45" fill="rgb(200,105,65)" fill-opacity="0.85"/>
<circle cx="123.05" cy="512.02" r="1.45" fill="rgb(240,150,70)" fill-opacity="0.85"/>
<circle cx="97.25" cy="435.14" r="1.45" fill="rgb(200,105,65)" fill-opacity="0.85"/>
<circle cx="74.19" cy="457.69" r="1.45" fill="rgb(200,105,65)" fill-opacity="0.85"/>
<circle cx="118.01" cy="429.85" r="1.45" fill="rgb(230,70,75)" fill-opacity="0.85"/>
<circle cx="97.54" cy="504.47" r="1.45" fill="rgb(45,125,85)" fill-opacity="0.85"/>
<circle cx="66.49" cy="404.51" r="1.45" fill="rgb(60,205,110)" fill-opacity="0.85"/>
<circle cx="113.73" cy="427.8" r="1.45" fill="rgb(200,105,65)" fill-opacity="0.85"/>
<circle cx="64.17" cy="443.15" r="1.45" fill="rgb(60,205,110)" fill-opacity="0.85"/>
<circle cx="118.25" cy="501.89" r="1.45" fill="rgb(45,125,85)" fill-opacity="0.85"/>
<circle cx="87.67" cy="497.36" r="1.45" fill="rgb(230,70,75)" fill-opacity="0.85"/>
<circle cx="81.3" cy="488.02" r="1.45" fill="rgb(45,125,85)" fill-opacity="0.85"/>
<circle cx="81.97" cy="462.63" r="1.45" fill="rgb(60,205,110)" fill-opacity="0.85"/>
<circle cx="127.37" cy="471.24" r="1.45" fill="rgb(60,205,110)" fill-opacity="0.85"/>
<circle cx="132.19" cy="508.86" r="1.45" fill="rgb(200,105,65)" fill-opacity="0.85"/>
<circle cx="72.3" cy="409.14" r="1.45" fill="rgb(200,105,65)" fill-opacity="0.85"/>
<circle cx="87.88" cy="415.13" r="1.45" fill="rgb(240,150,70)" fill-opacity="0.85"/>
<circle cx="101.75" cy="453.97" r="1.45" fill="rgb(200,105,65)" fill-opacity="0.85"/>
<circle cx="103.38" cy="512.54" r="1.45" fill="rgb(45,125,85)" fill-opacity="0.85"/>
<circle cx="102.1" cy="493.01" r="1.45" fill="rgb(200,105,65)" fill-opacity="0.85"/>
<circle cx="79.31" cy="443.86" r="1.45" fill="rgb(240,150,70)" fill-opacity="0.85"/>
<circle cx="118.51" cy="468.12" r="1.45" fill="rgb(240,150,70)" fill-opacity="0.85"/>
<circle cx="42.99" cy="379.46" r="1.45" fill="rgb(240,150,70)" fill-opacity="0.85"/>
<circle cx="60.09" cy="449.36" r="1.45" fill="rgb(60,205,110)" fill-opacity="0.85"/>
<circle cx="124.55" cy="475.89" r="1.45" fill="rgb(60,205,110)" fill-opacity="0.85"/>
<circle cx="54.85" cy="433.79" r="1.45" fill="rgb(60,205,110)" fill-opacity="0.85"/>
<circle cx="93.72" cy="393.75" r="1.45" fill="rgb(230,70,75)" fill-opacity="0.85"/>
<circle cx="86.51" cy="478.86" r="1.45" fill="rgb(200,105,65)" fill-opacity="0.85"/>
<circle cx="71.69" cy="470.44" r="1.45" fill="rgb(200,105,65)" fill-opacity="0.85"/>
<circle cx="186.72" cy="478.66" r="1.45" fill="rgb(60,205,110)" fill-opacity="0.85"/>
<circle cx="178.41" cy="435.01" r="1.45" fill="rgb(45,125,85)" fill-opacity="0.85"/>
<circle cx="162.22" cy="357.5" r="1.45" fill="rgb(200,105,65)" fill-opacity="0.85"/>
<circle cx="129.91" cy="467.18" r="1.45" fill="rgb(60,205,110)" fill-opacity="0.85"/>
<circle cx="190.06" cy="482.3" r="1.45" fill="rgb(240,150,70)" fill-opacity="0.85"/>
<circle cx="130.63" cy="407.47" r="1.45" fill="rgb(200,105,65)" fill-opacity="0.85"/>
<circle cx="164.41" cy="433.37" r="1.45" fill="rgb(240,150,70)" fill-opacity="0.85"/>
<circle cx="184.91" cy="466.71" r="1.45" fill="rgb(240,150,70)" fill-opacity="0.85"/>
<circle cx="189.68" cy="498.37" r="1.45" fill="rgb(45,125,85)" fill-opacity="0.85"/>
<circle cx="179.98" cy="485.72" r="1.45" fill="rgb(45,125,85)" fill-opacity="0.85"/>
<circle cx="194.08" cy="388.79" r="1.45" fill="rgb(45,125,85)" fill-opacity="0.85"/>
<circle cx="153.19" cy="504.9" r="1.45" fill="rgb(45,125,85)" fill-opacity="0.85"/>
<circle cx="145.94" cy="412.4" r="1.45" fill="rgb(200,105,65)" fill-opacity="0.85"/>
<circle cx="127.08" cy="465.58" r="1.45" fill="rgb(45,125,85)" fill-opacity="0.85"/>
<circle cx="187.72" cy="385.44" r="1.45" fill="rgb(45,125,85)" fill-opacity="0.85"/>
<circle cx="138.7" cy="380.87" r="1.45" fill="rgb(45,125,85)" fill-opacity="0.85"/>
<circle cx="185.25" cy="389.59" r="1.45" fill="rgb(200,105,65)" fill-opacity="0.85"/>
<circle cx="189.02" cy="511.43" r="1.45" fill="rgb(60,205,110)" fill-opacity="0.85"/>
<circle cx="170.81" cy="509.72" r="1.45" fill="rgb(240,150,70)" fill-opacity="0.85"/>
<circle cx="188.35" cy="437.39" r="1.45" fill="rgb(200,105,65)" fill-opacity="0.85"/>
<circle cx="165.74" cy="378.01" r="1.45" fill="rgb(45,125,85)" fill-opacity="0.85"/>
<circle cx="189.88" cy="508.56" r="1.45" fill="rgb(200,105,65)" fill-opacity="0.85"/>
<circle cx="128.07" cy="389.81" r="1.45" fill="rgb(230,70,75)" fill-opacity="0.85"/>
<circle cx="127.4" cy="470.34" r="1.45" fill="rgb(45,125,85)" fill-opacity="0.85"/>
<circle cx="138.93" cy="355.05" r="1.45" fill="rgb(45,125,85)" fill-opacity="0.85"/>
<circle cx="443.78" cy="508.21" r="1.45" fill="rgb(200,105,65)" fill-opacity="0.85"/>
<circle cx="481.64" cy="468.43" r="1.45" fill="rgb(60,205,110)" fill-opacity="0.85"/>
<circle cx="424.93" cy="501.84" r="1.45" fill="rgb(45,125,85)" fill-opacity="0.85"/>
<circle cx="434.62" cy="512.99" r="1.45" fill="rgb(60,205,110)" fill-opacity="0.85"/>
<circle cx="452.53" cy="485.54" r="1.45" fill="rgb(200,105,65)" fill-opacity="0.85"/>
<circle cx="462.6" cy="481.57" r="1.45" fill="rgb(200,105,65)" fill-opacity="0.85"/>
<circle cx="469.17" cy="496.49" r="1.45" fill="rgb(240,150,70)" fill-opacity="0.85"/>
<circle cx="463.36" cy="508.8" r="1.45" fill="rgb(60,205,110)" fill-opacity="0.85"/>
<circle cx="453.66" cy="505.29" r="1.45" fill="rgb(45,125,85)" fill-opacity="0.85"/>
<circle cx="437.94" cy="489.8" r="1.45" fill="rgb(60,205,110)" fill-opacity="0.85"/>
<circle cx="493.5" cy="504.09" r="1.45" fill="rgb(60,205,110)" fill-opacity="0.85"/>
<circle cx="501.2" cy="510.42" r="1.45" fill="rgb(45,125,85)" fill-opacity="0.85"/>
<circle cx="464.68" cy="505.58" r="1.45" fill="rgb(60,205,110)" fill-opacity="0.85"/>
<circle cx="450.45" cy="477.04" r="1.45" fill="rgb(60,205,110)" fill-opacity="0.85"/>
<circle cx="480.22" cy="492.52" r="1.45" fill="rgb(200,105,65)" fill-opacity="0.85"/>
<circle cx="492.24" cy="478.56" r="1.45" fill="rgb(200,105,65)" fill-opacity="0.85"/>
<circle cx="431.89" cy="449.39" r="1.45" fill="rgb(60,205,110)" fill-opacity="0.85"/>
<circle cx="474.99" cy="513.92" r="1.45" fill="rgb(200,105,65)" fill-opacity="0.85"/>
<circle cx="433.03" cy="495.78" r="1.45" fill="rgb(230,70,75)" fill-opacity="0.85"/>
<circle cx="475.91" cy="468.69" r="1.45" fill="rgb(60,205,110)" fill-opacity="0.85"/>
<circle cx="467.1" cy="502.51" r="1.45" fill="rgb(230,70,75)" fill-opacity="0.85"/>
<circle cx="476.77" cy="489.02" r="1.45" fill="rgb(200,105,65)" fill-opacity="0.85"/>
<circle cx="427.67" cy="499.25" r="1.45" fill="rgb(45,125,85)" fill-opacity="0.85"/>
<circle cx="432.97" cy="520.81" r="1.45" fill="rgb(60,205,110)" fill-opacity="0.85"/>
<circle cx="468.27" cy="519.95" r="1.45" fill="rgb(240,150,70)" fill-opacity="0.85"/>
<circle cx="420.13" cy="510.33" r="1.45" fill="rgb(45,125,85)" fill-opacity="0.85"/>
<circle cx="422.08" cy="501.17" r="1.45" fill="rgb(60,205,110)" fill-opacity="0.85"/>
<circle cx="410.08" cy="507.73" r="1.45" fill="rgb(60,205,110)" fill-opacity="0.85"/>
<circle cx="444.62" cy="501.58" r="1.45" fill="rgb(230,70,75)" fill-opacity="0.85"/>
<circle cx="461.45" cy="514.09" r="1.45" fill="rgb(200,105,65)" fill-opacity="0.85"/>
<circle cx="500.41" cy="508.27" r="1.45" fill="rgb(230,70,75)" fill-opacity="0.85"/>
<circle cx="483.06" cy="488.88" r="1.45" fill="rgb(200,105,65)" fill-opacity="0.85"/>
<circle cx="482.14" cy="495.9" r="1.45" fill="rgb(45,125,85)" fill-opacity="0.85"/>
<circle cx="489.53" cy="479.79" r="1.45" fill="rgb(240,150,70)" fill-opacity="0.85"/>
<circle cx="434.57" cy="483.39" r="1.45" fill="rgb(45,125,85)" fill-opacity="0.85"/>
<circle cx="437.46" cy="503.55" r="1.45" fill="rgb(200,105,65)" fill-opacity="0.85"/>
<circle cx="490.05" cy="463.72" r="1.45" fill="rgb(230,70,75)" fill-opacity="0.85"/>
<circle cx="457.28" cy="492.01" r="1.45" fill="rgb(200,105,65)" fill-opacity="0.85"/>
<circle cx="452.39" cy="479.96" r="1.45" fill="rgb(230,70,75)" fill-opacity="0.85"/>
<circle cx="434.71" cy="505.69" r="1.45" fill="rgb(200,105,65)" fill-opacity="0.85"/>
<circle cx="474.1" cy="517.46" r="1.45" fill="rgb(200,105,65)" fill-opacity="0.85"/>
<circle cx="464.38" cy="480.61" r="1.45" fill="rgb(60,205,110)" fill-opacity="0.85"/>
<circle cx="447.72" cy="463.1" r="1.45" fill="rgb(60,205,110)" fill-opacity="0.85"/>
<circle cx="432.04" cy="465.41" r="1.45" fill="rgb(45,125,85)" fill-opacity="0.85"/>
<circle cx="421.16" cy="482.08" r="1.45" fill="rgb(60,205,110)" fill-opacity="0.85"/>
<circle cx="456.26" cy="476.56" r="1.45" fill="rgb(60,205,110)" fill-opacity="0.85"/>
<circle cx="459.06" cy="505.65" r="1.45" fill="rgb(60,205,110)" fill-opacity="0.85"/>
<circle cx="470.24" cy="518.58" r="1.45" fill="rgb(45,125,85)" fill-opacity="0.85"/>
<circle cx="451.8" cy="513.16" r="1.45" fill="rgb(200,105,65)" fill-opacity="0.85"/>
<circle cx="458.39" cy="485.89" r="1.45" fill="rgb(45,125,85)" fill-opacity="0.85"/>
<circle cx="467.53" cy="501.3" r="1.45" fill="rgb(45,125,85)" fill-opacity="0.85"/>
<circle cx="460.68" cy="480.34" r="1.45" fill="rgb(60,205,110)" fill-opacity="0.85"/>
<circle cx="514.59" cy="456.26" r="1.45" fill="rgb(45,125,85)" fill-opacity="0.85"/>
<circle cx="426.43" cy="496.28" r="1.45" fill="rgb(240,150,70)" fill-opacity="0.85"/>
<circle cx="430.46" cy="511.34" r="1.45" fill="rgb(200,105,65)" fill-opacity="0.85"/>
<circle cx="503.88" cy="511.14" r="1.45" fill="rgb(200,105,65)" fill-opacity="0.85"/>
<circle cx="458.47" cy="515.8" r="1.45" fill="rgb(60,205,110)" fill-opacity="0.85"/>
<circle cx="409.61" cy="486.4" r="1.45" fill="rgb(200,105,65)" fill-opacity="0.85"/>
<circle cx="438.19" cy="496.35" r="1.45" fill="rgb(60,205,110)" fill-opacity="0.85"/>
<circle cx="447.54" cy="507.88" r="1.45" fill="rgb(45,125,85)" fill-opacity="0.85"/>
<circle cx="450.38" cy="473.48" r="1.45" fill="rgb(240,150,70)" fill-opacity="0.85"/>
<circle cx="480.72" cy="507.44" r="1.45" fill="rgb(200,105,65)" fill-opacity="0.85"/>
<circle cx="438.3" cy="507.31" r="1.45" fill="rgb(200,105,65)" fill-opacity="0.85"/>
<circle cx="434.39" cy="464.5" r="1.45" fill="rgb(200,105,65)" fill-opacity="0.85"/>
<circle cx="472.4" cy="508.65" r="1.45" fill="rgb(230,70,75)" fill-opacity="0.85"/>
<circle cx="482.11" cy="477.21" r="1.45" fill="rgb(230,70,75)" fill-opacity="0.85"/>
<circle cx="423.01" cy="487.93" r="1.45" fill="rgb(60,205,110)" fill-opacity="0.85"/>
<circle cx="468.66" cy="505.37" r="1.45" fill="rgb(60,205,110)" fill-opacity="0.85"/>
<circle cx="439.32" cy="509.58" r="1.45" fill="rgb(45,125,85)" fill-opacity="0.85"/>
<circle cx="466.37" cy="480.95" r="1.45" fill="rgb(45,125,85)" fill-opacity="0.85"/>
<circle cx="457.86" cy="489.1" r="1.45" fill="rgb(60,205,110)" fill-opacity="0.85"/>
<circle cx="442.09" cy="510.63" r="1.45" fill="rgb(240,150,70)" fill-opacity="0.85"/>
<circle cx="466.73" cy="493.06" r="1.45" fill="rgb(230,70,75)" fill-opacity="0.85"/>
<circle cx="480.18" cy="507.67" r="1.45" fill="rgb(45,125,85)" fill-opacity="0.85"/>
<circle cx="495.99" cy="502.72" r="1.45" fill="rgb(200,105,65)" fill-opacity="0.85"/>
<circle cx="496.52" cy="504.48" r="1.45" fill="rgb(45,125,85)" fill-opacity="0.85"/>
<circle cx="448.45" cy="479.03" r="1.45" fill="rgb(240,150,70)" fill-opacity="0.85"/>
<circle cx="494.3" cy="514.07" r="1.45" fill="rgb(45,125,85)" fill-opacity="0.85"/>
<circle cx="469.94" cy="474.46" r="1.45" fill="rgb(45,125,85)" fill-opacity="0.85"/>
<circle cx="446.34" cy="497.96" r="1.45" fill="rgb(60,205,110)" fill-opacity="0.85"/>
<circle cx="477.7" cy="472.28" r="1.45" fill="rgb(200,105,65)" fill-opacity="0.85"/>
<circle cx="464.23" cy="466.03" r="1.45" fill="rgb(45,125,85)" fill-opacity="0.85"/>
<circle cx="443.01" cy="520.62" r="1.45" fill="rgb(200,105,65)" fill-opacity="0.85"/>
<circle cx="440.12" cy="493.49" r="1.45" fill="rgb(240,150,70)" fill-opacity="0.85"/>
<circle cx="498.23" cy="513.18" r="1.45" fill="rgb(45,125,85)" fill-opacity="0.85"/>
<circle cx="455.34" cy="515.9" r="1.45" fill="rgb(60,205,110)" fill-opacity="0.85"/>
<circle cx="459.8" cy="477.12" r="1.45" fill="rgb(240,150,70)" fill-opacity="0.85"/>
<circle cx="444.88" cy="510.18" r="1.45" fill="rgb(45,125,85)" fill-opacity="0.85"/>
<circle cx="425.87" cy="515.73" r="1.45" fill="rgb(60,205,110)" fill-opacity="0.85"/>
<circle cx="446.1" cy="491.85" r="1.45" fill="rgb(60,205,110)" fill-opacity="0.85"/>
<circle cx="422.55" cy="503.51" r="1.45" fill="rgb(60,205,110)" fill-opacity="0.85"/>
<circle cx="461.37" cy="505.58" r="1.45" fill="rgb(200,105,65)" fill-opacity="0.85"/>
<circle cx="417.66" cy="517.43" r="1.45" fill="rgb(230,70,75)" fill-opacity="0.85"/>
<circle cx="470.68" cy="470.13" r="1.45" fill="rgb(45,125,85)" fill-opacity="0.85"/>
<circle cx="422.27" cy="505.43" r="1.45" fill="rgb(60,205,110)" fill-opacity="0.85"/>
<circle cx="473.93" cy="504.82" r="1.45" fill="rgb(45,125,85)" fill-opacity="0.85"/>
<circle cx="495.89" cy="500.33" r="1.45" fill="rgb(240,150,70)" fill-opacity="0.85"/>
<circle cx="456.34" cy="494.98" r="1.45" fill="rgb(45,125,85)" fill-opacity="0.85"/>
<circle cx="458.7" cy="510.66" r="1.45" fill="rgb(240,150,70)" fill-opacity="0.85"/>
<circle cx="441.3" cy="503.1" r="1.45" fill="rgb(230,70,75)" fill-opacity="0.85"/>
<circle cx="465.3" cy="508.98" r="1.45" fill="rgb(60,205,110)" fill-opacity="0.85"/>
<circle cx="461.38" cy="511.8" r="1.45" fill="rgb(200,105,65)" fill-opacity="0.85"/>
<circle cx="467.03" cy="501.66" r="1.45" fill="rgb(200,105,65)" fill-opacity="0.85"/>
<circle cx="472.35" cy="508.12" r="1.45" fill="rgb(45,125,85)" fill-opacity="0.85"/>
<circle cx="463.85" cy="506.23" r="1.45" fill="rgb(45,125,85)" fill-opacity="0.85"/>
<circle cx="506.75" cy="478.58" r="1.45" fill="rgb(200,105,65)" fill-opacity="0.85"/>
<circle cx="481.48" cy="492.27" r="1.45" fill="rgb(60,205,110)" fill-opacity="0.85"/>
<circle cx="496.55" cy="484.37" r="1.45" fill="rgb(45,125,85)" fill-opacity="0.85"/>
<circle cx="473.99" cy="516.93" r="1.45" fill="rgb(45,125,85)" fill-opacity="0.85"/>
<circle cx="479.49" cy="482.58" r="1.45" fill="rgb(240,150,70)" fill-opacity="0.85"/>
<circle cx="448.09" cy="508" r="1.45" fill="rgb(230,70,75)" fill-opacity="0.85"/>
<circle cx="477.01" cy="503.33" r="1.45" fill="rgb(45,125,85)" fill-opacity="0.85"/>
<circle cx="408.87" cy="511.02" r="1.45" fill="rgb(45,125,85)" fill-opacity="0.85"/>
<circle cx="438.54" cy="519.84" r="1.45" fill="rgb(60,205,110)" fill-opacity="0.85"/>
<circle cx="444.9" cy="490.24" r="1.45" fill="rgb(240,150,70)" fill-opacity="0.85"/>
<circle cx="451.05" cy="479.45" r="1.45" fill="rgb(230,70,75)" fill-opacity="0.85"/>
<circle cx="470.23" cy="510.07" r="1.45" fill="rgb(45,125,85)" fill-opacity="0.85"/>
<circle cx="470.79" cy="478.72" r="1.45" fill="rgb(200,105,65)" fill-opacity="0.85"/>
<circle cx="441.08" cy="519.42" r="1.45" fill="rgb(200,105,65)" fill-opacity="0.85"/>
<circle cx="446.47" cy="502.41" r="1.45" fill="rgb(60,205,110)" fill-opacity="0.85"/>
<circle cx="455.78" cy="467.13" r="1.45" fill="rgb(230,70,75)" fill-opacity="0.85"/>
<circle cx="454.69" cy="509.77" r="1.45" fill="rgb(45,125,85)" fill-opacity="0.85"/>
<circle cx="498.17" cy="446.96" r="1.45" fill="rgb(230,70,75)" fill-opacity="0.85"/>
<circle cx="448.01" cy="495.18" r="1.45" fill="rgb(45,125,85)" fill-opacity="0.85"/>
<circle cx="419.04" cy="509.07" r="1.45" fill="rgb(60,205,110)" fill-opacity="0.85"/>
<circle cx="489.14" cy="518.9" r="1.45" fill="rgb(45,125,85)" fill-opacity="0.85"/>
<circle cx="461.42" cy="457.93" r="1.45" fill="rgb(60,205,110)" fill-opacity="0.85"/>
<circle cx="408.49" cy="487.62" r="1.45" fill="rgb(240,150,70)" fill-opacity="0.85"/>
<circle cx="424.08" cy="509.41" r="1.45" fill="rgb(230,70,75)" fill-opacity="0.85"/>
<circle cx="471.04" cy="517.56" r="1.45" fill="rgb(230,70,75)" fill-opacity="0.85"/>
<circle cx="449.67" cy="496.24" r="1.45" fill="rgb(45,125,85)" fill-opacity="0.85"/>
<circle cx="467.18" cy="496.08" r="1.45" fill="rgb(60,205,110)" fill-opacity="0.85"/>
<circle cx="481.29" cy="502.97" r="1.45" fill="rgb(230,70,75)" fill-opacity="0.85"/>
<circle cx="500.15" cy="509.25" r="1.45" fill="rgb(240,150,70)" fill-opacity="0.85"/>
<circle cx="409.11" cy="467.06" r="1.45" fill="rgb(60,205,110)" fill-opacity="0.85"/>
<circle cx="451.61" cy="482.65" r="1.45" fill="rgb(45,125,85)" fill-opacity="0.85"/>
<circle cx="446.81" cy="518.92" r="1.45" fill="rgb(60,205,110)" fill-opacity="0.85"/>
<circle cx="494.34" cy="484.94" r="1.45" fill="rgb(230,70,75)" fill-opacity="0.85"/>
<circle cx="467.87" cy="481.72" r="1.45" fill="rgb(230,70,75)" fill-opacity="0.85"/>
<circle cx="478.27" cy="456.75" r="1.45" fill="rgb(60,205,110)" fill-opacity="0.85"/>
<circle cx="494.81" cy="513.59" r="1.45" fill="rgb(45,125,85)" fill-opacity="0.85"/>
<circle cx="511.52" cy="515.07" r="1.45" fill="rgb(200,105,65)" fill-opacity="0.85"/>
<circle cx="433.02" cy="509.32" r="1.45" fill="rgb(45,125,85)" fill-opacity="0.85"/>
<circle cx="439.43" cy="512.66" r="1.45" fill="rgb(230,70,75)" fill-opacity="0.85"/>
<circle cx="487.2" cy="513.75" r="1.45" fill="rgb(45,125,85)" fill-opacity="0.85"/>
<circle cx="448.77" cy="513.99" r="1.45" fill="rgb(60,205,110)" fill-opacity="0.85"/>
<circle cx="500.01" cy="493.8" r="1.45" fill="rgb(45,125,85)" fill-opacity="0.85"/>
<circle cx="474.85" cy="495.88" r="1.45" fill="rgb(200,105,65)" fill-opacity="0.85"/>
<circle cx="436.56" cy="501.1" r="1.45" fill="rgb(60,205,110)" fill-opacity="0.85"/>
<circle cx="416.55" cy="471.25" r="1.45" fill="rgb(45,125,85)" fill-opacity="0.85"/>
<circle cx="499.02" cy="492.92" r="1.45" fill="rgb(240,150,70)" fill-opacity="0.85"/>
<circle cx="428.7" cy="517.85" r="1.45" fill="rgb(200,105,65)" fill-opacity="0.85"/>
<circle cx="448.69" cy="500.64" r="1.45" fill="rgb(45,125,85)" fill-opacity="0.85"/>
<circle cx="482.79" cy="447.75" r="1.45" fill="rgb(45,125,85)" fill-opacity="0.85"/>
<circle cx="453.76" cy="499.95" r="1.45" fill="rgb(60,205,110)" fill-opacity="0.85"/>
<circle cx="442.56" cy="519.54" r="1.45" fill="rgb(60,205,110)" fill-opacity="0.85"/>
<circle cx="460.53" cy="511.83" r="1.45" fill="rgb(45,125,85)" fill-opacity="0.85"/>
<circle cx="461.84" cy="501.02" r="1.45" fill="rgb(200,105,65)" fill-opacity="0.85"/>
<circle cx="465.77" cy="473.14" r="1.45" fill="rgb(60,205,110)" fill-opacity="0.85"/>
<circle cx="469.69" cy="517.2" r="1.45" fill="rgb(60,205,110)" fill-opacity="0.85"/>
<circle cx="468.96" cy="520.48" r="1.45" fill="rgb(60,205,110)" fill-opacity="0.85"/>
<circle cx="454.34" cy="519.26" r="1.45" fill="rgb(200,105,65)" fill-opacity="0.85"/>
<circle cx="405.74" cy="499.72" r="1.45" fill="rgb(60,205,110)" fill-opacity="0.85"/>
<circle cx="462.58" cy="482.35" r="1.45" fill="rgb(240,150,70)" fill-opacity="0.85"/>
<circle cx="512.8" cy="477.68" r="1.45" fill="rgb(230,70,75)" fill-opacity="0.85"/>
<circle cx="418.9" cy="470.61" r="1.45" fill="rgb(60,205,110)" fill-opacity="0.85"/>
<circle cx="467.81" cy="503.28" r="1.45" fill="rgb(60,205,110)" fill-opacity="0.85"/>
<circle cx="492.09" cy="507.02" r="1.45" fill="rgb(200,105,65)" fill-opacity="0.85"/>
<circle cx="465.9" cy="493.47" r="1.45" fill="rgb(60,205,110)" fill-opacity="0.85"/>
<circle cx="439.1" cy="516.39" r="1.45" fill="rgb(60,205,110)" fill-opacity="0.85"/>
<circle cx="457.89" cy="510.51" r="1.45" fill="rgb(240,150,70)" fill-opacity="0.85"/>
<circle cx="432.19" cy="520.28" r="1.45" fill="rgb(200,105,65)" fill-opacity="0.85"/>
<circle cx="440.56" cy="496.1" r="1.45" fill="rgb(45,125,85)" fill-opacity="0.85"/>
<circle cx="443.04" cy="499.27" r="1.45" fill="rgb(230,70,75)" fill-opacity="0.85"/>
<circle cx="457.13" cy="506.2" r="1.45" fill="rgb(230,70,75)" fill-opacity="0.85"/>
<circle cx="476.66" cy="504.8" r="1.45" fill="rgb(60,205,110)" fill-opacity="0.85"/>
<circle cx="449.56" cy="491.19" r="1.45" fill="rgb(60,205,110)" fill-opacity="0.85"/>
<circle cx="491.38" cy="469.76" r="1.45" fill="rgb(45,125,85)" fill-opacity="0.85"/>
<circle cx="477.07" cy="464.43" r="1.45" fill="rgb(45,125,85)" fill-opacity="0.85"/>
<circle cx="458.57" cy="496.37" r="1.45" fill="rgb(45,125,85)" fill-opacity="0.85"/>
<circle cx="470.53" cy="507.05" r="1.45" fill="rgb(200,105,65)" fill-opacity="0.85"/>
<circle cx="454.86" cy="501.31" r="1.45" fill="rgb(200,105,65)" fill-opacity="0.85"/>
<circle cx="428.65" cy="464.42" r="1.45" fill="rgb(240,150,70)" fill-opacity="0.85"/>
<circle cx="406.9" cy="516.26" r="1.45" fill="rgb(60,205,110)" fill-opacity="0.85"/>
<circle cx="418.32" cy="514.05" r="1.45" fill="rgb(45,125,85)" fill-opacity="0.85"/>
<circle cx="441.16" cy="489.11" r="1.45" fill="rgb(45,125,85)" fill-opacity="0.85"/>
<circle cx="483.46" cy="504.8" r="1.45" fill="rgb(230,70,75)" fill-opacity="0.85"/>
<circle cx="475.78" cy="504.73" r="1.45" fill="rgb(60,205,110)" fill-opacity="0.85"/>
<circle cx="445.89" cy="513.77" r="1.45" fill="rgb(60,205,110)" fill-opacity="0.85"/>
<circle cx="460.15" cy="520.44" r="1.45" fill="rgb(45,125,85)" fill-opacity="0.85"/>
<circle cx="439.85" cy="514.41" r="1.45" fill="rgb(45,125,85)" fill-opacity="0.85"/>
<circle cx="419.28" cy="492.97" r="1.45" fill="rgb(45,125,85)" fill-opacity="0.85"/>
<circle cx="478.6" cy="515.64" r="1.45" fill="rgb(60,205,110)" fill-opacity="0.85"/>
<circle cx="444.51" cy="464.55" r="1.45" fill="rgb(240,150,70)" fill-opacity="0.85"/>
<circle cx="450.22" cy="494.74" r="1.45" fill="rgb(45,125,85)" fill-opacity="0.85"/>
<circle cx="415.98" cy="500.34" r="1.45" fill="rgb(230,70,75)" fill-opacity="0.85"/>
<circle cx="439.92" cy="465.66" r="1.45" fill="rgb(200,105,65)" fill-opacity="0.85"/>
<circle cx="469.73" cy="483.12" r="1.45" fill="rgb(60,205,110)" fill-opacity="0.85"/>
<circle cx="451.88" cy="516.61" r="1.45" fill="rgb(240,150,70)" fill-opacity="0.85"/>
<circle cx="435.61" cy="474.94" r="1.45" fill="rgb(230,70,75)" fill-opacity="0.85"/>
<circle cx="449.56" cy="516.44" r="1.45" fill="rgb(240,150,70)" fill-opacity="0.85"/>
<circle cx="427.81" cy="515.47" r="1.45" fill="rgb(240,150,70)" fill-opacity="0.85"/>
<circle cx="432.39" cy="516.42" r="1.45" fill="rgb(230,70,75)" fill-opacity="0.85"/>
<circle cx="487.73" cy="506.19" r="1.45" fill="rgb(60,205,110)" fill-opacity="0.85"/>
<circle cx="432.5" cy="511.52" r="1.45" fill="rgb(45,125,85)" fill-opacity="0.85"/>
<circle cx="458.1" cy="501.5" r="1.45" fill="rgb(60,205,110)" fill-opacity="0.85"/>
<circle cx="417.37" cy="516.67" r="1.45" fill="rgb(45,125,85)" fill-opacity="0.85"/>
<circle cx="466.98" cy="513.48" r="1.45" fill="rgb(60,205,110)" fill-opacity="0.85"/>
<circle cx="488.51" cy="508.92" r="1.45" fill="rgb(45,125,85)" fill-opacity="0.85"/>
<circle cx="466.48" cy="482.79" r="1.45" fill="rgb(240,150,70)" fill-opacity="0.85"/>
<circle cx="451.74" cy="517.13" r="1.45" fill="rgb(45,125,85)" fill-opacity="0.85"/>
<circle cx="439.19" cy="498.45" r="1.45" fill="rgb(230,70,75)" fill-opacity="0.85"/>
<circle cx="446.94" cy="503.83" r="1.45" fill="rgb(45,125,85)" fill-opacity="0.85"/>
<circle cx="444.58" cy="507.47" r="1.45" fill="rgb(45,125,85)" fill-opacity="0.85"/>
<circle cx="483.08" cy="506.48" r="1.45" fill="rgb(240,150,70)" fill-opacity="0.85"/>
<circle cx="480.23" cy="517.44" r="1.45" fill="rgb(240,150,70)" fill-opacity="0.85"/>
<circle cx="421.82" cy="492.42" r="1.45" fill="rgb(200,105,65)" fill-opacity="0.85"/>
<circle cx="449.08" cy="492.15" r="1.45" fill="rgb(200,105,65)" fill-opacity="0.85"/>
<circle cx="492.25" cy="520.31" r="1.45" fill="rgb(60,205,110)" fill-opacity="0.85"/>
<circle cx="450.63" cy="482.63" r="1.45" fill="rgb(45,125,85)" fill-opacity="0.85"/>
<circle cx="482.72" cy="520.08" r="1.45" fill="rgb(240,150,70)" fill-opacity="0.85"/>
<circle cx="433.44" cy="500.93" r="1.45" fill="rgb(200,105,65)" fill-opacity="0.85"/>
<circle cx="481.54" cy="497.96" r="1.45" fill="rgb(200,105,65)" fill-opacity="0.85"/>
<circle cx="479.12" cy="491.27" r="1.45" fill="rgb(200,105,65)" fill-opacity="0.85"/>
<circle cx="429.34" cy="494.49" r="1.45" fill="rgb(60,205,110)" fill-opacity="0.85"/>
<circle cx="470.52" cy="481.49" r="1.45" fill="rgb(200,105,65)" fill-opacity="0.85"/>
<circle cx="518.78" cy="493.41" r="1.45" fill="rgb(45,125,85)" fill-opacity="0.85"/>
<circle cx="457.29" cy="505.69" r="1.45" fill="rgb(230,70,75)" fill-opacity="0.85"/>
<circle cx="458.18" cy="504.71" r="1.45" fill="rgb(60,205,110)" fill-opacity="0.85"/>
<circle cx="479.19" cy="519.02" r="1.45" fill="rgb(240,150,70)" fill-opacity="0.85"/>
<circle cx="506.08" cy="489.48" r="1.45" fill="rgb(60,205,110)" fill-opacity="0.85"/>
<circle cx="472.15" cy="512.8" r="1.45" fill="rgb(60,205,110)" fill-opacity="0.85"/>
<circle cx="470.57" cy="503.01" r="1.45" fill="rgb(200,105,65)" fill-opacity="0.85"/>
<circle cx="460.93" cy="508.86" r="1.45" fill="rgb(200,105,65)" fill-opacity="0.85"/>
<circle cx="479.27" cy="510.95" r="1.45" fill="rgb(60,205,110)" fill-opacity="0.85"/>
<circle cx="458.2" cy="491.74" r="1.45" fill="rgb(60,205,110)" fill-opacity="0.85"/>
<circle cx="425.42" cy="516.04" r="1.45" fill="rgb(240,150,70)" fill-opacity="0.85"/>
<circle cx="446.79" cy="503.31" r="1.45" fill="rgb(60,205,110)" fill-opacity="0.85"/>
<circle cx="506.77" cy="513.75" r="1.45" fill="rgb(200,105,65)" fill-opacity="0.85"/>
<circle cx="450.37" cy="501.15" r="1.45" fill="rgb(200,105,65)" fill-opacity="0.85"/>
<circle cx="457.41" cy="479.17" r="1.45" fill="rgb(45,125,85)" fill-opacity="0.85"/>
<circle cx="439.82" cy="498.44" r="1.45" fill="rgb(200,105,65)" fill-opacity="0.85"/>
<circle cx="492.03" cy="475.52" r="1.45" fill="rgb(45,125,85)" fill-opacity="0.85"/>
<circle cx="456.76" cy="504.08" r="1.45" fill="rgb(240,150,70)" fill-opacity="0.85"/>
<circle cx="424.74" cy="508.91" r="1.45" fill="rgb(60,205,110)" fill-opacity="0.85"/>
<circle cx="482.04" cy="512.09" r="1.45" fill="rgb(200,105,65)" fill-opacity="0.85"/>
<circle cx="447.42" cy="520.82" r="1.45" fill="rgb(60,205,110)" fill-opacity="0.85"/>
<circle cx="472.72" cy="513.29" r="1.45" fill="rgb(45,125,85)" fill-opacity="0.85"/>
<circle cx="448.87" cy="504.58" r="1.45" fill="rgb(200,105,65)" fill-opacity="0.85"/>
<circle cx="457.01" cy="481.84" r="1.45" fill="rgb(45,125,85)" fill-opacity="0.85"/>
<circle cx="449.58" cy="488.88" r="1.45" fill="rgb(45,125,85)" fill-opacity="0.85"/>
<circle cx="458.93" cy="515.91" r="1.45" fill="rgb(200,105,65)" fill-opacity="0.85"/>
<circle cx="429.13" cy="488.58" r="1.45" fill="rgb(60,205,110)" fill-opacity="0.85"/>
<circle cx="476.22" cy="516.75" r="1.45" fill="rgb(45,125,85)" fill-opacity="0.85"/>
<circle cx="428.91" cy="483.5" r="1.45" fill="rgb(240,150,70)" fill-opacity="0.85"/>
<circle cx="442.98" cy="476.29" r="1.45" fill="rgb(240,150,70)" fill-opacity="0.85"/>
<circle cx="455.93" cy="453.11" r="1.45" fill="rgb(60,205,110)" fill-opacity="0.85"/>
<circle cx="446.5" cy="515.11" r="1.45" fill="rgb(60,205,110)" fill-opacity="0.85"/>
<circle cx="421.56" cy="517.63" r="1.45" fill="rgb(45,125,85)" fill-opacity="0.85"/>
<circle cx="489.12" cy="497.76" r="1.45" fill="rgb(240,150,70)" fill-opacity="0.85"/>
<circle cx="412.72" cy="505.92" r="1.45" fill="rgb(240,150,70)" fill-opacity="0.85"/>
<circle cx="474.7" cy="490.91" r="1.45" fill="rgb(230,70,75)" fill-opacity="0.85"/>
<circle cx="455.56" cy="518.13" r="1.45" fill="rgb(45,125,85)" fill-opacity="0.85"/>
<circle cx="452.77" cy="519.64" r="1.45" fill="rgb(60,205,110)" fill-opacity="0.85"/>
<circle cx="414.8" cy="453.96" r="1.45" fill="rgb(230,70,75)" fill-opacity="0.85"/>
<circle cx="454.16" cy="479.26" r="1.45" fill="rgb(200,105,65)" fill-opacity="0.85"/>
<circle cx="454.06" cy="497.35" r="1.45" fill="rgb(200,105,65)" fill-opacity="0.85"/>
<circle cx="417.54" cy="487.23" r="1.45" fill="rgb(240,150,70)" fill-opacity="0.85"/>
<circle cx="452.7" cy="497.03" r="1.45" fill="rgb(200,105,65)" fill-opacity="0.85"/>
<circle cx="490.27" cy="520.59" r="1.45" fill="rgb(60,205,110)" fill-opacity="0.85"/>
<circle cx="458.57" cy="471.22" r="1.45" fill="rgb(230,70,75)" fill-opacity="0.85"/>
<circle cx="465.91" cy="465.92" r="1.45" fill="rgb(45,125,85)" fill-opacity="0.85"/>
<circle cx="477.23" cy="479.22" r="1.45" fill="rgb(200,105,65)" fill-opacity="0.85"/>
<circle cx="426.08" cy="492.25" r="1.45" fill="rgb(240,150,70)" fill-opacity="0.85"/>
<circle cx="459.93" cy="470.17" r="1.45" fill="rgb(60,205,110)" fill-opacity="0.85"/>
<circle cx="470.66" cy="441.86" r="1.45" fill="rgb(60,205,110)" fill-opacity="0.85"/>
<circle cx="411.25" cy="493.98" r="1.45" fill="rgb(60,205,110)" fill-opacity="0.85"/>
<circle cx="416.17" cy="516.8" r="1.45" fill="rgb(200,105,65)" fill-opacity="0.85"/>
<circle cx="440.86" cy="507.87" r="1.45" fill="rgb(45,125,85)" fill-opacity="0.85"/>
<circle cx="413.37" cy="518.91" r="1.45" fill="rgb(200,105,65)" fill-opacity="0.85"/>
<circle cx="446.46" cy="459.39" r="1.45" fill="rgb(200,105,65)" fill-opacity="0.85"/>
<circle cx="451.36" cy="473.01" r="1.45" fill="rgb(60,205,110)" fill-opacity="0.85"/>
<circle cx="420.42" cy="514.48" r="1.45" fill="rgb(200,105,65)" fill-opacity="0.85"/>
<circle cx="440.29" cy="500.19" r="1.45" fill="rgb(45,125,85)" fill-opacity="0.85"/>
<circle cx="445.29" cy="488.86" r="1.45" fill="rgb(45,125,85)" fill-opacity="0.85"/>
<circle cx="432.5" cy="501.38" r="1.45" fill="rgb(240,150,70)" fill-opacity="0.85"/>
<circle cx="482.16" cy="497.39" r="1.45" fill="rgb(230,70,75)" fill-opacity="0.85"/>
<circle cx="467.19" cy="516" r="1.45" fill="rgb(60,205,110)" fill-opacity="0.85"/>
<circle cx="505.86" cy="488.88" r="1.45" fill="rgb(45,125,85)" fill-opacity="0.85"/>
<circle cx="483.08" cy="500.64" r="1.45" fill="rgb(45,125,85)" fill-opacity="0.85"/>
<circle cx="470.57" cy="514.67" r="1.45" fill="rgb(60,205,110)" fill-opacity="0.85"/>
<circle cx="442.32" cy="494.99" r="1.45" fill="rgb(230,70,75)" fill-opacity="0.85"/>
<circle cx="479.53" cy="498.99" r="1.45" fill="rgb(200,105,65)" fill-opacity="0.85"/>
<circle cx="470.35" cy="507.48" r="1.45" fill="rgb(45,125,85)" fill-opacity="0.85"/>
<circle cx="466.79" cy="505.59" r="1.45" fill="rgb(200,105,65)" fill-opacity="0.85"/>
<circle cx="477.37" cy="502.26" r="1.45" fill="rgb(200,105,65)" fill-opacity="0.85"/>
<circle cx="443.77" cy="517.22" r="1.45" fill="rgb(45,125,85)" fill-opacity="0.85"/>
<circle cx="462.26" cy="511.2" r="1.45" fill="rgb(60,205,110)" fill-opacity="0.85"/>
<circle cx="446.9" cy="486.9" r="1.45" fill="rgb(60,205,110)" fill-opacity="0.85"/>
<circle cx="454.43" cy="484.85" r="1.45" fill="rgb(240,150,70)" fill-opacity="0.85"/>
<circle cx="455.84" cy="493.77" r="1.45" fill="rgb(240,150,70)" fill-opacity="0.85"/>
<circle cx="420.78" cy="474.47" r="1.45" fill="rgb(200,105,65)" fill-opacity="0.85"/>
<circle cx="443.33" cy="471.37" r="1.45" fill="rgb(230,70,75)" fill-opacity="0.85"/>
<circle cx="423.72" cy="461.98" r="1.45" fill="rgb(200,105,65)" fill-opacity="0.85"/>
<circle cx="461.66" cy="518.2" r="1.45" fill="rgb(60,205,110)" fill-opacity="0.85"/>
<circle cx="468.39" cy="510.07" r="1.45" fill="rgb(60,205,110)" fill-opacity="0.85"/>
<circle cx="426.35" cy="513.36" r="1.45" fill="rgb(45,125,85)" fill-opacity="0.85"/>
<circle cx="459" cy="499.79" r="1.45" fill="rgb(240,150,70)" fill-opacity="0.85"/>
<circle cx="466.86" cy="510.08" r="1.45" fill="rgb(230,70,75)" fill-opacity="0.85"/>
<circle cx="468.71" cy="494.57" r="1.45" fill="rgb(230,70,75)" fill-opacity="0.85"/>
<circle cx="447.45" cy="496.06" r="1.45" fill="rgb(240,150,70)" fill-opacity="0.85"/>
<circle cx="440.4" cy="482.62" r="1.45" fill="rgb(60,205,110)" fill-opacity="0.85"/>
<circle cx="438.84" cy="510.98" r="1.45" fill="rgb(60,205,110)" fill-opacity="0.85"/>
<circle cx="421.62" cy="502.15" r="1.45" fill="rgb(60,205,110)" fill-opacity="0.85"/>
<circle cx="471.64" cy="520.7" r="1.45" fill="rgb(230,70,75)" fill-opacity="0.85"/>
<circle cx="434.97" cy="487.11" r="1.45" fill="rgb(240,150,70)" fill-opacity="0.85"/>
<circle cx="439.61" cy="520.91" r="1.45" fill="rgb(45,125,85)" fill-opacity="0.85"/>
<circle cx="477.76" cy="496.71" r="1.45" fill="rgb(200,105,65)" fill-opacity="0.85"/>
<circle cx="473.31" cy="504.53" r="1.45" fill="rgb(60,205,110)" fill-opacity="0.85"/>
<circle cx="484.88" cy="510.69" r="1.45" fill="rgb(240,150,70)" fill-opacity="0.85"/>
<circle cx="448.46" cy="508.67" r="1.45" fill="rgb(230,70,75)" fill-opacity="0.85"/>
<circle cx="460.44" cy="505.53" r="1.45" fill="rgb(240,150,70)" fill-opacity="0.85"/>
<circle cx="474.3" cy="475.93" r="1.45" fill="rgb(230,70,75)" fill-opacity="0.85"/>
<circle cx="481.01" cy="488.63" r="1.45" fill="rgb(240,150,70)" fill-opacity="0.85"/>
<circle cx="452.92" cy="510.19" r="1.45" fill="rgb(60,205,110)" fill-opacity="0.85"/>
<circle cx="459.27" cy="453.65" r="1.45" fill="rgb(200,105,65)" fill-opacity="0.85"/>
<circle cx="441.52" cy="492.45" r="1.45" fill="rgb(45,125,85)" fill-opacity="0.85"/>
<circle cx="441.63" cy="510.98" r="1.45" fill="rgb(240,150,70)" fill-opacity="0.85"/>
<circle cx="474" cy="486.91" r="1.45" fill="rgb(230,70,75)" fill-opacity="0.85"/>
<circle cx="467.73" cy="519.04" r="1.45" fill="rgb(230,70,75)" fill-opacity="0.85"/>
<circle cx="464.25" cy="480.51" r="1.45" fill="rgb(230,70,75)" fill-opacity="0.85"/>
<circle cx="552.3" cy="403.77" r="1.45" fill="rgb(45,125,85)" fill-opacity="0.85"/>
<circle cx="492.53" cy="495.98" r="1.45" fill="rgb(230,70,75)" fill-opacity="0.85"/>
<circle cx="504.68" cy="462.78" r="1.45" fill="rgb(60,205,110)" fill-opacity="0.85"/>
<circle cx="507.01" cy="437.52" r="1.45" fill="rgb(230,70,75)" fill-opacity="0.85"/>
<circle cx="562.18" cy="411.24" r="1.45" fill="rgb(230,70,75)" fill-opacity="0.85"/>
<circle cx="463.44" cy="511.21" r="1.45" fill="rgb(60,205,110)" fill-opacity="0.85"/>
<circle cx="483.82" cy="450.6" r="1.45" fill="rgb(230,70,75)" fill-opacity="0.85"/>
<circle cx="547.73" cy="439.23" r="1.45" fill="rgb(45,125,85)" fill-opacity="0.85"/>
<circle cx="543.86" cy="446.92" r="1.45" fill="rgb(45,125,85)" fill-opacity="0.85"/>
<circle cx="545.94" cy="424.8" r="1.45" fill="rgb(230,70,75)" fill-opacity="0.85"/>
<circle cx="501.37" cy="452.09" r="1.45" fill="rgb(60,205,110)" fill-opacity="0.85"/>
<circle cx="484.12" cy="433.5" r="1.45" fill="rgb(60,205,110)" fill-opacity="0.85"/>
<circle cx="545.5" cy="428.39" r="1.45" fill="rgb(60,205,110)" fill-opacity="0.85"/>
<circle cx="540.78" cy="444.18" r="1.45" fill="rgb(45,125,85)" fill-opacity="0.85"/>
<circle cx="558" cy="407.67" r="1.45" fill="rgb(230,70,75)" fill-opacity="0.85"/>
<circle cx="538.68" cy="425.04" r="1.45" fill="rgb(240,150,70)" fill-opacity="0.85"/>
<circle cx="478.21" cy="469.87" r="1.45" fill="rgb(45,125,85)" fill-opacity="0.85"/>
<circle cx="512.87" cy="439.59" r="1.45" fill="rgb(200,105,65)" fill-opacity="0.85"/>
<circle cx="552.96" cy="399.44" r="1.45" fill="rgb(45,125,85)" fill-opacity="0.85"/>
<circle cx="521.56" cy="496.41" r="1.45" fill="rgb(240,150,70)" fill-opacity="0.85"/>
<circle cx="503.59" cy="433.82" r="1.45" fill="rgb(45,125,85)" fill-opacity="0.85"/>
<circle cx="490.67" cy="491.01" r="1.45" fill="rgb(240,150,70)" fill-opacity="0.85"/>
<circle cx="524.44" cy="410.46" r="1.45" fill="rgb(60,205,110)" fill-opacity="0.85"/>
<circle cx="536.94" cy="458.81" r="1.45" fill="rgb(240,150,70)" fill-opacity="0.85"/>
<circle cx="509.7" cy="449.41" r="1.45" fill="rgb(60,205,110)" fill-opacity="0.85"/>
<circle cx="551.14" cy="437.22" r="1.45" fill="rgb(240,150,70)" fill-opacity="0.85"/>
<circle cx="484.82" cy="494.1" r="1.45" fill="rgb(45,125,85)" fill-opacity="0.85"/>
<circle cx="525.53" cy="450.38" r="1.45" fill="rgb(60,205,110)" fill-opacity="0.85"/>
<circle cx="483.59" cy="454.97" r="1.45" fill="rgb(45,125,85)" fill-opacity="0.85"/>
<circle cx="559.28" cy="380.38" r="1.45" fill="rgb(200,105,65)" fill-opacity="0.85"/>
<circle cx="489.94" cy="470.9" r="1.45" fill="rgb(45,125,85)" fill-opacity="0.85"/>
<circle cx="528.32" cy="451.7" r="1.45" fill="rgb(200,105,65)" fill-opacity="0.85"/>
<circle cx="520.37" cy="466.03" r="1.45" fill="rgb(45,125,85)" fill-opacity="0.85"/>
<circle cx="496.77" cy="438.36" r="1.45" fill="rgb(45,125,85)" fill-opacity="0.85"/>
<circle cx="472.67" cy="508.21" r="1.45" fill="rgb(200,105,65)" fill-opacity="0.85"/>
<circle cx="496.12" cy="401.9" r="1.45" fill="rgb(60,205,110)" fill-opacity="0.85"/>
<circle cx="494.47" cy="443.24" r="1.45" fill="rgb(200,105,65)" fill-opacity="0.85"/>
<circle cx="539.43" cy="418.52" r="1.45" fill="rgb(60,205,110)" fill-opacity="0.85"/>
<circle cx="511.96" cy="424.58" r="1.45" fill="rgb(240,150,70)" fill-opacity="0.85"/>
<circle cx="488.08" cy="479.73" r="1.45" fill="rgb(45,125,85)" fill-opacity="0.85"/>
<circle cx="558.01" cy="421.36" r="1.45" fill="rgb(200,105,65)" fill-opacity="0.85"/>
<circle cx="501.09" cy="456.43" r="1.45" fill="rgb(200,105,65)" fill-opacity="0.85"/>
<circle cx="536.77" cy="407.31" r="1.45" fill="rgb(200,105,65)" fill-opacity="0.85"/>
<circle cx="520.68" cy="466.57" r="1.45" fill="rgb(45,125,85)" fill-opacity="0.85"/>
<circle cx="490.12" cy="440.75" r="1.45" fill="rgb(60,205,110)" fill-opacity="0.85"/>
<circle cx="559.67" cy="430.56" r="1.45" fill="rgb(200,105,65)" fill-opacity="0.85"/>
<circle cx="468.73" cy="505.59" r="1.45" fill="rgb(45,125,85)" fill-opacity="0.85"/>
<circle cx="530.44" cy="423.89" r="1.45" fill="rgb(45,125,85)" fill-opacity="0.85"/>
<circle cx="467.47" cy="479.04" r="1.45" fill="rgb(230,70,75)" fill-opacity="0.85"/>
<circle cx="546.12" cy="410.16" r="1.45" fill="rgb(200,105,65)" fill-opacity="0.85"/>
<circle cx="464.14" cy="430.82" r="1.45" fill="rgb(45,125,85)" fill-opacity="0.85"/>
<circle cx="517.28" cy="440.67" r="1.45" fill="rgb(45,125,85)" fill-opacity="0.85"/>
<circle cx="507.98" cy="426.33" r="1.45" fill="rgb(45,125,85)" fill-opacity="0.85"/>
<circle cx="533.3" cy="389.23" r="1.45" fill="rgb(45,125,85)" fill-opacity="0.85"/>
<circle cx="505.27" cy="472.25" r="1.45" fill="rgb(45,125,85)" fill-opacity="0.85"/>
<circle cx="514.36" cy="496.18" r="1.45" fill="rgb(60,205,110)" fill-opacity="0.85"/>
<circle cx="561.48" cy="386.91" r="1.45" fill="rgb(45,125,85)" fill-opacity="0.85"/>
<circle cx="510.46" cy="473.53" r="1.45" fill="rgb(240,150,70)" fill-opacity="0.85"/>
<circle cx="564.75" cy="400.49" r="1.45" fill="rgb(200,105,65)" fill-opacity="0.85"/>
<circle cx="534.01" cy="405.54" r="1.45" fill="rgb(240,150,70)" fill-opacity="0.85"/>
<circle cx="547.6" cy="457.7" r="1.45" fill="rgb(200,105,65)" fill-opacity="0.85"/>
<circle cx="511.37" cy="468.61" r="1.45" fill="rgb(45,125,85)" fill-opacity="0.85"/>
<circle cx="553.71" cy="407.97" r="1.45" fill="rgb(200,105,65)" fill-opacity="0.85"/>
<circle cx="470.44" cy="468.55" r="1.45" fill="rgb(60,205,110)" fill-opacity="0.85"/>
<circle cx="504.15" cy="446.09" r="1.45" fill="rgb(45,125,85)" fill-opacity="0.85"/>
<circle cx="533.54" cy="441.95" r="1.45" fill="rgb(45,125,85)" fill-opacity="0.85"/>
<circle cx="551.83" cy="396.8" r="1.45" fill="rgb(200,105,65)" fill-opacity="0.85"/>
<circle cx="520.18" cy="447.88" r="1.45" fill="rgb(200,105,65)" fill-opacity="0.85"/>
<circle cx="497.38" cy="479.19" r="1.45" fill="rgb(45,125,85)" fill-opacity="0.85"/>
<circle cx="502.44" cy="465.14" r="1.45" fill="rgb(45,125,85)" fill-opacity="0.85"/>
<circle cx="517.51" cy="495.5" r="1.45" fill="rgb(60,205,110)" fill-opacity="0.85"/>
<circle cx="481.19" cy="506.23" r="1.45" fill="rgb(45,125,85)" fill-opacity="0.85"/>
<circle cx="495.64" cy="474.77" r="1.45" fill="rgb(240,150,70)" fill-opacity="0.85"/>
<circle cx="559.99" cy="426.46" r="1.45" fill="rgb(230,70,75)" fill-opacity="0.85"/>
<circle cx="514.27" cy="506.97" r="1.45" fill="rgb(60,205,110)" fill-opacity="0.85"/>
<circle cx="545.8" cy="349.94" r="1.45" fill="rgb(60,205,110)" fill-opacity="0.85"/>
<circle cx="561.84" cy="373.95" r="1.45" fill="rgb(45,125,85)" fill-opacity="0.85"/>
<circle cx="526.57" cy="424" r="1.45" fill="rgb(200,105,65)" fill-opacity="0.85"/>
<circle cx="479.01" cy="506.3" r="1.45" fill="rgb(45,125,85)" fill-opacity="0.85"/>
<circle cx="485.87" cy="456.93" r="1.45" fill="rgb(230,70,75)" fill-opacity="0.85"/>
<circle cx="518.17" cy="426.34" r="1.45" fill="rgb(200,105,65)" fill-opacity="0.85"/>
<circle cx="561.02" cy="392.58" r="1.45" fill="rgb(200,105,65)" fill-opacity="0.85"/>
<circle cx="541.57" cy="355.79" r="1.45" fill="rgb(60,205,110)" fill-opacity="0.85"/>
<circle cx="487.65" cy="519.16" r="1.45" fill="rgb(60,205,110)" fill-opacity="0.85"/>
<circle cx="477.26" cy="499.5" r="1.45" fill="rgb(60,205,110)" fill-opacity="0.85"/>
<circle cx="530.19" cy="464.14" r="1.45" fill="rgb(60,205,110)" fill-opacity="0.85"/>
<circle cx="516.89" cy="465.48" r="1.45" fill="rgb(45,125,85)" fill-opacity="0.85"/>
<circle cx="509.73" cy="469.8" r="1.45" fill="rgb(230,70,75)" fill-opacity="0.85"/>
<circle cx="484.98" cy="439.56" r="1.45" fill="rgb(60,205,110)" fill-opacity="0.85"/>
<circle cx="513.21" cy="426.51" r="1.45" fill="rgb(45,125,85)" fill-opacity="0.85"/>
<circle cx="485.61" cy="493.41" r="1.45" fill="rgb(200,105,65)" fill-opacity="0.85"/>
<circle cx="485.05" cy="472.49" r="1.45" fill="rgb(60,205,110)" fill-opacity="0.85"/>
<circle cx="506.62" cy="450.59" r="1.45" fill="rgb(200,105,65)" fill-opacity="0.85"/>
<circle cx="513.71" cy="408.2" r="1.45" fill="rgb(45,125,85)" fill-opacity="0.85"/>
<circle cx="545.72" cy="426.71" r="1.45" fill="rgb(60,205,110)" fill-opacity="0.85"/>
<circle cx="517.93" cy="454.56" r="1.45" fill="rgb(200,105,65)" fill-opacity="0.85"/>
<circle cx="559.05" cy="417.14" r="1.45" fill="rgb(60,205,110)" fill-opacity="0.85"/>
<circle cx="510.57" cy="433.5" r="1.45" fill="rgb(200,105,65)" fill-opacity="0.85"/>
<circle cx="527.53" cy="436.73" r="1.45" fill="rgb(230,70,75)" fill-opacity="0.85"/>
<circle cx="501.54" cy="430.31" r="1.45" fill="rgb(60,205,110)" fill-opacity="0.85"/>
<circle cx="556.81" cy="389.79" r="1.45" fill="rgb(45,125,85)" fill-opacity="0.85"/>
<circle cx="542.71" cy="468.03" r="1.45" fill="rgb(60,205,110)" fill-opacity="0.85"/>
<circle cx="471.53" cy="464.56" r="1.45" fill="rgb(240,150,70)" fill-opacity="0.85"/>
<circle cx="525.89" cy="433.35" r="1.45" fill="rgb(45,125,85)" fill-opacity="0.85"/>
<circle cx="515.45" cy="473.35" r="1.45" fill="rgb(60,205,110)" fill-opacity="0.85"/>
<circle cx="516.24" cy="420.84" r="1.45" fill="rgb(60,205,110)" fill-opacity="0.85"/>
<circle cx="473.19" cy="477.91" r="1.45" fill="rgb(230,70,75)" fill-opacity="0.85"/>
<circle cx="564.3" cy="462.71" r="1.45" fill="rgb(45,125,85)" fill-opacity="0.85"/>
<circle cx="564.7" cy="411.71" r="1.45" fill="rgb(230,70,75)" fill-opacity="0.85"/>
<circle cx="473.22" cy="398.99" r="1.45" fill="rgb(200,105,65)" fill-opacity="0.85"/>
<circle cx="476.14" cy="410.04" r="1.45" fill="rgb(240,150,70)" fill-opacity="0.85"/>
<circle cx="448.73" cy="456.37" r="1.45" fill="rgb(200,105,65)" fill-opacity="0.85"/>
<circle cx="478.04" cy="382.18" r="1.45" fill="rgb(240,150,70)" fill-opacity="0.85"/>
<circle cx="495.37" cy="415.36" r="1.45" fill="rgb(240,150,70)" fill-opacity="0.85"/>
<circle cx="443.88" cy="414.92" r="1.45" fill="rgb(200,105,65)" fill-opacity="0.85"/>
<circle cx="436.4" cy="418.45" r="1.45" fill="rgb(200,105,65)" fill-opacity="0.85"/>
<circle cx="487.21" cy="468.09" r="1.45" fill="rgb(45,125,85)" fill-opacity="0.85"/>
<circle cx="487.45" cy="437.91" r="1.45" fill="rgb(230,70,75)" fill-opacity="0.85"/>
<circle cx="454.03" cy="422.99" r="1.45" fill="rgb(200,105,65)" fill-opacity="0.85"/>
<circle cx="431.99" cy="402.69" r="1.45" fill="rgb(240,150,70)" fill-opacity="0.85"/>
<circle cx="423.73" cy="449.8" r="1.45" fill="rgb(200,105,65)" fill-opacity="0.85"/>
<g stroke="rgb(235,35,40)" stroke-width="1.0"><line x1="85.4" y1="356.3" x2="85.4" y2="500.5"/><line x1="55.4" y1="428.2" x2="116.2" y2="428.2"/><line x1="82.4" y1="356.3" x2="88.4" y2="356.3"/><line x1="82.4" y1="500.5" x2="88.4" y2="500.5"/><line x1="55.4" y1="425.2" x2="55.4" y2="431.2"/><line x1="116.2" y1="425.2" x2="116.2" y2="431.2"/></g>
<circle cx="85.4" cy="428.2" r="3.9" fill="rgb(235,35,40)"/>
<g stroke="rgb(200,90,40)" stroke-width="1.0"><line x1="92.5" y1="363.8" x2="92.5" y2="496.2"/><line x1="69.4" y1="430.4" x2="116.9" y2="430.4"/><line x1="89.5" y1="363.8" x2="95.5" y2="363.8"/><line x1="89.5" y1="496.2" x2="95.5" y2="496.2"/><line x1="69.4" y1="427.4" x2="69.4" y2="433.4"/><line x1="116.9" y1="427.4" x2="116.9" y2="433.4"/></g>
<circle cx="92.5" cy="430.4" r="3.9" fill="rgb(200,90,40)"/>
<g stroke="rgb(245,145,40)" stroke-width="1.0"><line x1="96.5" y1="378.4" x2="96.5" y2="495.1"/><line x1="69.8" y1="436.3" x2="123.4" y2="436.3"/><line x1="93.5" y1="378.4" x2="99.5" y2="378.4"/><line x1="93.5" y1="495.1" x2="99.5" y2="495.1"/><line x1="69.8" y1="433.3" x2="69.8" y2="439.3"/><line x1="123.4" y1="433.3" x2="123.4" y2="439.3"/></g>
<circle cx="96.5" cy="436.3" r="3.9" fill="rgb(245,145,40)"/>
<g stroke="rgb(40,120,80)" stroke-width="1.0"><line x1="101.1" y1="383.3" x2="101.1" y2="498"/><line x1="73.4" y1="440.5" x2="128.2" y2="440.5"/><line x1="98.1" y1="383.3" x2="104.1" y2="383.3"/><line x1="98.1" y1="498" x2="104.1" y2="498"/><line x1="73.4" y1="437.5" x2="73.4" y2="443.5"/><line x1="128.2" y1="437.5" x2="128.2" y2="443.5"/></g>
<circle cx="101.1" cy="440.5" r="3.9" fill="rgb(40,120,80)"/>
<g stroke="rgb(40,200,90)" stroke-width="1.0"><line x1="111.4" y1="379.3" x2="111.4" y2="502.8"/><line x1="75.2" y1="441.4" x2="145.9" y2="441.4"/><line x1="108.4" y1="379.3" x2="114.4" y2="379.3"/><line x1="108.4" y1="502.8" x2="114.4" y2="502.8"/><line x1="75.2" y1="438.4" x2="75.2" y2="444.4"/><line x1="145.9" y1="438.4" x2="145.9" y2="444.4"/></g>
<circle cx="111.4" cy="441.4" r="3.9" fill="rgb(40,200,90)"/>
<g stroke="rgb(235,35,40)" stroke-width="1.0"><line x1="505.3" y1="425.5" x2="505.3" y2="515.6"/><line x1="434.1" y1="470.9" x2="568.5" y2="470.9"/><line x1="502.3" y1="425.5" x2="508.3" y2="425.5"/><line x1="502.3" y1="515.6" x2="508.3" y2="515.6"/><line x1="434.1" y1="467.9" x2="434.1" y2="473.9"/><line x1="568.5" y1="467.9" x2="568.5" y2="473.9"/></g>
<circle cx="505.3" cy="470.9" r="3.9" fill="rgb(235,35,40)"/>
<g stroke="rgb(200,90,40)" stroke-width="1.0"><line x1="484.4" y1="437.6" x2="484.4" y2="512.5"/><line x1="443.2" y1="474.5" x2="525.3" y2="474.5"/><line x1="481.4" y1="437.6" x2="487.4" y2="437.6"/><line x1="481.4" y1="512.5" x2="487.4" y2="512.5"/><line x1="443.2" y1="471.5" x2="443.2" y2="477.5"/><line x1="525.3" y1="471.5" x2="525.3" y2="477.5"/></g>
<circle cx="484.4" cy="474.5" r="3.9" fill="rgb(200,90,40)"/>
<g stroke="rgb(245,145,40)" stroke-width="1.0"><line x1="480.9" y1="443.5" x2="480.9" y2="513.2"/><line x1="434.5" y1="477" x2="526.4" y2="477"/><line x1="477.9" y1="443.5" x2="483.9" y2="443.5"/><line x1="477.9" y1="513.2" x2="483.9" y2="513.2"/><line x1="434.5" y1="474" x2="434.5" y2="480"/><line x1="526.4" y1="474" x2="526.4" y2="480"/></g>
<circle cx="480.9" cy="477" r="3.9" fill="rgb(245,145,40)"/>
<g stroke="rgb(40,120,80)" stroke-width="1.0"><line x1="474.5" y1="449.3" x2="474.5" y2="511.9"/><line x1="428" y1="481" x2="522.3" y2="481"/><line x1="471.5" y1="449.3" x2="477.5" y2="449.3"/><line x1="471.5" y1="511.9" x2="477.5" y2="511.9"/><line x1="428" y1="478" x2="428" y2="484"/><line x1="522.3" y1="478" x2="522.3" y2="484"/></g>
<circle cx="474.5" cy="481" r="3.9" fill="rgb(40,120,80)"/>
<g stroke="rgb(40,200,90)" stroke-width="1.0"><line x1="462.6" y1="451.4" x2="462.6" y2="514.7"/><line x1="414.7" y1="483.3" x2="511.5" y2="483.3"/><line x1="459.6" y1="451.4" x2="465.6" y2="451.4"/><line x1="459.6" y1="514.7" x2="465.6" y2="514.7"/><line x1="414.7" y1="480.3" x2="414.7" y2="486.3"/><line x1="511.5" y1="480.3" x2="511.5" y2="486.3"/></g>
<circle cx="462.6" cy="483.3" r="3.9" fill="rgb(40,200,90)"/>
<line x1="21.4" y1="404.5" x2="201.9" y2="388.8" stroke="rgb(30,30,110)" stroke-width="1.2" stroke-dasharray="5,3.5" stroke-opacity="1"/>
<line x1="92.5" y1="341.5" x2="108" y2="521.5" stroke="rgb(0,220,240)" stroke-width="1.6" stroke-dasharray="5,3.5" stroke-opacity="1"/>
<line x1="387.5" y1="427.9" x2="568.7" y2="473.3" stroke="rgb(30,30,110)" stroke-width="1.2" stroke-dasharray="5,3.5" stroke-opacity="1"/>
<line x1="519.1" y1="346.9" x2="475.9" y2="522.5" stroke="rgb(0,220,240)" stroke-width="1.6" stroke-dasharray="5,3.5" stroke-opacity="1"/>
<line x1="31.6" y1="498.2" x2="31.6" y2="516.6" stroke="rgb(0,220,240)" stroke-width="1.9" stroke-dasharray="5,1.8" stroke-opacity="1"/>
<text x="35.6" y="493.6" font-size="10.5" font-family="Liberation Sans, sans-serif" fill="#111" transform="rotate(-90 35.6 493.6)" textLength="81.8" lengthAdjust="spacingAndGlyphs">SVM hyperplane</text>
<rect x="21.4" y="341.3" width="180.5" height="181" fill="none" stroke="#555" stroke-width="1"/>
<rect x="387.5" y="341.5" width="181.2" height="181.2" fill="none" stroke="#555" stroke-width="1"/>
<text x="177.7" y="355.5" font-size="10.5" font-family="Liberation Sans, sans-serif" fill="#111" textLength="17.5" lengthAdjust="spacingAndGlyphs">Scc</text>
<text x="394" y="355.5" font-size="10.5" font-family="Liberation Sans, sans-serif" fill="#111" textLength="17.5" lengthAdjust="spacingAndGlyphs">Scc</text>
<text x="16.8" y="345.6" font-size="12" font-family="Liberation Sans, sans-serif" fill="#222" text-anchor="end">1</text>
<text x="16.8" y="436.3" font-size="12" font-family="Liberation Sans, sans-serif" fill="#222" text-anchor="end" textLength="16.68" lengthAdjust="spacingAndGlyphs">0.5</text>
<text x="16.8" y="526.6" font-size="12" font-family="Liberation Sans, sans-serif" fill="#222" text-anchor="end">0</text>
<text x="20.5" y="538" font-size="12" font-family="Liberation Sans, sans-serif" fill="#222" text-anchor="middle" textLength="16.68" lengthAdjust="spacingAndGlyphs">0.4</text>
<text x="111.2" y="538" font-size="12" font-family="Liberation Sans, sans-serif" fill="#222" text-anchor="middle" textLength="16.68" lengthAdjust="spacingAndGlyphs">0.9</text>
<text x="201.7" y="538" font-size="12" font-family="Liberation Sans, sans-serif" fill="#222" text-anchor="middle" textLength="16.68" lengthAdjust="spacingAndGlyphs">1.4</text>
<text x="383.3" y="345.8" font-size="12" font-family="Liberation Sans, sans-serif" fill="#222" text-anchor="end">2</text>
<text x="383.3" y="436.3" font-size="12" font-family="Liberation Sans, sans-serif" fill="#222" text-anchor="end">1</text>
<text x="383.3" y="527" font-size="12" font-family="Liberation Sans, sans-serif" fill="#222" text-anchor="end">0</text>
<text x="387.5" y="538.6" font-size="12" font-family="Liberation Sans, sans-serif" fill="#222" text-anchor="middle" textLength="16.68" lengthAdjust="spacingAndGlyphs">1.5</text>
<text x="477.9" y="538.6" font-size="12" font-family="Liberation Sans, sans-serif" fill="#222" text-anchor="middle" textLength="16.68" lengthAdjust="spacingAndGlyphs">2.5</text>
<text x="568.7" y="538.6" font-size="12" font-family="Liberation Sans, sans-serif" fill="#222" text-anchor="middle" textLength="16.68" lengthAdjust="spacingAndGlyphs">3.5</text>
<g transform="translate(101.6 554.2)" font-family="Liberation Serif, serif" fill="#111"><text x="0" y="0" font-size="15.5" font-style="italic" textLength="12" lengthAdjust="spacingAndGlyphs">D</text><text x="12" y="2.4" font-size="11.5" textLength="10.4" lengthAdjust="spacingAndGlyphs">∞</text></g>
<g transform="translate(0 552.6)" font-family="Liberation Serif, serif" fill="#111"><text x="459.4" y="0" font-size="13.5">1</text><text x="465.6" y="0" font-size="13.5">/</text><text x="472.2" y="0" font-size="13.5" font-style="italic">α</text><text x="481.6" y="0" font-size="13.5">(</text><text x="485.6" y="0" font-size="13.5" font-style="italic">x</text><text x="493.6" y="0" font-size="13.5">)</text></g>
<path d="M459.1 543.4 L456.8 549.6 L459.1 555.8 M499.7 543.4 L502 549.6 L499.7 555.8" fill="none" stroke="#111" stroke-width="0.8"/>
<g transform="translate(9 400.3) rotate(-90)" font-family="Liberation Serif, serif" fill="#111"><text x="0" y="0" font-size="19" font-style="italic" textLength="8.4" lengthAdjust="spacingAndGlyphs">c</text><text x="9" y="2.4" font-size="14.5" font-style="italic" textLength="10.6" lengthAdjust="spacingAndGlyphs">D</text></g>
<g transform="translate(380.4 410) rotate(-90)" font-family="Liberation Serif, serif" fill="#111"><text x="0" y="0" font-size="14">Γ</text><text x="8.6" y="2.6" font-size="9.5">0</text><text x="15.6" y="0" font-size="14.5">[</text><text x="20.2" y="0" font-size="14" font-style="italic">μ</text><text x="27.2" y="0" font-size="14">m</text><text x="37.6" y="0" font-size="14.5">]</text></g>
<text x="0.9" y="13.8" font-size="20" font-family="Liberation Sans, sans-serif" fill="#000" font-weight="bold" textLength="11.6" lengthAdjust="spacingAndGlyphs">a</text>
<text x="18" y="11.8" font-size="10.4" font-family="Liberation Sans, sans-serif" fill="#222" textLength="102.88" lengthAdjust="spacingAndGlyphs">Sham#AA4 - Color FA</text>
<defs><clipPath id="clA"><rect x="1.0" y="16.4" width="85.7" height="134.1"/></clipPath><filter id="bl3" x="-20%" y="-20%" width="140%" height="140%"><feGaussianBlur stdDeviation="3"/></filter><filter id="bl1" x="-20%" y="-20%" width="140%" height="140%"><feGaussianBlur stdDeviation="1.2"/></filter></defs>
<g clip-path="url(#clA)">
<rect x="1" y="16.4" width="85.7" height="134.1" fill="#102010"/>
<g filter="url(#bl3)">
<path d="M-5 24 L30 24 L35 35 L25 45 L-5 50 Z" fill="#4a1614"/>
<path d="M-5 17 L62 17 L62 25 L-5 25 Z" fill="#0c2a10"/>
<path d="M25 18 L62 18 L75 35 L60 45 L30 42 Z" fill="#28361a"/>
<path d="M-5 38 L18 38 L20 52 L-5 55 Z" fill="#801818"/>
<path d="M-5 50 L14 48 L14 62 L-5 66 Z" fill="#124070"/>
<path d="M20 42 L45 40 L72 36 L75 65 L60 68 L35 62 L20 55 Z" fill="#227222"/>
<path d="M35 48 L60 46 L62 60 L35 58 Z" fill="#2c8c2a"/>
<path d="M74 28 L80 34 L80 78 L74 72 Z" fill="#050805"/>
<path d="M20 63 L36 63 L36 72 L22 72 Z" fill="#8a9a10"/>
<path d="M-5 62 L10 62 L50 80 L50 90 L-5 80 Z" fill="#080808"/>
<path d="M28 68 L36 68 L36 76 L28 76 Z" fill="#2020a0"/>
<path d="M40 74 L58 76 L58 88 L40 86 Z" fill="#181870"/>
<path d="M-5 78 L12 78 L12 92 L-5 92 Z" fill="#1a6040"/>
<path d="M-5 90 L22 88 L25 100 L15 125 L-5 125 Z" fill="#501030"/>
<path d="M25 100 L60 96 L66 110 L62 132 L25 135 L18 120 Z" fill="#5a1010"/>
<path d="M18 112 L30 110 L32 125 L18 126 Z" fill="#7a3a10"/>
<path d="M30 94 L62 96 L64 104 L30 104 Z" fill="#1a5040"/>
<path d="M10 128 L55 126 L58 142 L10 142 Z" fill="#1e5a1e"/>
<path d="M58 82 L70 84 L72 104 L64 100 Z" fill="#050505"/>
<path d="M72 80 L80 80 L80 125 L72 125 Z" fill="#102810"/>
<path d="M74 126 L82 126 L82 142 L74 142 Z" fill="#b02030"/>
<path d="M-5 125 L5 125 L5 145 L-5 145 Z" fill="#104010"/>
</g>
<g filter="url(#bl1)">
<path d="M24 96 Q44 80 60 92 Q69 100 72 112" fill="none" stroke="#1a6a2a" stroke-width="11"/>
<path d="M25 92 Q44 80 58 91 Q67 99 71 110" fill="none" stroke="#38e040" stroke-width="5.5"/>
<path d="M66 100 Q70 106 71 114" fill="none" stroke="#30b0c0" stroke-width="4"/>
<path d="M71 112 Q71 120 68 126" fill="none" stroke="#2040c0" stroke-width="3.5"/>
<path d="M68 124 Q64 134 56 140" fill="none" stroke="#8090b0" stroke-width="3"/>
<path d="M8 134 L27.5 101.5" fill="none" stroke="#2a48e0" stroke-width="4.2"/>
<path d="M62 78 Q70 88 77 106" fill="none" stroke="#c87020" stroke-width="3.5"/>
<path d="M60 67 L80 77" fill="none" stroke="#e02040" stroke-width="4.5"/>
</g>
<defs><linearGradient id="gScc" x1="0" y1="0" x2="1" y2="1"><stop offset="0" stop-color="#f07828"/><stop offset="0.55" stop-color="#e89028"/><stop offset="1" stop-color="#c8c030"/></linearGradient></defs>
<path d="M13.3 60 L15 57.3 L18 55.9 L24 55.7 L30 55.8 L31.6 57.2 L31.6 58.6 L29.6 60 L27.3 62 L25.5 64.8 L21 66.5 L16 66 L13.6 63.5 Z" fill="url(#gScc)"/>
<path d="M32.5 55.3 L40 58 L50 62 L58 65 L63 68 L64.5 72.5 L63 71 L55 68.5 L45 64.5 L38 62 L33 61.5 L33 58 Z" fill="#e03868"/>
<rect x="1" y="16.4" width="2.1" height="2.1" fill="#a02040"/><rect x="3.1" y="16.4" width="2.1" height="2.1" fill="#2080f0"/><rect x="7.3" y="16.4" width="2.1" height="2.1" fill="#e040c0"/><rect x="9.4" y="16.4" width="2.1" height="2.1" fill="#30c030"/><rect x="11.5" y="16.4" width="2.1" height="2.1" fill="#f08030"/><rect x="13.6" y="16.4" width="2.1" height="2.1" fill="#e03030"/><rect x="15.7" y="16.4" width="2.1" height="2.1" fill="#3050e0"/><rect x="19.9" y="16.4" width="2.1" height="2.1" fill="#a02040"/><rect x="22" y="16.4" width="2.1" height="2.1" fill="#8040e0"/><rect x="24.1" y="16.4" width="2.1" height="2.1" fill="#40a060"/><rect x="26.2" y="16.4" width="2.1" height="2.1" fill="#3050e0"/><rect x="28.3" y="16.4" width="2.1" height="2.1" fill="#e040c0"/><rect x="30.4" y="16.4" width="2.1" height="2.1" fill="#e040c0"/><rect x="32.5" y="16.4" width="2.1" height="2.1" fill="#e040c0"/><rect x="36.7" y="16.4" width="2.1" height="2.1" fill="#e0e040"/><rect x="38.8" y="16.4" width="2.1" height="2.1" fill="#40e0e0"/><rect x="40.9" y="16.4" width="2.1" height="2.1" fill="#f06080"/><rect x="43" y="16.4" width="2.1" height="2.1" fill="#c0c0c0"/><rect x="45.1" y="16.4" width="2.1" height="2.1" fill="#40a060"/><rect x="47.2" y="16.4" width="2.1" height="2.1" fill="#3050e0"/><rect x="49.3" y="16.4" width="2.1" height="2.1" fill="#e03030"/><rect x="51.4" y="16.4" width="2.1" height="2.1" fill="#c0c0c0"/><rect x="53.5" y="16.4" width="2.1" height="2.1" fill="#60f060"/><rect x="55.6" y="16.4" width="2.1" height="2.1" fill="#f06080"/><rect x="57.7" y="16.4" width="2.1" height="2.1" fill="#c0c0c0"/><rect x="59.8" y="16.4" width="2.1" height="2.1" fill="#e040c0"/><rect x="61.9" y="16.4" width="2.1" height="2.1" fill="#40a060"/><rect x="66.1" y="16.4" width="2.1" height="2.1" fill="#60f060"/><rect x="68.2" y="16.4" width="2.1" height="2.1" fill="#f06080"/><rect x="70.3" y="16.4" width="2.1" height="2.1" fill="#40a060"/><rect x="72.4" y="16.4" width="2.1" height="2.1" fill="#30c030"/><rect x="74.5" y="16.4" width="2.1" height="2.1" fill="#e0e040"/><rect x="78.7" y="16.4" width="2.1" height="2.1" fill="#60f060"/><rect x="80.8" y="16.4" width="2.1" height="2.1" fill="#40e0e0"/><rect x="82.9" y="16.4" width="2.1" height="2.1" fill="#3050e0"/><rect x="85" y="16.4" width="1.7" height="2.1" fill="#8040e0"/><rect x="1" y="18.5" width="2.1" height="0.9" fill="#f06080"/><rect x="3.1" y="18.5" width="2.1" height="0.9" fill="#e040c0"/><rect x="5.2" y="18.5" width="2.1" height="0.9" fill="#40e0e0"/><rect x="7.3" y="18.5" width="2.1" height="0.9" fill="#e03030"/><rect x="11.5" y="18.5" width="2.1" height="0.9" fill="#e0e040"/><rect x="13.6" y="18.5" width="2.1" height="0.9" fill="#c0c0c0"/><rect x="15.7" y="18.5" width="2.1" height="0.9" fill="#a02040"/><rect x="17.8" y="18.5" width="2.1" height="0.9" fill="#e0e040"/><rect x="19.9" y="18.5" width="2.1" height="0.9" fill="#40e0e0"/><rect x="22" y="18.5" width="2.1" height="0.9" fill="#f06080"/><rect x="24.1" y="18.5" width="2.1" height="0.9" fill="#8040e0"/><rect x="28.3" y="18.5" width="2.1" height="0.9" fill="#40e0e0"/><rect x="30.4" y="18.5" width="2.1" height="0.9" fill="#3050e0"/><rect x="32.5" y="18.5" width="2.1" height="0.9" fill="#60f060"/><rect x="36.7" y="18.5" width="2.1" height="0.9" fill="#e0e040"/><rect x="38.8" y="18.5" width="2.1" height="0.9" fill="#60f060"/><rect x="40.9" y="18.5" width="2.1" height="0.9" fill="#e0e040"/><rect x="43" y="18.5" width="2.1" height="0.9" fill="#e0e040"/><rect x="45.1" y="18.5" width="2.1" height="0.9" fill="#a02040"/><rect x="47.2" y="18.5" width="2.1" height="0.9" fill="#2080f0"/><rect x="49.3" y="18.5" width="2.1" height="0.9" fill="#a02040"/><rect x="53.5" y="18.5" width="2.1" height="0.9" fill="#e0e040"/><rect x="55.6" y="18.5" width="2.1" height="0.9" fill="#e03030"/><rect x="57.7" y="18.5" width="2.1" height="0.9" fill="#e0e040"/><rect x="59.8" y="18.5" width="2.1" height="0.9" fill="#40a060"/><rect x="61.9" y="18.5" width="2.1" height="0.9" fill="#e0e040"/><rect x="64" y="18.5" width="2.1" height="0.9" fill="#c0c0c0"/><rect x="68.2" y="18.5" width="2.1" height="0.9" fill="#3050e0"/><rect x="70.3" y="18.5" width="2.1" height="0.9" fill="#e0e040"/><rect x="74.5" y="18.5" width="2.1" height="0.9" fill="#3050e0"/><rect x="76.6" y="18.5" width="2.1" height="0.9" fill="#40a060"/><rect x="78.7" y="18.5" width="2.1" height="0.9" fill="#c0c0c0"/><rect x="80.8" y="18.5" width="2.1" height="0.9" fill="#f06080"/><rect x="82.9" y="18.5" width="2.1" height="0.9" fill="#2080f0"/>
<rect x="78.2" y="28.4" width="2.2" height="2.2" fill="#40a060"/><rect x="80.4" y="28.4" width="2.2" height="2.2" fill="#e03030"/><rect x="82.6" y="28.4" width="2.2" height="2.2" fill="#f06080"/><rect x="84.8" y="28.4" width="1.9" height="2.2" fill="#2080f0"/><rect x="78.2" y="30.6" width="2.2" height="2.2" fill="#8040e0"/><rect x="82.6" y="30.6" width="2.2" height="2.2" fill="#30c030"/><rect x="84.8" y="30.6" width="1.9" height="2.2" fill="#e040c0"/><rect x="78.2" y="32.8" width="2.2" height="2.2" fill="#e0e040"/><rect x="80.4" y="32.8" width="2.2" height="2.2" fill="#f06080"/><rect x="82.6" y="32.8" width="2.2" height="2.2" fill="#e0e040"/><rect x="84.8" y="32.8" width="1.9" height="2.2" fill="#40e0e0"/><rect x="78.2" y="35" width="2.2" height="2.2" fill="#c0c0c0"/><rect x="80.4" y="35" width="2.2" height="2.2" fill="#e03030"/><rect x="82.6" y="35" width="2.2" height="2.2" fill="#40e0e0"/><rect x="84.8" y="35" width="1.9" height="2.2" fill="#f06080"/><rect x="78.2" y="37.2" width="2.2" height="2.2" fill="#3050e0"/><rect x="80.4" y="37.2" width="2.2" height="2.2" fill="#2080f0"/><rect x="82.6" y="37.2" width="2.2" height="2.2" fill="#3050e0"/><rect x="84.8" y="37.2" width="1.9" height="2.2" fill="#e040c0"/><rect x="80.4" y="39.4" width="2.2" height="2.2" fill="#2080f0"/><rect x="82.6" y="39.4" width="2.2" height="2.2" fill="#f06080"/><rect x="84.8" y="39.4" width="1.9" height="2.2" fill="#e0e040"/><rect x="78.2" y="41.6" width="2.2" height="2.2" fill="#f08030"/><rect x="80.4" y="41.6" width="2.2" height="2.2" fill="#8040e0"/><rect x="82.6" y="41.6" width="2.2" height="2.2" fill="#f08030"/><rect x="84.8" y="41.6" width="1.9" height="2.2" fill="#3050e0"/><rect x="78.2" y="43.8" width="2.2" height="2.2" fill="#40e0e0"/><rect x="80.4" y="43.8" width="2.2" height="2.2" fill="#e0e040"/><rect x="82.6" y="43.8" width="2.2" height="2.2" fill="#40e0e0"/><rect x="84.8" y="43.8" width="1.9" height="2.2" fill="#27260f"/><rect x="78.2" y="46" width="2.2" height="2.2" fill="#40a060"/><rect x="80.4" y="46" width="2.2" height="2.2" fill="#60f060"/><rect x="82.6" y="46" width="2.2" height="2.2" fill="#a02040"/><rect x="84.8" y="46" width="1.9" height="2.2" fill="#40a060"/><rect x="78.2" y="48.2" width="2.2" height="2.2" fill="#40e0e0"/><rect x="80.4" y="48.2" width="2.2" height="2.2" fill="#60f060"/><rect x="82.6" y="48.2" width="2.2" height="2.2" fill="#c0c0c0"/><rect x="84.8" y="48.2" width="1.9" height="2.2" fill="#081d12"/><rect x="78.2" y="50.4" width="2.2" height="2.2" fill="#40e0e0"/><rect x="80.4" y="50.4" width="2.2" height="2.2" fill="#162125"/><rect x="82.6" y="50.4" width="2.2" height="2.2" fill="#232706"/><rect x="84.8" y="50.4" width="1.9" height="2.2" fill="#e03030"/><rect x="78.2" y="52.6" width="2.2" height="2.2" fill="#f06080"/><rect x="80.4" y="52.6" width="2.2" height="2.2" fill="#2080f0"/><rect x="82.6" y="52.6" width="2.2" height="2.2" fill="#40a060"/><rect x="84.8" y="52.6" width="1.9" height="2.2" fill="#40a060"/><rect x="78.2" y="54.8" width="2.2" height="2.2" fill="#8040e0"/><rect x="80.4" y="54.8" width="2.2" height="2.2" fill="#40a060"/><rect x="82.6" y="54.8" width="2.2" height="2.2" fill="#f06080"/><rect x="84.8" y="54.8" width="1.9" height="2.2" fill="#40e0e0"/><rect x="78.2" y="57" width="2.2" height="2.2" fill="#60f060"/><rect x="80.4" y="57" width="2.2" height="2.2" fill="#60f060"/><rect x="82.6" y="57" width="2.2" height="2.2" fill="#a02040"/><rect x="84.8" y="57" width="1.9" height="2.2" fill="#40e0e0"/><rect x="78.2" y="59.2" width="2.2" height="2.2" fill="#2080f0"/><rect x="80.4" y="59.2" width="2.2" height="2.2" fill="#f08030"/><rect x="78.2" y="61.4" width="2.2" height="2.2" fill="#071827"/><rect x="80.4" y="61.4" width="2.2" height="2.2" fill="#c0c0c0"/><rect x="82.6" y="61.4" width="2.2" height="2.2" fill="#c0c0c0"/><rect x="84.8" y="61.4" width="1.9" height="2.2" fill="#f06080"/><rect x="78.2" y="63.6" width="2.2" height="2.2" fill="#30c030"/><rect x="80.4" y="63.6" width="2.2" height="2.2" fill="#063418"/><rect x="82.6" y="63.6" width="2.2" height="2.2" fill="#f06080"/><rect x="84.8" y="63.6" width="1.9" height="2.2" fill="#f06080"/><rect x="78.2" y="65.8" width="2.2" height="2.2" fill="#e0e040"/><rect x="80.4" y="65.8" width="2.2" height="2.2" fill="#e0e040"/><rect x="82.6" y="65.8" width="2.2" height="2.2" fill="#e03030"/><rect x="84.8" y="65.8" width="1.9" height="2.2" fill="#f06080"/><rect x="78.2" y="68" width="2.2" height="2.2" fill="#60f060"/><rect x="80.4" y="68" width="2.2" height="2.2" fill="#30c030"/><rect x="82.6" y="68" width="2.2" height="2.2" fill="#a02040"/><rect x="84.8" y="68" width="1.9" height="2.2" fill="#a02040"/><rect x="78.2" y="70.2" width="2.2" height="2.2" fill="#c0c0c0"/><rect x="80.4" y="70.2" width="2.2" height="2.2" fill="#e03030"/><rect x="82.6" y="70.2" width="2.2" height="2.2" fill="#2080f0"/><rect x="84.8" y="70.2" width="1.9" height="2.2" fill="#60f060"/><rect x="78.2" y="72.4" width="2.2" height="2.2" fill="#8040e0"/><rect x="80.4" y="72.4" width="2.2" height="2.2" fill="#a02040"/><rect x="82.6" y="72.4" width="2.2" height="2.2" fill="#f08030"/><rect x="84.8" y="72.4" width="1.9" height="2.2" fill="#f08030"/><rect x="78.2" y="74.6" width="2.2" height="2.2" fill="#30c030"/><rect x="80.4" y="74.6" width="2.2" height="2.2" fill="#8040e0"/><rect x="82.6" y="74.6" width="2.2" height="2.2" fill="#f06080"/><rect x="84.8" y="74.6" width="1.9" height="2.2" fill="#40e0e0"/><rect x="78.2" y="76.8" width="2.2" height="2.2" fill="#e0e040"/><rect x="80.4" y="76.8" width="2.2" height="2.2" fill="#c0c0c0"/><rect x="82.6" y="76.8" width="2.2" height="2.2" fill="#a02040"/><rect x="84.8" y="76.8" width="1.9" height="2.2" fill="#e0e040"/><rect x="78.2" y="79" width="2.2" height="2.2" fill="#f06080"/><rect x="80.4" y="79" width="2.2" height="2.2" fill="#30c030"/><rect x="82.6" y="79" width="2.2" height="2.2" fill="#0c1602"/><rect x="84.8" y="79" width="1.9" height="2.2" fill="#2080f0"/><rect x="78.2" y="81.2" width="2.2" height="2.2" fill="#1e1d27"/><rect x="80.4" y="81.2" width="2.2" height="2.2" fill="#8040e0"/><rect x="82.6" y="81.2" width="2.2" height="2.2" fill="#3050e0"/><rect x="84.8" y="81.2" width="1.9" height="2.2" fill="#40a060"/><rect x="78.2" y="83.4" width="2.2" height="2.2" fill="#40e0e0"/><rect x="80.4" y="83.4" width="2.2" height="2.2" fill="#a02040"/><rect x="82.6" y="83.4" width="2.2" height="2.2" fill="#8040e0"/><rect x="84.8" y="83.4" width="1.9" height="2.2" fill="#a02040"/><rect x="78.2" y="85.6" width="2.2" height="2.2" fill="#c0c0c0"/><rect x="80.4" y="85.6" width="2.2" height="2.2" fill="#40a060"/><rect x="82.6" y="85.6" width="2.2" height="2.2" fill="#2080f0"/><rect x="84.8" y="85.6" width="1.9" height="2.2" fill="#e040c0"/><rect x="78.2" y="87.8" width="2.2" height="2.2" fill="#e040c0"/><rect x="80.4" y="87.8" width="2.2" height="2.2" fill="#2080f0"/><rect x="82.6" y="87.8" width="2.2" height="2.2" fill="#c0c0c0"/><rect x="84.8" y="87.8" width="1.9" height="2.2" fill="#8040e0"/><rect x="78.2" y="90" width="2.2" height="2.2" fill="#c0c0c0"/><rect x="80.4" y="90" width="2.2" height="2.2" fill="#3050e0"/><rect x="82.6" y="90" width="2.2" height="2.2" fill="#2080f0"/><rect x="84.8" y="90" width="1.9" height="2.2" fill="#40e0e0"/><rect x="78.2" y="92.2" width="2.2" height="2.2" fill="#a02040"/><rect x="80.4" y="92.2" width="2.2" height="2.2" fill="#e03030"/><rect x="82.6" y="92.2" width="2.2" height="2.2" fill="#60f060"/><rect x="84.8" y="92.2" width="1.9" height="2.2" fill="#c0c0c0"/><rect x="78.2" y="94.4" width="2.2" height="2.2" fill="#8040e0"/><rect x="80.4" y="94.4" width="2.2" height="2.2" fill="#2080f0"/><rect x="82.6" y="94.4" width="2.2" height="2.2" fill="#193c03"/><rect x="84.8" y="94.4" width="1.9" height="2.2" fill="#8040e0"/><rect x="78.2" y="96.6" width="2.2" height="2.2" fill="#02160b"/><rect x="80.4" y="96.6" width="2.2" height="2.2" fill="#e040c0"/><rect x="82.6" y="96.6" width="2.2" height="2.2" fill="#e0e040"/><rect x="84.8" y="96.6" width="1.9" height="2.2" fill="#3050e0"/><rect x="78.2" y="98.8" width="2.2" height="2.2" fill="#e040c0"/><rect x="80.4" y="98.8" width="2.2" height="2.2" fill="#e0e040"/><rect x="82.6" y="98.8" width="2.2" height="2.2" fill="#f08030"/><rect x="84.8" y="98.8" width="1.9" height="2.2" fill="#e03030"/><rect x="78.2" y="101" width="2.2" height="2.2" fill="#8040e0"/><rect x="80.4" y="101" width="2.2" height="2.2" fill="#60f060"/><rect x="82.6" y="101" width="2.2" height="2.2" fill="#30c030"/><rect x="84.8" y="101" width="1.9" height="2.2" fill="#f08030"/><rect x="78.2" y="103.2" width="2.2" height="2.2" fill="#30c030"/><rect x="80.4" y="103.2" width="2.2" height="2.2" fill="#a02040"/><rect x="82.6" y="103.2" width="2.2" height="2.2" fill="#e040c0"/><rect x="84.8" y="103.2" width="1.9" height="2.2" fill="#e040c0"/><rect x="78.2" y="105.4" width="2.2" height="2.2" fill="#40e0e0"/><rect x="80.4" y="105.4" width="2.2" height="2.2" fill="#30c030"/><rect x="82.6" y="105.4" width="2.2" height="2.2" fill="#a02040"/><rect x="84.8" y="105.4" width="1.9" height="2.2" fill="#123308"/><rect x="78.2" y="107.6" width="2.2" height="2.2" fill="#40a060"/><rect x="80.4" y="107.6" width="2.2" height="2.2" fill="#e03030"/><rect x="82.6" y="107.6" width="2.2" height="2.2" fill="#40e0e0"/><rect x="84.8" y="107.6" width="1.9" height="2.2" fill="#60f060"/><rect x="78.2" y="109.8" width="2.2" height="2.2" fill="#3050e0"/><rect x="80.4" y="109.8" width="2.2" height="2.2" fill="#e0e040"/><rect x="82.6" y="109.8" width="2.2" height="2.2" fill="#a02040"/><rect x="84.8" y="109.8" width="1.9" height="2.2" fill="#070d08"/><rect x="78.2" y="112" width="2.2" height="2.2" fill="#40e0e0"/><rect x="80.4" y="112" width="2.2" height="2.2" fill="#e040c0"/><rect x="82.6" y="112" width="2.2" height="2.2" fill="#e040c0"/><rect x="84.8" y="112" width="1.9" height="2.2" fill="#25310a"/><rect x="78.2" y="114.2" width="2.2" height="2.2" fill="#60f060"/><rect x="80.4" y="114.2" width="2.2" height="2.2" fill="#3050e0"/><rect x="82.6" y="114.2" width="2.2" height="2.2" fill="#a02040"/><rect x="84.8" y="114.2" width="1.9" height="2.2" fill="#8040e0"/><rect x="78.2" y="116.4" width="2.2" height="2.2" fill="#f08030"/><rect x="80.4" y="116.4" width="2.2" height="2.2" fill="#0a2c1e"/><rect x="84.8" y="116.4" width="1.9" height="2.2" fill="#40a060"/><rect x="78.2" y="118.6" width="2.2" height="2.2" fill="#e040c0"/><rect x="82.6" y="118.6" width="2.2" height="2.2" fill="#8040e0"/><rect x="84.8" y="118.6" width="1.9" height="2.2" fill="#8040e0"/><rect x="78.2" y="120.8" width="2.2" height="2.2" fill="#e040c0"/><rect x="80.4" y="120.8" width="2.2" height="2.2" fill="#a02040"/><rect x="82.6" y="120.8" width="2.2" height="2.2" fill="#e0e040"/><rect x="84.8" y="120.8" width="1.9" height="2.2" fill="#2080f0"/><rect x="78.2" y="123" width="2.2" height="2.2" fill="#f06080"/><rect x="80.4" y="123" width="2.2" height="2.2" fill="#3050e0"/><rect x="82.6" y="123" width="2.2" height="2.2" fill="#e03030"/><rect x="84.8" y="123" width="1.9" height="2.2" fill="#a02040"/><rect x="78.2" y="125.2" width="2.2" height="2.2" fill="#e040c0"/><rect x="80.4" y="125.2" width="2.2" height="2.2" fill="#8040e0"/><rect x="82.6" y="125.2" width="2.2" height="2.2" fill="#f06080"/><rect x="84.8" y="125.2" width="1.9" height="2.2" fill="#c0c0c0"/><rect x="78.2" y="127.4" width="2.2" height="2.2" fill="#f06080"/><rect x="80.4" y="127.4" width="2.2" height="2.2" fill="#e03030"/><rect x="82.6" y="127.4" width="2.2" height="2.2" fill="#132a18"/><rect x="84.8" y="127.4" width="1.9" height="2.2" fill="#c0c0c0"/><rect x="78.2" y="129.6" width="2.2" height="2.2" fill="#40a060"/><rect x="80.4" y="129.6" width="2.2" height="2.2" fill="#60f060"/><rect x="82.6" y="129.6" width="2.2" height="2.2" fill="#a02040"/><rect x="84.8" y="129.6" width="1.9" height="2.2" fill="#e03030"/><rect x="78.2" y="131.8" width="2.2" height="2.2" fill="#40e0e0"/><rect x="80.4" y="131.8" width="2.2" height="2.2" fill="#163125"/><rect x="82.6" y="131.8" width="2.2" height="2.2" fill="#f08030"/><rect x="84.8" y="131.8" width="1.9" height="2.2" fill="#40e0e0"/><rect x="78.2" y="134" width="2.2" height="2.2" fill="#e03030"/><rect x="80.4" y="134" width="2.2" height="2.2" fill="#40e0e0"/><rect x="82.6" y="134" width="2.2" height="2.2" fill="#40a060"/><rect x="84.8" y="134" width="1.9" height="2.2" fill="#60f060"/><rect x="78.2" y="136.2" width="2.2" height="2.2" fill="#30c030"/><rect x="80.4" y="136.2" width="2.2" height="2.2" fill="#60f060"/><rect x="82.6" y="136.2" width="2.2" height="2.2" fill="#2080f0"/><rect x="84.8" y="136.2" width="1.9" height="2.2" fill="#2080f0"/><rect x="78.2" y="138.4" width="2.2" height="2.2" fill="#2080f0"/><rect x="80.4" y="138.4" width="2.2" height="2.2" fill="#30c030"/><rect x="82.6" y="138.4" width="2.2" height="2.2" fill="#c0c0c0"/><rect x="84.8" y="138.4" width="1.9" height="2.2" fill="#30c030"/><rect x="78.2" y="140.6" width="2.2" height="2.2" fill="#40e0e0"/><rect x="80.4" y="140.6" width="2.2" height="2.2" fill="#3050e0"/><rect x="82.6" y="140.6" width="2.2" height="2.2" fill="#3050e0"/><rect x="84.8" y="140.6" width="1.9" height="2.2" fill="#f06080"/><rect x="78.2" y="142.8" width="2.2" height="2.2" fill="#60f060"/><rect x="80.4" y="142.8" width="2.2" height="2.2" fill="#f08030"/><rect x="82.6" y="142.8" width="2.2" height="2.2" fill="#e040c0"/><rect x="84.8" y="142.8" width="1.9" height="2.2" fill="#f06080"/><rect x="78.2" y="145" width="2.2" height="2.2" fill="#f08030"/><rect x="80.4" y="145" width="2.2" height="2.2" fill="#f06080"/><rect x="82.6" y="145" width="2.2" height="2.2" fill="#f08030"/><rect x="84.8" y="145" width="1.9" height="2.2" fill="#2080f0"/><rect x="78.2" y="147.2" width="2.2" height="2.2" fill="#30c030"/><rect x="80.4" y="147.2" width="2.2" height="2.2" fill="#40a060"/><rect x="82.6" y="147.2" width="2.2" height="2.2" fill="#e040c0"/><rect x="84.8" y="147.2" width="1.9" height="2.2" fill="#e040c0"/><rect x="78.2" y="149.4" width="2.2" height="1.1" fill="#a02040"/><rect x="80.4" y="149.4" width="2.2" height="1.1" fill="#e040c0"/><rect x="82.6" y="149.4" width="2.2" height="1.1" fill="#e0e040"/><rect x="84.8" y="149.4" width="1.9" height="1.1" fill="#30c030"/>
<rect x="57" y="16.4" width="2.2" height="2" fill="#e0e040"/><rect x="59.2" y="16.4" width="2.2" height="2" fill="#c0c0c0"/><rect x="61.4" y="16.4" width="2.2" height="2" fill="#f06080"/><rect x="63.6" y="16.4" width="2.2" height="2" fill="#30c030"/><rect x="65.8" y="16.4" width="2.2" height="2" fill="#e040c0"/><rect x="68" y="16.4" width="2.2" height="2" fill="#8040e0"/><rect x="70.2" y="16.4" width="2.2" height="2" fill="#a02040"/><rect x="72.4" y="16.4" width="2.2" height="2" fill="#60f060"/><rect x="74.6" y="16.4" width="2.2" height="2" fill="#262108"/><rect x="76.8" y="16.4" width="2.2" height="2" fill="#e0e040"/><rect x="79" y="16.4" width="2.2" height="2" fill="#a02040"/><rect x="81.2" y="16.4" width="2.2" height="2" fill="#e03030"/><rect x="83.4" y="16.4" width="2.2" height="2" fill="#e0e040"/><rect x="85.6" y="16.4" width="1.1" height="2" fill="#e0e040"/>
<rect x="58.8" y="18.4" width="2.2" height="2" fill="#8040e0"/><rect x="61" y="18.4" width="2.2" height="2" fill="#30c030"/><rect x="63.2" y="18.4" width="2.2" height="2" fill="#e0e040"/><rect x="65.4" y="18.4" width="2.2" height="2" fill="#f08030"/><rect x="67.6" y="18.4" width="2.2" height="2" fill="#e040c0"/><rect x="69.8" y="18.4" width="2.2" height="2" fill="#3050e0"/><rect x="72" y="18.4" width="2.2" height="2" fill="#8040e0"/><rect x="74.2" y="18.4" width="2.2" height="2" fill="#40a060"/><rect x="76.4" y="18.4" width="2.2" height="2" fill="#30c030"/><rect x="78.6" y="18.4" width="2.2" height="2" fill="#30c030"/><rect x="80.8" y="18.4" width="2.2" height="2" fill="#e0e040"/><rect x="83" y="18.4" width="2.2" height="2" fill="#232718"/><rect x="85.2" y="18.4" width="1.5" height="2" fill="#e040c0"/>
<rect x="60.6" y="20.4" width="2.2" height="2" fill="#e03030"/><rect x="62.8" y="20.4" width="2.2" height="2" fill="#40e0e0"/><rect x="65" y="20.4" width="2.2" height="2" fill="#8040e0"/><rect x="67.2" y="20.4" width="2.2" height="2" fill="#f08030"/><rect x="69.4" y="20.4" width="2.2" height="2" fill="#40a060"/><rect x="71.6" y="20.4" width="2.2" height="2" fill="#2080f0"/><rect x="73.8" y="20.4" width="2.2" height="2" fill="#e040c0"/><rect x="76" y="20.4" width="2.2" height="2" fill="#f08030"/><rect x="78.2" y="20.4" width="2.2" height="2" fill="#f08030"/><rect x="80.4" y="20.4" width="2.2" height="2" fill="#40a060"/><rect x="82.6" y="20.4" width="2.2" height="2" fill="#3050e0"/><rect x="84.8" y="20.4" width="1.9" height="2" fill="#40a060"/>
<rect x="66.8" y="22.4" width="2.2" height="2" fill="#40e0e0"/><rect x="69" y="22.4" width="2.2" height="2" fill="#e03030"/><rect x="71.2" y="22.4" width="2.2" height="2" fill="#3050e0"/><rect x="73.4" y="22.4" width="2.2" height="2" fill="#2080f0"/><rect x="75.6" y="22.4" width="2.2" height="2" fill="#3050e0"/><rect x="77.8" y="22.4" width="2.2" height="2" fill="#1f1e26"/><rect x="80" y="22.4" width="2.2" height="2" fill="#30c030"/><rect x="82.2" y="22.4" width="2.2" height="2" fill="#e03030"/><rect x="84.4" y="22.4" width="2.2" height="2" fill="#30c030"/><rect x="86.6" y="22.4" width="0.1" height="2" fill="#e0e040"/>
<rect x="64.2" y="24.4" width="2.2" height="2" fill="#40e0e0"/><rect x="66.4" y="24.4" width="2.2" height="2" fill="#c0c0c0"/><rect x="68.6" y="24.4" width="2.2" height="2" fill="#30c030"/><rect x="70.8" y="24.4" width="2.2" height="2" fill="#e0e040"/><rect x="73" y="24.4" width="2.2" height="2" fill="#8040e0"/><rect x="77.4" y="24.4" width="2.2" height="2" fill="#40e0e0"/><rect x="79.6" y="24.4" width="2.2" height="2" fill="#18120f"/><rect x="81.8" y="24.4" width="2.2" height="2" fill="#e03030"/><rect x="84" y="24.4" width="2.2" height="2" fill="#e040c0"/><rect x="86.2" y="24.4" width="0.5" height="2" fill="#a02040"/>
<rect x="66" y="26.4" width="2.2" height="2" fill="#e040c0"/><rect x="68.2" y="26.4" width="2.2" height="2" fill="#e0e040"/><rect x="70.4" y="26.4" width="2.2" height="2" fill="#8040e0"/><rect x="72.6" y="26.4" width="2.2" height="2" fill="#e0e040"/><rect x="74.8" y="26.4" width="2.2" height="2" fill="#f06080"/><rect x="77" y="26.4" width="2.2" height="2" fill="#f08030"/><rect x="79.2" y="26.4" width="2.2" height="2" fill="#2080f0"/><rect x="81.4" y="26.4" width="2.2" height="2" fill="#c0c0c0"/><rect x="83.6" y="26.4" width="2.2" height="2" fill="#30c030"/><rect x="85.8" y="26.4" width="0.9" height="2" fill="#60f060"/>
<rect x="67.8" y="28.4" width="2.2" height="2" fill="#8040e0"/><rect x="70" y="28.4" width="2.2" height="2" fill="#f06080"/><rect x="72.2" y="28.4" width="2.2" height="2" fill="#e03030"/><rect x="74.4" y="28.4" width="2.2" height="2" fill="#e0e040"/><rect x="76.6" y="28.4" width="2.2" height="2" fill="#e0e040"/><rect x="78.8" y="28.4" width="2.2" height="2" fill="#a02040"/><rect x="81" y="28.4" width="2.2" height="2" fill="#40e0e0"/><rect x="83.2" y="28.4" width="2.2" height="2" fill="#f08030"/><rect x="85.4" y="28.4" width="1.3" height="2" fill="#c0c0c0"/>
<rect x="69.6" y="30.4" width="2.2" height="2" fill="#8040e0"/><rect x="71.8" y="30.4" width="2.2" height="2" fill="#f06080"/><rect x="74" y="30.4" width="2.2" height="2" fill="#c0c0c0"/><rect x="76.2" y="30.4" width="2.2" height="2" fill="#8040e0"/><rect x="78.4" y="30.4" width="2.2" height="2" fill="#8040e0"/><rect x="80.6" y="30.4" width="2.2" height="2" fill="#e03030"/><rect x="82.8" y="30.4" width="2.2" height="2" fill="#c0c0c0"/><rect x="85" y="30.4" width="1.7" height="2" fill="#f06080"/>
<rect x="71.4" y="32.4" width="2.2" height="2" fill="#30c030"/><rect x="73.6" y="32.4" width="2.2" height="2" fill="#f06080"/><rect x="75.8" y="32.4" width="2.2" height="2" fill="#8040e0"/><rect x="78" y="32.4" width="2.2" height="2" fill="#60f060"/><rect x="80.2" y="32.4" width="2.2" height="2" fill="#2080f0"/><rect x="82.4" y="32.4" width="2.2" height="2" fill="#f08030"/><rect x="84.6" y="32.4" width="2.1" height="2" fill="#40e0e0"/>
<rect x="73.2" y="34.4" width="2.2" height="2" fill="#e0e040"/><rect x="75.4" y="34.4" width="2.2" height="2" fill="#8040e0"/><rect x="77.6" y="34.4" width="2.2" height="2" fill="#40e0e0"/><rect x="79.8" y="34.4" width="2.2" height="2" fill="#8040e0"/><rect x="82" y="34.4" width="2.2" height="2" fill="#30c030"/><rect x="84.2" y="34.4" width="2.2" height="2" fill="#60f060"/><rect x="86.4" y="34.4" width="0.3" height="2" fill="#3050e0"/>
<rect x="75" y="36.4" width="2.2" height="2" fill="#60f060"/><rect x="77.2" y="36.4" width="2.2" height="2" fill="#e03030"/><rect x="79.4" y="36.4" width="2.2" height="2" fill="#8040e0"/><rect x="81.6" y="36.4" width="2.2" height="2" fill="#e040c0"/><rect x="83.8" y="36.4" width="2.2" height="2" fill="#f08030"/><rect x="86" y="36.4" width="0.7" height="2" fill="#e0e040"/>
<g filter="url(#bl1)">
<rect x="68" y="18" width="9" height="9" fill="#f04828" opacity="0.85"/>
<rect x="77" y="22" width="6" height="7" fill="#d040d0" opacity="0.8"/>
<rect x="81" y="44" width="5" height="16" fill="#40e040" opacity="0.8"/>
<rect x="80" y="62" width="6" height="10" fill="#3060e0" opacity="0.7"/>
</g>
<rect x="1" y="143.5" width="1.9" height="1.9" fill="#102516"/><rect x="2.9" y="143.5" width="1.9" height="1.9" fill="#8040e0"/><rect x="4.8" y="143.5" width="1.9" height="1.9" fill="#40a060"/><rect x="6.7" y="143.5" width="1.9" height="1.9" fill="#e0e040"/><rect x="8.6" y="143.5" width="1.9" height="1.9" fill="#40e0e0"/><rect x="10.5" y="143.5" width="1.9" height="1.9" fill="#e03030"/><rect x="12.4" y="143.5" width="1.9" height="1.9" fill="#3050e0"/><rect x="14.3" y="143.5" width="1.9" height="1.9" fill="#40e0e0"/><rect x="16.2" y="143.5" width="1.9" height="1.9" fill="#30c030"/><rect x="18.1" y="143.5" width="1.9" height="1.9" fill="#e0e040"/><rect x="20" y="143.5" width="1.9" height="1.9" fill="#30c030"/><rect x="21.9" y="143.5" width="1.9" height="1.9" fill="#021020"/><rect x="23.8" y="143.5" width="1.9" height="1.9" fill="#30c030"/><rect x="25.7" y="143.5" width="1.9" height="1.9" fill="#242c12"/><rect x="27.6" y="143.5" width="1.9" height="1.9" fill="#e0e040"/><rect x="33.3" y="143.5" width="1.9" height="1.9" fill="#0f1127"/><rect x="35.2" y="143.5" width="1.9" height="1.9" fill="#22221b"/><rect x="37.1" y="143.5" width="1.9" height="1.9" fill="#8040e0"/><rect x="40.9" y="143.5" width="1.9" height="1.9" fill="#60f060"/><rect x="44.7" y="143.5" width="1.9" height="1.9" fill="#3050e0"/><rect x="48.5" y="143.5" width="1.9" height="1.9" fill="#60f060"/><rect x="50.4" y="143.5" width="1.9" height="1.9" fill="#40a060"/><rect x="54.2" y="143.5" width="1.9" height="1.9" fill="#a02040"/><rect x="56.1" y="143.5" width="1.9" height="1.9" fill="#40e0e0"/><rect x="58" y="143.5" width="1.9" height="1.9" fill="#8040e0"/><rect x="59.9" y="143.5" width="1.9" height="1.9" fill="#f06080"/><rect x="61.8" y="143.5" width="1.9" height="1.9" fill="#8040e0"/><rect x="63.7" y="143.5" width="1.9" height="1.9" fill="#30c030"/><rect x="65.6" y="143.5" width="1.9" height="1.9" fill="#e040c0"/><rect x="67.5" y="143.5" width="1.9" height="1.9" fill="#1c1a27"/><rect x="69.4" y="143.5" width="1.9" height="1.9" fill="#a02040"/><rect x="71.3" y="143.5" width="1.9" height="1.9" fill="#251a28"/><rect x="73.2" y="143.5" width="1.9" height="1.9" fill="#23110d"/><rect x="75.1" y="143.5" width="1.9" height="1.9" fill="#f06080"/><rect x="77" y="143.5" width="1.9" height="1.9" fill="#40a060"/><rect x="82.7" y="143.5" width="1.9" height="1.9" fill="#40e0e0"/><rect x="84.6" y="143.5" width="1.9" height="1.9" fill="#f08030"/><rect x="86.5" y="143.5" width="0.2" height="1.9" fill="#40e0e0"/><rect x="1" y="145.4" width="1.9" height="1.9" fill="#c0c0c0"/><rect x="2.9" y="145.4" width="1.9" height="1.9" fill="#3050e0"/><rect x="4.8" y="145.4" width="1.9" height="1.9" fill="#2080f0"/><rect x="6.7" y="145.4" width="1.9" height="1.9" fill="#f06080"/><rect x="8.6" y="145.4" width="1.9" height="1.9" fill="#c0c0c0"/><rect x="10.5" y="145.4" width="1.9" height="1.9" fill="#c0c0c0"/><rect x="12.4" y="145.4" width="1.9" height="1.9" fill="#3050e0"/><rect x="14.3" y="145.4" width="1.9" height="1.9" fill="#60f060"/><rect x="16.2" y="145.4" width="1.9" height="1.9" fill="#40a060"/><rect x="18.1" y="145.4" width="1.9" height="1.9" fill="#e03030"/><rect x="20" y="145.4" width="1.9" height="1.9" fill="#0c140a"/><rect x="23.8" y="145.4" width="1.9" height="1.9" fill="#2080f0"/><rect x="25.7" y="145.4" width="1.9" height="1.9" fill="#40a060"/><rect x="27.6" y="145.4" width="1.9" height="1.9" fill="#e03030"/><rect x="29.5" y="145.4" width="1.9" height="1.9" fill="#30c030"/><rect x="31.4" y="145.4" width="1.9" height="1.9" fill="#f08030"/><rect x="33.3" y="145.4" width="1.9" height="1.9" fill="#30c030"/><rect x="35.2" y="145.4" width="1.9" height="1.9" fill="#a02040"/><rect x="37.1" y="145.4" width="1.9" height="1.9" fill="#c0c0c0"/><rect x="39" y="145.4" width="1.9" height="1.9" fill="#40a060"/><rect x="40.9" y="145.4" width="1.9" height="1.9" fill="#8040e0"/><rect x="42.8" y="145.4" width="1.9" height="1.9" fill="#30c030"/><rect x="44.7" y="145.4" width="1.9" height="1.9" fill="#a02040"/><rect x="46.6" y="145.4" width="1.9" height="1.9" fill="#30c030"/><rect x="48.5" y="145.4" width="1.9" height="1.9" fill="#a02040"/><rect x="50.4" y="145.4" width="1.9" height="1.9" fill="#f06080"/><rect x="52.3" y="145.4" width="1.9" height="1.9" fill="#40a060"/><rect x="56.1" y="145.4" width="1.9" height="1.9" fill="#8040e0"/><rect x="59.9" y="145.4" width="1.9" height="1.9" fill="#151606"/><rect x="61.8" y="145.4" width="1.9" height="1.9" fill="#3050e0"/><rect x="63.7" y="145.4" width="1.9" height="1.9" fill="#1b0d13"/><rect x="65.6" y="145.4" width="1.9" height="1.9" fill="#f08030"/><rect x="67.5" y="145.4" width="1.9" height="1.9" fill="#f08030"/><rect x="69.4" y="145.4" width="1.9" height="1.9" fill="#f08030"/><rect x="73.2" y="145.4" width="1.9" height="1.9" fill="#40e0e0"/><rect x="75.1" y="145.4" width="1.9" height="1.9" fill="#c0c0c0"/><rect x="77" y="145.4" width="1.9" height="1.9" fill="#40e0e0"/><rect x="78.9" y="145.4" width="1.9" height="1.9" fill="#f08030"/><rect x="80.8" y="145.4" width="1.9" height="1.9" fill="#2080f0"/><rect x="84.6" y="145.4" width="1.9" height="1.9" fill="#c0c0c0"/><rect x="86.5" y="145.4" width="0.2" height="1.9" fill="#142f10"/><rect x="1" y="147.3" width="1.9" height="1.9" fill="#e03030"/><rect x="2.9" y="147.3" width="1.9" height="1.9" fill="#40a060"/><rect x="4.8" y="147.3" width="1.9" height="1.9" fill="#c0c0c0"/><rect x="6.7" y="147.3" width="1.9" height="1.9" fill="#3050e0"/><rect x="8.6" y="147.3" width="1.9" height="1.9" fill="#22131b"/><rect x="12.4" y="147.3" width="1.9" height="1.9" fill="#8040e0"/><rect x="16.2" y="147.3" width="1.9" height="1.9" fill="#30c030"/><rect x="18.1" y="147.3" width="1.9" height="1.9" fill="#e03030"/><rect x="20" y="147.3" width="1.9" height="1.9" fill="#8040e0"/><rect x="21.9" y="147.3" width="1.9" height="1.9" fill="#e0e040"/><rect x="23.8" y="147.3" width="1.9" height="1.9" fill="#3050e0"/><rect x="25.7" y="147.3" width="1.9" height="1.9" fill="#40a060"/><rect x="27.6" y="147.3" width="1.9" height="1.9" fill="#30c030"/><rect x="29.5" y="147.3" width="1.9" height="1.9" fill="#22280e"/><rect x="31.4" y="147.3" width="1.9" height="1.9" fill="#e0e040"/><rect x="33.3" y="147.3" width="1.9" height="1.9" fill="#f08030"/><rect x="35.2" y="147.3" width="1.9" height="1.9" fill="#a02040"/><rect x="37.1" y="147.3" width="1.9" height="1.9" fill="#2080f0"/><rect x="39" y="147.3" width="1.9" height="1.9" fill="#30c030"/><rect x="40.9" y="147.3" width="1.9" height="1.9" fill="#2080f0"/><rect x="42.8" y="147.3" width="1.9" height="1.9" fill="#20280d"/><rect x="44.7" y="147.3" width="1.9" height="1.9" fill="#11311c"/><rect x="46.6" y="147.3" width="1.9" height="1.9" fill="#60f060"/><rect x="48.5" y="147.3" width="1.9" height="1.9" fill="#30c030"/><rect x="50.4" y="147.3" width="1.9" height="1.9" fill="#181c1a"/><rect x="52.3" y="147.3" width="1.9" height="1.9" fill="#f08030"/><rect x="54.2" y="147.3" width="1.9" height="1.9" fill="#e040c0"/><rect x="56.1" y="147.3" width="1.9" height="1.9" fill="#14101f"/><rect x="58" y="147.3" width="1.9" height="1.9" fill="#8040e0"/><rect x="59.9" y="147.3" width="1.9" height="1.9" fill="#f06080"/><rect x="61.8" y="147.3" width="1.9" height="1.9" fill="#40e0e0"/><rect x="63.7" y="147.3" width="1.9" height="1.9" fill="#60f060"/><rect x="65.6" y="147.3" width="1.9" height="1.9" fill="#40a060"/><rect x="67.5" y="147.3" width="1.9" height="1.9" fill="#f08030"/><rect x="69.4" y="147.3" width="1.9" height="1.9" fill="#f08030"/><rect x="73.2" y="147.3" width="1.9" height="1.9" fill="#140c13"/><rect x="75.1" y="147.3" width="1.9" height="1.9" fill="#f06080"/><rect x="77" y="147.3" width="1.9" height="1.9" fill="#093813"/><rect x="78.9" y="147.3" width="1.9" height="1.9" fill="#030e05"/><rect x="80.8" y="147.3" width="1.9" height="1.9" fill="#f08030"/><rect x="82.7" y="147.3" width="1.9" height="1.9" fill="#1d1c0a"/><rect x="84.6" y="147.3" width="1.9" height="1.9" fill="#60f060"/><rect x="86.5" y="147.3" width="0.2" height="1.9" fill="#8040e0"/><rect x="1" y="149.2" width="1.9" height="1.3" fill="#3050e0"/><rect x="2.9" y="149.2" width="1.9" height="1.3" fill="#40a060"/><rect x="4.8" y="149.2" width="1.9" height="1.3" fill="#112115"/><rect x="10.5" y="149.2" width="1.9" height="1.3" fill="#40e0e0"/><rect x="12.4" y="149.2" width="1.9" height="1.3" fill="#c0c0c0"/><rect x="14.3" y="149.2" width="1.9" height="1.3" fill="#3050e0"/><rect x="16.2" y="149.2" width="1.9" height="1.3" fill="#2080f0"/><rect x="18.1" y="149.2" width="1.9" height="1.3" fill="#f06080"/><rect x="20" y="149.2" width="1.9" height="1.3" fill="#60f060"/><rect x="21.9" y="149.2" width="1.9" height="1.3" fill="#e03030"/><rect x="23.8" y="149.2" width="1.9" height="1.3" fill="#19191f"/><rect x="27.6" y="149.2" width="1.9" height="1.3" fill="#073b23"/><rect x="29.5" y="149.2" width="1.9" height="1.3" fill="#f06080"/><rect x="31.4" y="149.2" width="1.9" height="1.3" fill="#e03030"/><rect x="33.3" y="149.2" width="1.9" height="1.3" fill="#40e0e0"/><rect x="35.2" y="149.2" width="1.9" height="1.3" fill="#e040c0"/><rect x="39" y="149.2" width="1.9" height="1.3" fill="#e0e040"/><rect x="40.9" y="149.2" width="1.9" height="1.3" fill="#073a0c"/><rect x="42.8" y="149.2" width="1.9" height="1.3" fill="#30c030"/><rect x="44.7" y="149.2" width="1.9" height="1.3" fill="#073b25"/><rect x="48.5" y="149.2" width="1.9" height="1.3" fill="#40e0e0"/><rect x="50.4" y="149.2" width="1.9" height="1.3" fill="#40e0e0"/><rect x="52.3" y="149.2" width="1.9" height="1.3" fill="#1f0a13"/><rect x="54.2" y="149.2" width="1.9" height="1.3" fill="#e03030"/><rect x="56.1" y="149.2" width="1.9" height="1.3" fill="#60f060"/><rect x="58" y="149.2" width="1.9" height="1.3" fill="#30c030"/><rect x="59.9" y="149.2" width="1.9" height="1.3" fill="#100a1d"/><rect x="61.8" y="149.2" width="1.9" height="1.3" fill="#e040c0"/><rect x="63.7" y="149.2" width="1.9" height="1.3" fill="#f06080"/><rect x="65.6" y="149.2" width="1.9" height="1.3" fill="#c0c0c0"/><rect x="67.5" y="149.2" width="1.9" height="1.3" fill="#60f060"/><rect x="69.4" y="149.2" width="1.9" height="1.3" fill="#2080f0"/><rect x="71.3" y="149.2" width="1.9" height="1.3" fill="#f06080"/><rect x="73.2" y="149.2" width="1.9" height="1.3" fill="#002f25"/><rect x="75.1" y="149.2" width="1.9" height="1.3" fill="#f06080"/><rect x="77" y="149.2" width="1.9" height="1.3" fill="#e040c0"/><rect x="78.9" y="149.2" width="1.9" height="1.3" fill="#e040c0"/><rect x="80.8" y="149.2" width="1.9" height="1.3" fill="#e040c0"/><rect x="82.7" y="149.2" width="1.9" height="1.3" fill="#262f27"/><rect x="84.6" y="149.2" width="1.9" height="1.3" fill="#8040e0"/><rect x="86.5" y="149.2" width="0.2" height="1.3" fill="#40e0e0"/>
<rect x="2.9" y="16.4" width="0.1" height="1.9" fill="#1d2c06"/><rect x="2.9" y="22.1" width="0.1" height="1.9" fill="#0a300a"/><rect x="1" y="29.7" width="1.9" height="1.9" fill="#23320c"/><rect x="2.9" y="33.5" width="0.1" height="1.9" fill="#e040c0"/><rect x="2.9" y="35.4" width="0.1" height="1.9" fill="#110f28"/><rect x="2.9" y="39.2" width="0.1" height="1.9" fill="#11221c"/><rect x="2.9" y="41.1" width="0.1" height="1.9" fill="#09231e"/><rect x="2.9" y="43" width="0.1" height="1.9" fill="#f08030"/><rect x="2.9" y="44.9" width="0.1" height="1.9" fill="#2080f0"/><rect x="1" y="48.7" width="1.9" height="1.9" fill="#27350a"/><rect x="1" y="56.3" width="1.9" height="1.9" fill="#e040c0"/><rect x="1" y="60.1" width="1.9" height="1.9" fill="#8040e0"/><rect x="1" y="67.7" width="1.9" height="1.9" fill="#2080f0"/><rect x="2.9" y="69.6" width="0.1" height="1.9" fill="#e03030"/><rect x="1" y="77.2" width="1.9" height="1.9" fill="#0b1101"/><rect x="2.9" y="88.6" width="0.1" height="1.9" fill="#e0e040"/><rect x="1" y="90.5" width="1.9" height="1.9" fill="#e040c0"/><rect x="2.9" y="90.5" width="0.1" height="1.9" fill="#40e0e0"/><rect x="1" y="96.2" width="1.9" height="1.9" fill="#1e1815"/><rect x="1" y="107.6" width="1.9" height="1.9" fill="#40e0e0"/><rect x="2.9" y="107.6" width="0.1" height="1.9" fill="#40e0e0"/><rect x="1" y="109.5" width="1.9" height="1.9" fill="#40a060"/><rect x="2.9" y="109.5" width="0.1" height="1.9" fill="#092c0e"/><rect x="1" y="113.3" width="1.9" height="1.9" fill="#f08030"/><rect x="1" y="115.2" width="1.9" height="1.9" fill="#60f060"/><rect x="1" y="119" width="1.9" height="1.9" fill="#1d1228"/><rect x="2.9" y="119" width="0.1" height="1.9" fill="#60f060"/><rect x="1" y="124.7" width="1.9" height="1.9" fill="#1e1013"/><rect x="1" y="126.6" width="1.9" height="1.9" fill="#30c030"/><rect x="2.9" y="126.6" width="0.1" height="1.9" fill="#203118"/><rect x="2.9" y="132.3" width="0.1" height="1.9" fill="#073119"/>
</g>
<path d="M13.3 60 L15 57.3 L18 55.9 L24 55.7 L30 55.8 L31.6 57.2 L31.6 58.6 L29.6 60 L27.3 62 L25.5 64.8 L21 66.5 L16 66 L13.6 63.5 Z" fill="none" stroke="#fff" stroke-width="1.1"/>
<path d="M32.5 55.3 L40 58 L50 62 L58 65 L63 68 L64.5 72.5 L63 71 L55 68.5 L45 64.5 L38 62 L33 61.5 L33 58 Z" fill="none" stroke="#fff" stroke-width="1.0"/>
<text x="22.3" y="47.3" font-size="10" font-family="Liberation Sans, sans-serif" fill="#fff" textLength="12.78" lengthAdjust="spacingAndGlyphs">Cg</text>
<rect x="21.4" y="50.6" width="14" height="1.4" fill="#8fd08f"/>
<text x="13.1" y="75.3" font-size="10" font-family="Liberation Sans, sans-serif" fill="#fff" textLength="16.67" lengthAdjust="spacingAndGlyphs">Scc</text>
<text x="38.1" y="75.3" font-size="10" font-family="Liberation Sans, sans-serif" fill="#fff" textLength="16.67" lengthAdjust="spacingAndGlyphs">Bcc</text>
<defs><clipPath id="clB"><rect x="90.2" y="16.2" width="65.8" height="134.8"/></clipPath><filter id="blm" x="-5%" y="-5%" width="110%" height="110%"><feGaussianBlur stdDeviation="0.5 0.7"/></filter></defs>
<g clip-path="url(#clB)"><g filter="url(#blm)" shape-rendering="crispEdges"><rect x="90.2" y="16.2" width="5.53" height="1.85" fill="#be8ece"/><rect x="95.68" y="16.2" width="5.53" height="1.85" fill="#2e174d"/><rect x="101.17" y="16.2" width="5.53" height="1.85" fill="#0e0ebd"/><rect x="106.65" y="16.2" width="5.53" height="1.85" fill="#8bae22"/><rect x="112.13" y="16.2" width="5.53" height="1.85" fill="#38a938"/><rect x="117.62" y="16.2" width="5.53" height="1.85" fill="#30e040"/><rect x="123.1" y="16.2" width="5.53" height="1.85" fill="#34d234"/><rect x="128.58" y="16.2" width="5.53" height="1.85" fill="#c939c9"/><rect x="134.07" y="16.2" width="5.53" height="1.85" fill="#91c2d2"/><rect x="139.55" y="16.2" width="5.53" height="1.85" fill="#9462e6"/><rect x="145.03" y="16.2" width="5.53" height="1.85" fill="#8e80c7"/><rect x="150.52" y="16.2" width="5.53" height="1.85" fill="#7c001f"/><rect x="90.2" y="18" width="5.53" height="4.05" fill="#321032"/><rect x="95.68" y="18" width="5.53" height="4.05" fill="#0f1f0f"/><rect x="101.17" y="18" width="5.53" height="4.05" fill="#433221"/><rect x="106.65" y="18" width="5.53" height="4.05" fill="#589258"/><rect x="112.13" y="18" width="5.53" height="4.05" fill="#1d9559"/><rect x="117.62" y="18" width="5.53" height="4.05" fill="#1d913a"/><rect x="123.1" y="18" width="5.53" height="4.05" fill="#60f040"/><rect x="128.58" y="18" width="5.53" height="4.05" fill="#4669ff"/><rect x="134.07" y="18" width="5.53" height="4.05" fill="#f56241"/><rect x="139.55" y="18" width="5.53" height="4.05" fill="#4488ff"/><rect x="145.03" y="18" width="5.53" height="4.05" fill="#d95d1f"/><rect x="150.52" y="18" width="5.53" height="4.05" fill="#872121"/><rect x="90.2" y="22" width="5.53" height="4.05" fill="#170b22"/><rect x="95.68" y="22" width="5.53" height="4.05" fill="#0c180c"/><rect x="101.17" y="22" width="5.53" height="4.05" fill="#0d1a0d"/><rect x="106.65" y="22" width="5.53" height="4.05" fill="#0d280d"/><rect x="112.13" y="22" width="5.53" height="4.05" fill="#961957"/><rect x="117.62" y="22" width="5.53" height="4.05" fill="#22502e"/><rect x="123.1" y="22" width="5.53" height="4.05" fill="#911830"/><rect x="128.58" y="22" width="5.53" height="4.05" fill="#2f9a2f"/><rect x="134.07" y="22" width="5.53" height="4.05" fill="#0c480c"/><rect x="139.55" y="22" width="5.53" height="4.05" fill="#37c037"/><rect x="145.03" y="22" width="5.53" height="4.05" fill="#762347"/><rect x="150.52" y="22" width="5.53" height="4.05" fill="#c31b37"/><rect x="90.2" y="26" width="5.53" height="4.05" fill="#0d1b37"/><rect x="95.68" y="26" width="5.53" height="4.05" fill="#0b220b"/><rect x="101.17" y="26" width="5.53" height="4.05" fill="#0c180c"/><rect x="106.65" y="26" width="5.53" height="4.05" fill="#330c0c"/><rect x="112.13" y="26" width="5.53" height="4.05" fill="#7c162d"/><rect x="117.62" y="26" width="5.53" height="4.05" fill="#197d32"/><rect x="123.1" y="26" width="5.53" height="4.05" fill="#0e380e"/><rect x="128.58" y="26" width="5.53" height="4.05" fill="#0b2e0b"/><rect x="134.07" y="26" width="5.53" height="4.05" fill="#0d2734"/><rect x="139.55" y="26" width="5.53" height="4.05" fill="#2e2e0b"/><rect x="145.03" y="26" width="5.53" height="4.05" fill="#0d1a34"/><rect x="150.52" y="26" width="5.53" height="4.05" fill="#0e1538"/><rect x="90.2" y="30" width="5.53" height="4.05" fill="#0b1129"/><rect x="95.68" y="30" width="5.53" height="4.05" fill="#0b210b"/><rect x="101.17" y="30" width="5.53" height="4.05" fill="#0b170b"/><rect x="106.65" y="30" width="5.53" height="4.05" fill="#4d1313"/><rect x="112.13" y="30" width="5.53" height="4.05" fill="#650b21"/><rect x="117.62" y="30" width="5.53" height="4.05" fill="#955c17"/><rect x="123.1" y="30" width="5.53" height="4.05" fill="#0c330c"/><rect x="128.58" y="30" width="5.53" height="4.05" fill="#0e380e"/><rect x="134.07" y="30" width="5.53" height="4.05" fill="#0c2532"/><rect x="139.55" y="30" width="5.53" height="4.05" fill="#0c2525"/><rect x="145.03" y="30" width="5.53" height="4.05" fill="#0d1a34"/><rect x="150.52" y="30" width="5.53" height="4.05" fill="#0b112e"/><rect x="90.2" y="34" width="5.53" height="3.05" fill="#0d132d"/><rect x="95.68" y="34" width="5.53" height="3.05" fill="#0b230b"/><rect x="101.17" y="34" width="5.53" height="3.05" fill="#0d270d"/><rect x="106.65" y="34" width="5.53" height="3.05" fill="#470e0e"/><rect x="112.13" y="34" width="5.53" height="3.05" fill="#0b220b"/><rect x="117.62" y="34" width="5.53" height="3.05" fill="#0c3319"/><rect x="123.1" y="34" width="5.53" height="3.05" fill="#0d3b13"/><rect x="128.58" y="34" width="5.53" height="3.05" fill="#0b3a11"/><rect x="134.07" y="34" width="5.53" height="3.05" fill="#0c2430"/><rect x="139.55" y="34" width="5.53" height="3.05" fill="#0e2339"/><rect x="145.03" y="34" width="5.53" height="3.05" fill="#0e2315"/><rect x="150.52" y="34" width="5.53" height="3.05" fill="#0b1122"/><rect x="90.2" y="37" width="5.53" height="3.05" fill="#0d142f"/><rect x="95.68" y="37" width="5.53" height="3.05" fill="#0e2a0e"/><rect x="101.17" y="37" width="5.53" height="3.05" fill="#0b230b"/><rect x="106.65" y="37" width="5.53" height="3.05" fill="#410d0d"/><rect x="112.13" y="37" width="5.53" height="3.05" fill="#0b220b"/><rect x="117.62" y="37" width="5.53" height="3.05" fill="#0c3118"/><rect x="123.1" y="37" width="5.53" height="3.05" fill="#0d3c14"/><rect x="128.58" y="37" width="5.53" height="3.05" fill="#0d4113"/><rect x="134.07" y="37" width="5.53" height="3.05" fill="#0d2836"/><rect x="139.55" y="37" width="5.53" height="3.05" fill="#0b1c2e"/><rect x="145.03" y="37" width="5.53" height="3.05" fill="#0c1e12"/><rect x="150.52" y="37" width="5.53" height="3.05" fill="#0d1429"/><rect x="90.2" y="40" width="5.53" height="3.05" fill="#0d271a"/><rect x="95.68" y="40" width="5.53" height="3.05" fill="#0c250c"/><rect x="101.17" y="40" width="5.53" height="3.05" fill="#0c250c"/><rect x="106.65" y="40" width="5.53" height="3.05" fill="#2a0e0e"/><rect x="112.13" y="40" width="5.53" height="3.05" fill="#0d270d"/><rect x="117.62" y="40" width="5.53" height="3.05" fill="#0b2d16"/><rect x="123.1" y="40" width="5.53" height="3.05" fill="#0d4414"/><rect x="128.58" y="40" width="5.53" height="3.05" fill="#0c4312"/><rect x="134.07" y="40" width="5.53" height="3.05" fill="#0c2c38"/><rect x="139.55" y="40" width="5.53" height="3.05" fill="#0b1d2f"/><rect x="145.03" y="40" width="5.53" height="3.05" fill="#0c1f12"/><rect x="150.52" y="40" width="5.53" height="3.05" fill="#0c1224"/><rect x="90.2" y="43" width="5.53" height="3.05" fill="#0b2217"/><rect x="95.68" y="43" width="5.53" height="3.05" fill="#0d270d"/><rect x="101.17" y="43" width="5.53" height="3.05" fill="#0b220b"/><rect x="106.65" y="43" width="5.53" height="3.05" fill="#290d0d"/><rect x="112.13" y="43" width="5.53" height="3.05" fill="#0b220b"/><rect x="117.62" y="43" width="5.53" height="3.05" fill="#0d361b"/><rect x="123.1" y="43" width="5.53" height="3.05" fill="#0d4414"/><rect x="128.58" y="43" width="5.53" height="3.05" fill="#0c4613"/><rect x="134.07" y="43" width="5.53" height="3.05" fill="#0d2f3c"/><rect x="139.55" y="43" width="5.53" height="3.05" fill="#0c1e30"/><rect x="145.03" y="43" width="5.53" height="3.05" fill="#0d2114"/><rect x="150.52" y="43" width="5.53" height="3.05" fill="#0c1225"/><rect x="90.2" y="46" width="5.53" height="3.05" fill="#3b591d"/><rect x="95.68" y="46" width="5.53" height="3.05" fill="#35b158"/><rect x="101.17" y="46" width="5.53" height="3.05" fill="#2e9c5d"/><rect x="106.65" y="46" width="5.53" height="3.05" fill="#1f5d3e"/><rect x="112.13" y="46" width="5.53" height="3.05" fill="#114534"/><rect x="117.62" y="46" width="5.53" height="3.05" fill="#1e4d2e"/><rect x="123.1" y="46" width="5.53" height="3.05" fill="#31a631"/><rect x="128.58" y="46" width="5.53" height="3.05" fill="#2c932c"/><rect x="134.07" y="46" width="5.53" height="3.05" fill="#45be45"/><rect x="139.55" y="46" width="5.53" height="3.05" fill="#2d962d"/><rect x="145.03" y="46" width="5.53" height="3.05" fill="#1c391c"/><rect x="150.52" y="46" width="5.53" height="3.05" fill="#233511"/><rect x="90.2" y="49" width="5.53" height="3.05" fill="#3a581d"/><rect x="95.68" y="49" width="5.53" height="3.05" fill="#35b158"/><rect x="101.17" y="49" width="5.53" height="3.05" fill="#35b26b"/><rect x="106.65" y="49" width="5.53" height="3.05" fill="#206241"/><rect x="112.13" y="49" width="5.53" height="3.05" fill="#0e382a"/><rect x="117.62" y="49" width="5.53" height="3.05" fill="#1c472a"/><rect x="123.1" y="49" width="5.53" height="3.05" fill="#2c942c"/><rect x="128.58" y="49" width="5.53" height="3.05" fill="#2e9b2e"/><rect x="134.07" y="49" width="5.53" height="3.05" fill="#41b441"/><rect x="139.55" y="49" width="5.53" height="3.05" fill="#35b135"/><rect x="145.03" y="49" width="5.53" height="3.05" fill="#1e3d1e"/><rect x="150.52" y="49" width="5.53" height="3.05" fill="#1d2b0e"/><rect x="90.2" y="52" width="5.53" height="2.55" fill="#302010"/><rect x="95.68" y="52" width="5.53" height="2.55" fill="#83921d"/><rect x="101.17" y="52" width="5.53" height="2.55" fill="#bb732b"/><rect x="106.65" y="52" width="5.53" height="2.55" fill="#208151"/><rect x="112.13" y="52" width="5.53" height="2.55" fill="#105353"/><rect x="117.62" y="52" width="5.53" height="2.55" fill="#0e3939"/><rect x="123.1" y="52" width="5.53" height="2.55" fill="#1f5e2f"/><rect x="128.58" y="52" width="5.53" height="2.55" fill="#43a743"/><rect x="134.07" y="52" width="5.53" height="2.55" fill="#44aa44"/><rect x="139.55" y="52" width="5.53" height="2.55" fill="#2e9b2e"/><rect x="145.03" y="52" width="5.53" height="2.55" fill="#224522"/><rect x="150.52" y="52" width="5.53" height="2.55" fill="#2c1d0e"/><rect x="90.2" y="54.5" width="5.53" height="2.55" fill="#322110"/><rect x="95.68" y="54.5" width="5.53" height="2.55" fill="#99aa22"/><rect x="101.17" y="54.5" width="5.53" height="2.55" fill="#e28b34"/><rect x="106.65" y="54.5" width="5.53" height="2.55" fill="#1f7f4f"/><rect x="112.13" y="54.5" width="5.53" height="2.55" fill="#0e4848"/><rect x="117.62" y="54.5" width="5.53" height="2.55" fill="#0e3939"/><rect x="123.1" y="54.5" width="5.53" height="2.55" fill="#206030"/><rect x="128.58" y="54.5" width="5.53" height="2.55" fill="#3a933a"/><rect x="134.07" y="54.5" width="5.53" height="2.55" fill="#41a441"/><rect x="139.55" y="54.5" width="5.53" height="2.55" fill="#2b902b"/><rect x="145.03" y="54.5" width="5.53" height="2.55" fill="#224422"/><rect x="150.52" y="54.5" width="5.53" height="2.55" fill="#2c1d0e"/><rect x="90.2" y="57" width="5.53" height="2.55" fill="#381c0e"/><rect x="95.68" y="57" width="5.53" height="2.55" fill="#93931d"/><rect x="101.17" y="57" width="5.53" height="2.55" fill="#cd7e2f"/><rect x="106.65" y="57" width="5.53" height="2.55" fill="#e37130"/><rect x="112.13" y="57" width="5.53" height="2.55" fill="#e94d1f"/><rect x="117.62" y="57" width="5.53" height="2.55" fill="#dd1d2c"/><rect x="123.1" y="57" width="5.53" height="2.55" fill="#ee3f1f"/><rect x="128.58" y="57" width="5.53" height="2.55" fill="#f87c23"/><rect x="134.07" y="57" width="5.53" height="2.55" fill="#d1a120"/><rect x="139.55" y="57" width="5.53" height="2.55" fill="#8db023"/><rect x="145.03" y="57" width="5.53" height="2.55" fill="#2a381c"/><rect x="150.52" y="57" width="5.53" height="2.55" fill="#351a1a"/><rect x="90.2" y="59.5" width="5.53" height="2.55" fill="#452211"/><rect x="95.68" y="59.5" width="5.53" height="2.55" fill="#a1a120"/><rect x="101.17" y="59.5" width="5.53" height="2.55" fill="#d18030"/><rect x="106.65" y="59.5" width="5.53" height="2.55" fill="#e17030"/><rect x="112.13" y="59.5" width="5.53" height="2.55" fill="#ff5723"/><rect x="117.62" y="59.5" width="5.53" height="2.55" fill="#d61c2a"/><rect x="123.1" y="59.5" width="5.53" height="2.55" fill="#f84221"/><rect x="128.58" y="59.5" width="5.53" height="2.55" fill="#e27120"/><rect x="134.07" y="59.5" width="5.53" height="2.55" fill="#c6981e"/><rect x="139.55" y="59.5" width="5.53" height="2.55" fill="#86a821"/><rect x="145.03" y="59.5" width="5.53" height="2.55" fill="#324321"/><rect x="150.52" y="59.5" width="5.53" height="2.55" fill="#2b1515"/><rect x="90.2" y="62" width="5.53" height="2.55" fill="#323210"/><rect x="95.68" y="62" width="5.53" height="2.55" fill="#9e9e0f"/><rect x="101.17" y="62" width="5.53" height="2.55" fill="#bf8f1f"/><rect x="106.65" y="62" width="5.53" height="2.55" fill="#e76321"/><rect x="112.13" y="62" width="5.53" height="2.55" fill="#c7391c"/><rect x="117.62" y="62" width="5.53" height="2.55" fill="#a32020"/><rect x="123.1" y="62" width="5.53" height="2.55" fill="#d93e1f"/><rect x="128.58" y="62" width="5.53" height="2.55" fill="#f47a22"/><rect x="134.07" y="62" width="5.53" height="2.55" fill="#c2950e"/><rect x="139.55" y="62" width="5.53" height="2.55" fill="#89ac22"/><rect x="145.03" y="62" width="5.53" height="2.55" fill="#215421"/><rect x="150.52" y="62" width="5.53" height="2.55" fill="#311020"/><rect x="90.2" y="64.5" width="5.53" height="2.55" fill="#343411"/><rect x="95.68" y="64.5" width="5.53" height="2.55" fill="#8e8e0e"/><rect x="101.17" y="64.5" width="5.53" height="2.55" fill="#c49320"/><rect x="106.65" y="64.5" width="5.53" height="2.55" fill="#e66220"/><rect x="112.13" y="64.5" width="5.53" height="2.55" fill="#e94221"/><rect x="117.62" y="64.5" width="5.53" height="2.55" fill="#9c1f1f"/><rect x="123.1" y="64.5" width="5.53" height="2.55" fill="#c8391c"/><rect x="128.58" y="64.5" width="5.53" height="2.55" fill="#cf671d"/><rect x="134.07" y="64.5" width="5.53" height="2.55" fill="#d5a410"/><rect x="139.55" y="64.5" width="5.53" height="2.55" fill="#76931d"/><rect x="145.03" y="64.5" width="5.53" height="2.55" fill="#1c471c"/><rect x="150.52" y="64.5" width="5.53" height="2.55" fill="#2e0f1e"/><rect x="90.2" y="67" width="5.53" height="2.55" fill="#1f1f0f"/><rect x="95.68" y="67" width="5.53" height="2.55" fill="#708110"/><rect x="101.17" y="67" width="5.53" height="2.55" fill="#718d0e"/><rect x="106.65" y="67" width="5.53" height="2.55" fill="#666611"/><rect x="112.13" y="67" width="5.53" height="2.55" fill="#3d1e0f"/><rect x="117.62" y="67" width="5.53" height="2.55" fill="#220a0a"/><rect x="123.1" y="67" width="5.53" height="2.55" fill="#2a1c0e"/><rect x="128.58" y="67" width="5.53" height="2.55" fill="#8d6a11"/><rect x="134.07" y="67" width="5.53" height="2.55" fill="#a3a310"/><rect x="139.55" y="67" width="5.53" height="2.55" fill="#478e23"/><rect x="145.03" y="67" width="5.53" height="2.55" fill="#236b35"/><rect x="150.52" y="67" width="5.53" height="2.55" fill="#221122"/><rect x="90.2" y="69.5" width="5.53" height="2.55" fill="#1c1c0e"/><rect x="95.68" y="69.5" width="5.53" height="2.55" fill="#6b7b0f"/><rect x="101.17" y="69.5" width="5.53" height="2.55" fill="#77950e"/><rect x="106.65" y="69.5" width="5.53" height="2.55" fill="#666611"/><rect x="112.13" y="69.5" width="5.53" height="2.55" fill="#3b1d0e"/><rect x="117.62" y="69.5" width="5.53" height="2.55" fill="#1d0909"/><rect x="123.1" y="69.5" width="5.53" height="2.55" fill="#2b1d0e"/><rect x="128.58" y="69.5" width="5.53" height="2.55" fill="#74570e"/><rect x="134.07" y="69.5" width="5.53" height="2.55" fill="#b0b011"/><rect x="139.55" y="69.5" width="5.53" height="2.55" fill="#478e23"/><rect x="145.03" y="69.5" width="5.53" height="2.55" fill="#1f5d2e"/><rect x="150.52" y="69.5" width="5.53" height="2.55" fill="#211021"/><rect x="90.2" y="72" width="5.53" height="3.05" fill="#0f0f0f"/><rect x="95.68" y="72" width="5.53" height="3.05" fill="#202a10"/><rect x="101.17" y="72" width="5.53" height="3.05" fill="#2e3d0f"/><rect x="106.65" y="72" width="5.53" height="3.05" fill="#213110"/><rect x="112.13" y="72" width="5.53" height="3.05" fill="#0e0e07"/><rect x="117.62" y="72" width="5.53" height="3.05" fill="#0f0f07"/><rect x="123.1" y="72" width="5.53" height="3.05" fill="#102010"/><rect x="128.58" y="72" width="5.53" height="3.05" fill="#0e3b2c"/><rect x="134.07" y="72" width="5.53" height="3.05" fill="#0f5e3f"/><rect x="139.55" y="72" width="5.53" height="3.05" fill="#238d46"/><rect x="145.03" y="72" width="5.53" height="3.05" fill="#0e381c"/><rect x="150.52" y="72" width="5.53" height="3.05" fill="#1c0915"/><rect x="90.2" y="75" width="5.53" height="3.05" fill="#111111"/><rect x="95.68" y="75" width="5.53" height="3.05" fill="#1c250e"/><rect x="101.17" y="75" width="5.53" height="3.05" fill="#2d3c0f"/><rect x="106.65" y="75" width="5.53" height="3.05" fill="#223411"/><rect x="112.13" y="75" width="5.53" height="3.05" fill="#101008"/><rect x="117.62" y="75" width="5.53" height="3.05" fill="#0e0e07"/><rect x="123.1" y="75" width="5.53" height="3.05" fill="#0e1c0e"/><rect x="128.58" y="75" width="5.53" height="3.05" fill="#0f3c2d"/><rect x="134.07" y="75" width="5.53" height="3.05" fill="#0f5b3c"/><rect x="139.55" y="75" width="5.53" height="3.05" fill="#228944"/><rect x="145.03" y="75" width="5.53" height="3.05" fill="#114723"/><rect x="150.52" y="75" width="5.53" height="3.05" fill="#220a19"/><rect x="90.2" y="78" width="5.53" height="3.05" fill="#0e0e0e"/><rect x="95.68" y="78" width="5.53" height="3.05" fill="#080808"/><rect x="101.17" y="78" width="5.53" height="3.05" fill="#0d0d06"/><rect x="106.65" y="78" width="5.53" height="3.05" fill="#0e0e07"/><rect x="112.13" y="78" width="5.53" height="3.05" fill="#080e07"/><rect x="117.62" y="78" width="5.53" height="3.05" fill="#070b05"/><rect x="123.1" y="78" width="5.53" height="3.05" fill="#0c120c"/><rect x="128.58" y="78" width="5.53" height="3.05" fill="#0c180c"/><rect x="134.07" y="78" width="5.53" height="3.05" fill="#0d270d"/><rect x="139.55" y="78" width="5.53" height="3.05" fill="#0c2613"/><rect x="145.03" y="78" width="5.53" height="3.05" fill="#0c180c"/><rect x="150.52" y="78" width="5.53" height="3.05" fill="#1b0814"/><rect x="90.2" y="81" width="5.53" height="3.05" fill="#0c0c0c"/><rect x="95.68" y="81" width="5.53" height="3.05" fill="#070707"/><rect x="101.17" y="81" width="5.53" height="3.05" fill="#0c0c06"/><rect x="106.65" y="81" width="5.53" height="3.05" fill="#0c0c06"/><rect x="112.13" y="81" width="5.53" height="3.05" fill="#080d06"/><rect x="117.62" y="81" width="5.53" height="3.05" fill="#080d06"/><rect x="123.1" y="81" width="5.53" height="3.05" fill="#0c120c"/><rect x="128.58" y="81" width="5.53" height="3.05" fill="#0b170b"/><rect x="134.07" y="81" width="5.53" height="3.05" fill="#0c250c"/><rect x="139.55" y="81" width="5.53" height="3.05" fill="#0c2412"/><rect x="145.03" y="81" width="5.53" height="3.05" fill="#0b170b"/><rect x="150.52" y="81" width="5.53" height="3.05" fill="#190813"/><rect x="90.2" y="84" width="5.53" height="2.72" fill="#230b17"/><rect x="95.68" y="84" width="5.53" height="2.72" fill="#350d0d"/><rect x="101.17" y="84" width="5.53" height="2.72" fill="#420d0d"/><rect x="106.65" y="84" width="5.53" height="2.72" fill="#2e170b"/><rect x="112.13" y="84" width="5.53" height="2.72" fill="#0d0606"/><rect x="117.62" y="84" width="5.53" height="2.72" fill="#0c0c06"/><rect x="123.1" y="84" width="5.53" height="2.72" fill="#12190c"/><rect x="128.58" y="84" width="5.53" height="2.72" fill="#1a200d"/><rect x="134.07" y="84" width="5.53" height="2.72" fill="#441b0d"/><rect x="139.55" y="84" width="5.53" height="2.72" fill="#531b0d"/><rect x="145.03" y="84" width="5.53" height="2.72" fill="#510d0d"/><rect x="150.52" y="84" width="5.53" height="2.72" fill="#2f0b17"/><rect x="90.2" y="86.67" width="5.53" height="2.72" fill="#260c19"/><rect x="95.68" y="86.67" width="5.53" height="2.72" fill="#310c0c"/><rect x="101.17" y="86.67" width="5.53" height="2.72" fill="#380b0b"/><rect x="106.65" y="86.67" width="5.53" height="2.72" fill="#33190c"/><rect x="112.13" y="86.67" width="5.53" height="2.72" fill="#0c0606"/><rect x="117.62" y="86.67" width="5.53" height="2.72" fill="#0d0d06"/><rect x="123.1" y="86.67" width="5.53" height="2.72" fill="#12180c"/><rect x="128.58" y="86.67" width="5.53" height="2.72" fill="#1b220d"/><rect x="134.07" y="86.67" width="5.53" height="2.72" fill="#40190c"/><rect x="139.55" y="86.67" width="5.53" height="2.72" fill="#45170b"/><rect x="145.03" y="86.67" width="5.53" height="2.72" fill="#500d0d"/><rect x="150.52" y="86.67" width="5.53" height="2.72" fill="#300c18"/><rect x="90.2" y="89.33" width="5.53" height="2.72" fill="#260c19"/><rect x="95.68" y="89.33" width="5.53" height="2.72" fill="#2d0b0b"/><rect x="101.17" y="89.33" width="5.53" height="2.72" fill="#380b0b"/><rect x="106.65" y="89.33" width="5.53" height="2.72" fill="#381c0e"/><rect x="112.13" y="89.33" width="5.53" height="2.72" fill="#0b0505"/><rect x="117.62" y="89.33" width="5.53" height="2.72" fill="#0b0b05"/><rect x="123.1" y="89.33" width="5.53" height="2.72" fill="#11170b"/><rect x="128.58" y="89.33" width="5.53" height="2.72" fill="#171c0b"/><rect x="134.07" y="89.33" width="5.53" height="2.72" fill="#441b0d"/><rect x="139.55" y="89.33" width="5.53" height="2.72" fill="#551c0e"/><rect x="145.03" y="89.33" width="5.53" height="2.72" fill="#4f0d0d"/><rect x="150.52" y="89.33" width="5.53" height="2.72" fill="#310c18"/><rect x="90.2" y="92" width="5.53" height="3.05" fill="#290d1b"/><rect x="95.68" y="92" width="5.53" height="3.05" fill="#400c0c"/><rect x="101.17" y="92" width="5.53" height="3.05" fill="#3a0b11"/><rect x="106.65" y="92" width="5.53" height="3.05" fill="#350d0d"/><rect x="112.13" y="92" width="5.53" height="3.05" fill="#4a180c"/><rect x="117.62" y="92" width="5.53" height="3.05" fill="#300c0c"/><rect x="123.1" y="92" width="5.53" height="3.05" fill="#30180c"/><rect x="128.58" y="92" width="5.53" height="3.05" fill="#4a180c"/><rect x="134.07" y="92" width="5.53" height="3.05" fill="#3b0b0b"/><rect x="139.55" y="92" width="5.53" height="3.05" fill="#410d1a"/><rect x="145.03" y="92" width="5.53" height="3.05" fill="#370d1b"/><rect x="150.52" y="92" width="5.53" height="3.05" fill="#270d1a"/><rect x="90.2" y="95" width="5.53" height="3.05" fill="#210b16"/><rect x="95.68" y="95" width="5.53" height="3.05" fill="#420d0d"/><rect x="101.17" y="95" width="5.53" height="3.05" fill="#380b10"/><rect x="106.65" y="95" width="5.53" height="3.05" fill="#320c0c"/><rect x="112.13" y="95" width="5.53" height="3.05" fill="#531b0d"/><rect x="117.62" y="95" width="5.53" height="3.05" fill="#350d0d"/><rect x="123.1" y="95" width="5.53" height="3.05" fill="#381c0e"/><rect x="128.58" y="95" width="5.53" height="3.05" fill="#511b0d"/><rect x="134.07" y="95" width="5.53" height="3.05" fill="#3c0c0c"/><rect x="139.55" y="95" width="5.53" height="3.05" fill="#3a0b17"/><rect x="145.03" y="95" width="5.53" height="3.05" fill="#320c19"/><rect x="150.52" y="95" width="5.53" height="3.05" fill="#280d1a"/><rect x="90.2" y="98" width="5.53" height="2.38" fill="#2f0b0b"/><rect x="95.68" y="98" width="5.53" height="2.38" fill="#3d0c0c"/><rect x="101.17" y="98" width="5.53" height="2.38" fill="#430d14"/><rect x="106.65" y="98" width="5.53" height="2.38" fill="#310c12"/><rect x="112.13" y="98" width="5.53" height="2.38" fill="#0d0d0d"/><rect x="117.62" y="98" width="5.53" height="2.38" fill="#0c150c"/><rect x="123.1" y="98" width="5.53" height="2.38" fill="#1c150e"/><rect x="128.58" y="98" width="5.53" height="2.38" fill="#220b0b"/><rect x="134.07" y="98" width="5.53" height="2.38" fill="#230b0b"/><rect x="139.55" y="98" width="5.53" height="2.38" fill="#360d0d"/><rect x="145.03" y="98" width="5.53" height="2.38" fill="#420d1a"/><rect x="150.52" y="98" width="5.53" height="2.38" fill="#390b17"/><rect x="90.2" y="100.33" width="5.53" height="2.38" fill="#2e0b0b"/><rect x="95.68" y="100.33" width="5.53" height="2.38" fill="#3b0b0b"/><rect x="101.17" y="100.33" width="5.53" height="2.38" fill="#400c13"/><rect x="106.65" y="100.33" width="5.53" height="2.38" fill="#380e15"/><rect x="112.13" y="100.33" width="5.53" height="2.38" fill="#0b0b0b"/><rect x="117.62" y="100.33" width="5.53" height="2.38" fill="#0b130b"/><rect x="123.1" y="100.33" width="5.53" height="2.38" fill="#1a140d"/><rect x="128.58" y="100.33" width="5.53" height="2.38" fill="#250c0c"/><rect x="134.07" y="100.33" width="5.53" height="2.38" fill="#290d0d"/><rect x="139.55" y="100.33" width="5.53" height="2.38" fill="#390e0e"/><rect x="145.03" y="100.33" width="5.53" height="2.38" fill="#460e1c"/><rect x="150.52" y="100.33" width="5.53" height="2.38" fill="#430d1a"/><rect x="90.2" y="102.67" width="5.53" height="2.38" fill="#330c0c"/><rect x="95.68" y="102.67" width="5.53" height="2.38" fill="#390b0b"/><rect x="101.17" y="102.67" width="5.53" height="2.38" fill="#440d14"/><rect x="106.65" y="102.67" width="5.53" height="2.38" fill="#310c12"/><rect x="112.13" y="102.67" width="5.53" height="2.38" fill="#0c0c0c"/><rect x="117.62" y="102.67" width="5.53" height="2.38" fill="#0d150d"/><rect x="123.1" y="102.67" width="5.53" height="2.38" fill="#1c150e"/><rect x="128.58" y="102.67" width="5.53" height="2.38" fill="#260c0c"/><rect x="134.07" y="102.67" width="5.53" height="2.38" fill="#2a0e0e"/><rect x="139.55" y="102.67" width="5.53" height="2.38" fill="#380e0e"/><rect x="145.03" y="102.67" width="5.53" height="2.38" fill="#390b17"/><rect x="150.52" y="102.67" width="5.53" height="2.38" fill="#3d0c18"/><rect x="90.2" y="105" width="5.53" height="2.38" fill="#291b37"/><rect x="95.68" y="105" width="5.53" height="2.38" fill="#441b28"/><rect x="101.17" y="105" width="5.53" height="2.38" fill="#2a0e2a"/><rect x="106.65" y="105" width="5.53" height="2.38" fill="#23113b"/><rect x="112.13" y="105" width="5.53" height="2.38" fill="#191926"/><rect x="117.62" y="105" width="5.53" height="2.38" fill="#0e1c0e"/><rect x="123.1" y="105" width="5.53" height="2.38" fill="#0c1320"/><rect x="128.58" y="105" width="5.53" height="2.38" fill="#270d1a"/><rect x="134.07" y="105" width="5.53" height="2.38" fill="#390e1c"/><rect x="139.55" y="105" width="5.53" height="2.38" fill="#2f0b17"/><rect x="145.03" y="105" width="5.53" height="2.38" fill="#390b22"/><rect x="150.52" y="105" width="5.53" height="2.38" fill="#370d29"/><rect x="90.2" y="107.33" width="5.53" height="2.38" fill="#271a34"/><rect x="95.68" y="107.33" width="5.53" height="2.38" fill="#3b1723"/><rect x="101.17" y="107.33" width="5.53" height="2.38" fill="#290d29"/><rect x="106.65" y="107.33" width="5.53" height="2.38" fill="#24123c"/><rect x="112.13" y="107.33" width="5.53" height="2.38" fill="#171722"/><rect x="117.62" y="107.33" width="5.53" height="2.38" fill="#0c180c"/><rect x="123.1" y="107.33" width="5.53" height="2.38" fill="#0b111c"/><rect x="128.58" y="107.33" width="5.53" height="2.38" fill="#250c19"/><rect x="134.07" y="107.33" width="5.53" height="2.38" fill="#360d1b"/><rect x="139.55" y="107.33" width="5.53" height="2.38" fill="#320c19"/><rect x="145.03" y="107.33" width="5.53" height="2.38" fill="#470e2a"/><rect x="150.52" y="107.33" width="5.53" height="2.38" fill="#2d0b22"/><rect x="90.2" y="109.67" width="5.53" height="2.38" fill="#23172f"/><rect x="95.68" y="109.67" width="5.53" height="2.38" fill="#3a1723"/><rect x="101.17" y="109.67" width="5.53" height="2.38" fill="#270d27"/><rect x="106.65" y="109.67" width="5.53" height="2.38" fill="#23113b"/><rect x="112.13" y="109.67" width="5.53" height="2.38" fill="#1a1a27"/><rect x="117.62" y="109.67" width="5.53" height="2.38" fill="#0c190c"/><rect x="123.1" y="109.67" width="5.53" height="2.38" fill="#0d1320"/><rect x="128.58" y="109.67" width="5.53" height="2.38" fill="#290d1b"/><rect x="134.07" y="109.67" width="5.53" height="2.38" fill="#360d1b"/><rect x="139.55" y="109.67" width="5.53" height="2.38" fill="#380e1c"/><rect x="145.03" y="109.67" width="5.53" height="2.38" fill="#3a0b23"/><rect x="150.52" y="109.67" width="5.53" height="2.38" fill="#310c25"/><rect x="90.2" y="112" width="5.53" height="3.05" fill="#381c0e"/><rect x="95.68" y="112" width="5.53" height="3.05" fill="#63310c"/><rect x="101.17" y="112" width="5.53" height="3.05" fill="#240c0c"/><rect x="106.65" y="112" width="5.53" height="3.05" fill="#192698"/><rect x="112.13" y="112" width="5.53" height="3.05" fill="#0b173b"/><rect x="117.62" y="112" width="5.53" height="3.05" fill="#0d1b37"/><rect x="123.1" y="112" width="5.53" height="3.05" fill="#0d1a42"/><rect x="128.58" y="112" width="5.53" height="3.05" fill="#172273"/><rect x="134.07" y="112" width="5.53" height="3.05" fill="#2a0e0e"/><rect x="139.55" y="112" width="5.53" height="3.05" fill="#330c19"/><rect x="145.03" y="112" width="5.53" height="3.05" fill="#480c24"/><rect x="150.52" y="112" width="5.53" height="3.05" fill="#410d1a"/><rect x="90.2" y="115" width="5.53" height="3.05" fill="#381c0e"/><rect x="95.68" y="115" width="5.53" height="3.05" fill="#62310c"/><rect x="101.17" y="115" width="5.53" height="3.05" fill="#210b0b"/><rect x="106.65" y="115" width="5.53" height="3.05" fill="#17238e"/><rect x="112.13" y="115" width="5.53" height="3.05" fill="#0b1639"/><rect x="117.62" y="115" width="5.53" height="3.05" fill="#0c1933"/><rect x="123.1" y="115" width="5.53" height="3.05" fill="#0c183d"/><rect x="128.58" y="115" width="5.53" height="3.05" fill="#1b298a"/><rect x="134.07" y="115" width="5.53" height="3.05" fill="#230b0b"/><rect x="139.55" y="115" width="5.53" height="3.05" fill="#2d0b16"/><rect x="145.03" y="115" width="5.53" height="3.05" fill="#4c0c26"/><rect x="150.52" y="115" width="5.53" height="3.05" fill="#3a0b17"/><rect x="90.2" y="118" width="5.53" height="3.05" fill="#49240c"/><rect x="95.68" y="118" width="5.53" height="3.05" fill="#6b3b0b"/><rect x="101.17" y="118" width="5.53" height="3.05" fill="#6a2f0b"/><rect x="106.65" y="118" width="5.53" height="3.05" fill="#340d0d"/><rect x="112.13" y="118" width="5.53" height="3.05" fill="#0e1c46"/><rect x="117.62" y="118" width="5.53" height="3.05" fill="#0c314a"/><rect x="123.1" y="118" width="5.53" height="3.05" fill="#0d2742"/><rect x="128.58" y="118" width="5.53" height="3.05" fill="#0c0c0c"/><rect x="134.07" y="118" width="5.53" height="3.05" fill="#701c0e"/><rect x="139.55" y="118" width="5.53" height="3.05" fill="#4d0c0c"/><rect x="145.03" y="118" width="5.53" height="3.05" fill="#440b22"/><rect x="150.52" y="118" width="5.53" height="3.05" fill="#430d0d"/><rect x="90.2" y="121" width="5.53" height="3.05" fill="#47230b"/><rect x="95.68" y="121" width="5.53" height="3.05" fill="#66390b"/><rect x="101.17" y="121" width="5.53" height="3.05" fill="#652d0b"/><rect x="106.65" y="121" width="5.53" height="3.05" fill="#370d0d"/><rect x="112.13" y="121" width="5.53" height="3.05" fill="#0d1a43"/><rect x="117.62" y="121" width="5.53" height="3.05" fill="#0c314a"/><rect x="123.1" y="121" width="5.53" height="3.05" fill="#0c2640"/><rect x="128.58" y="121" width="5.53" height="3.05" fill="#0d0d0d"/><rect x="134.07" y="121" width="5.53" height="3.05" fill="#5b160b"/><rect x="139.55" y="121" width="5.53" height="3.05" fill="#500d0d"/><rect x="145.03" y="121" width="5.53" height="3.05" fill="#500d28"/><rect x="150.52" y="121" width="5.53" height="3.05" fill="#460e0e"/><rect x="90.2" y="124" width="5.53" height="3.05" fill="#0b2d0b"/><rect x="95.68" y="124" width="5.53" height="3.05" fill="#274e1a"/><rect x="101.17" y="124" width="5.53" height="3.05" fill="#264c19"/><rect x="106.65" y="124" width="5.53" height="3.05" fill="#370d0d"/><rect x="112.13" y="124" width="5.53" height="3.05" fill="#0c2525"/><rect x="117.62" y="124" width="5.53" height="3.05" fill="#1a2784"/><rect x="123.1" y="124" width="5.53" height="3.05" fill="#0e2a2a"/><rect x="128.58" y="124" width="5.53" height="3.05" fill="#0c180c"/><rect x="134.07" y="124" width="5.53" height="3.05" fill="#264d19"/><rect x="139.55" y="124" width="5.53" height="3.05" fill="#467e1c"/><rect x="145.03" y="124" width="5.53" height="3.05" fill="#385a16"/><rect x="150.52" y="124" width="5.53" height="3.05" fill="#55390e"/><rect x="90.2" y="127" width="5.53" height="3.05" fill="#0c300c"/><rect x="95.68" y="127" width="5.53" height="3.05" fill="#264c19"/><rect x="101.17" y="127" width="5.53" height="3.05" fill="#244818"/><rect x="106.65" y="127" width="5.53" height="3.05" fill="#360d0d"/><rect x="112.13" y="127" width="5.53" height="3.05" fill="#0c2626"/><rect x="117.62" y="127" width="5.53" height="3.05" fill="#1b2887"/><rect x="123.1" y="127" width="5.53" height="3.05" fill="#0b2222"/><rect x="128.58" y="127" width="5.53" height="3.05" fill="#0d1b0d"/><rect x="134.07" y="127" width="5.53" height="3.05" fill="#29521b"/><rect x="139.55" y="127" width="5.53" height="3.05" fill="#42781a"/><rect x="145.03" y="127" width="5.53" height="3.05" fill="#3b5f17"/><rect x="150.52" y="127" width="5.53" height="3.05" fill="#48300c"/><rect x="90.2" y="130" width="5.53" height="3.05" fill="#32320c"/><rect x="95.68" y="130" width="5.53" height="3.05" fill="#2d0b0b"/><rect x="101.17" y="130" width="5.53" height="3.05" fill="#381c0e"/><rect x="106.65" y="130" width="5.53" height="3.05" fill="#0c250c"/><rect x="112.13" y="130" width="5.53" height="3.05" fill="#0e382a"/><rect x="117.62" y="130" width="5.53" height="3.05" fill="#0b5246"/><rect x="123.1" y="130" width="5.53" height="3.05" fill="#1a351a"/><rect x="128.58" y="130" width="5.53" height="3.05" fill="#0d290d"/><rect x="134.07" y="130" width="5.53" height="3.05" fill="#27340d"/><rect x="139.55" y="130" width="5.53" height="3.05" fill="#32320c"/><rect x="145.03" y="130" width="5.53" height="3.05" fill="#5a380b"/><rect x="150.52" y="130" width="5.53" height="3.05" fill="#32250c"/><rect x="90.2" y="133" width="5.53" height="3.05" fill="#31310c"/><rect x="95.68" y="133" width="5.53" height="3.05" fill="#380e0e"/><rect x="101.17" y="133" width="5.53" height="3.05" fill="#391c0e"/><rect x="106.65" y="133" width="5.53" height="3.05" fill="#0e2a0e"/><rect x="112.13" y="133" width="5.53" height="3.05" fill="#0e392a"/><rect x="117.62" y="133" width="5.53" height="3.05" fill="#0b5246"/><rect x="123.1" y="133" width="5.53" height="3.05" fill="#162d16"/><rect x="128.58" y="133" width="5.53" height="3.05" fill="#0c240c"/><rect x="134.07" y="133" width="5.53" height="3.05" fill="#212d0b"/><rect x="139.55" y="133" width="5.53" height="3.05" fill="#2e2e0b"/><rect x="145.03" y="133" width="5.53" height="3.05" fill="#68410d"/><rect x="150.52" y="133" width="5.53" height="3.05" fill="#2f230b"/><rect x="90.2" y="136" width="5.53" height="4.05" fill="#270d0d"/><rect x="95.68" y="136" width="5.53" height="4.05" fill="#310c0c"/><rect x="101.17" y="136" width="5.53" height="4.05" fill="#30180c"/><rect x="106.65" y="136" width="5.53" height="4.05" fill="#0e380e"/><rect x="112.13" y="136" width="5.53" height="4.05" fill="#0b2f17"/><rect x="117.62" y="136" width="5.53" height="4.05" fill="#0d2929"/><rect x="123.1" y="136" width="5.53" height="4.05" fill="#193319"/><rect x="128.58" y="136" width="5.53" height="4.05" fill="#0d270d"/><rect x="134.07" y="136" width="5.53" height="4.05" fill="#3a170b"/><rect x="139.55" y="136" width="5.53" height="4.05" fill="#28360d"/><rect x="145.03" y="136" width="5.53" height="4.05" fill="#53370d"/><rect x="150.52" y="136" width="5.53" height="4.05" fill="#23230b"/><rect x="90.2" y="140" width="5.53" height="3.05" fill="#0c0c4c"/><rect x="95.68" y="140" width="5.53" height="3.05" fill="#1a1a35"/><rect x="101.17" y="140" width="5.53" height="3.05" fill="#190c26"/><rect x="106.65" y="140" width="5.53" height="3.05" fill="#28280d"/><rect x="112.13" y="140" width="5.53" height="3.05" fill="#340d34"/><rect x="117.62" y="140" width="5.53" height="3.05" fill="#0c3018"/><rect x="123.1" y="140" width="5.53" height="3.05" fill="#281a0d"/><rect x="128.58" y="140" width="5.53" height="3.05" fill="#28281b"/><rect x="134.07" y="140" width="5.53" height="3.05" fill="#262619"/><rect x="139.55" y="140" width="5.53" height="3.05" fill="#1a341a"/><rect x="145.03" y="140" width="5.53" height="3.05" fill="#1a271a"/><rect x="150.52" y="140" width="5.53" height="3.05" fill="#323232"/><rect x="90.2" y="143" width="5.53" height="4.05" fill="#39ad39"/><rect x="95.68" y="143" width="5.53" height="4.05" fill="#7dea3e"/><rect x="101.17" y="143" width="5.53" height="4.05" fill="#3366ee"/><rect x="106.65" y="143" width="5.53" height="4.05" fill="#2132fc"/><rect x="112.13" y="143" width="5.53" height="4.05" fill="#d71c39"/><rect x="117.62" y="143" width="5.53" height="4.05" fill="#ee1f7f"/><rect x="123.1" y="143" width="5.53" height="4.05" fill="#d44182"/><rect x="128.58" y="143" width="5.53" height="4.05" fill="#81f181"/><rect x="134.07" y="143" width="5.53" height="4.05" fill="#57923a"/><rect x="139.55" y="143" width="5.53" height="4.05" fill="#42c642"/><rect x="145.03" y="143" width="5.53" height="4.05" fill="#43ea43"/><rect x="150.52" y="143" width="5.53" height="4.05" fill="#a1a1c1"/><rect x="90.2" y="147" width="5.53" height="4.05" fill="#f76a6a"/><rect x="95.68" y="147" width="5.53" height="4.05" fill="#d36182"/><rect x="101.17" y="147" width="5.53" height="4.05" fill="#71a938"/><rect x="106.65" y="147" width="5.53" height="4.05" fill="#b6d43c"/><rect x="112.13" y="147" width="5.53" height="4.05" fill="#fb2121"/><rect x="117.62" y="147" width="5.53" height="4.05" fill="#acc939"/><rect x="123.1" y="147" width="5.53" height="4.05" fill="#b1d547"/><rect x="128.58" y="147" width="5.53" height="4.05" fill="#c94343"/><rect x="134.07" y="147" width="5.53" height="4.05" fill="#ee4422"/><rect x="139.55" y="147" width="5.53" height="4.05" fill="#75ce3a"/><rect x="145.03" y="147" width="5.53" height="4.05" fill="#a938c5"/><rect x="150.52" y="147" width="5.53" height="4.05" fill="#8bd1ae"/></g></g>
<path d="M98.4 48.9 L98.4 56.8 L101.3 57.3 L101.8 61.5 L103.7 62.0 L104.2 65.2 L107.4 66.6 L111.2 66.4 L114.4 64.5 L120.0 61.3 L123.8 63.8 L126.1 67.1 L129.4 68.5 L133.1 68.0 L135.9 66.6 L135.9 64.8 L132.7 63.8 L132.2 59.6 L136.9 58.7 L142.5 59.2 L148.1 57.6 L144.3 56.4 L136.9 55.4 L133.1 56.1 L129.4 56.8 L125.6 57.8 L122.8 59.2 L120.0 60.1 L116.3 59.2 L112.1 58.2 L108.4 55.9 L105.1 54.5 L102.3 53.1 L100.9 50.3 Z" fill="none" stroke="#fff" stroke-width="0.8" stroke-linejoin="round"/>
<text x="95.8" y="41.6" font-size="10" font-family="Liberation Sans, sans-serif" fill="#fff" textLength="12.78" lengthAdjust="spacingAndGlyphs">Cg</text>
<text x="128.3" y="46.6" font-size="10" font-family="Liberation Sans, sans-serif" fill="#fff" textLength="12.78" lengthAdjust="spacingAndGlyphs">Cg</text>
<rect x="95.7" y="45.6" width="5.6" height="1.2" fill="#8fd08f"/>
<rect x="101.3" y="48.6" width="5.7" height="1.2" fill="#8fd08f"/>
<rect x="134" y="51.4" width="5.7" height="1.2" fill="#8fd08f"/>
<rect x="128" y="54.5" width="5.6" height="1.2" fill="#8fd08f"/>
<text x="111.2" y="74.4" font-size="10" font-family="Liberation Sans, sans-serif" fill="#fff" textLength="16.67" lengthAdjust="spacingAndGlyphs">Scc</text>
<text x="104" y="114" font-size="9.5" font-family="Liberation Sans, sans-serif" fill="#fff" transform="rotate(-90 104 114)" textLength="14.78" lengthAdjust="spacingAndGlyphs">Ipsi</text>
<text x="141" y="92" font-size="9.5" font-family="Liberation Sans, sans-serif" fill="#fff" transform="rotate(90 141 92)" textLength="28.51" lengthAdjust="spacingAndGlyphs">Contra</text>
<rect x="1.3" y="154" width="17.3" height="1.6" fill="#000"/>
<rect x="90.2" y="154" width="17.3" height="1.6" fill="#000"/>
<text x="0.9" y="165.8" font-size="12.2" font-family="Liberation Serif, serif" fill="#111" textLength="26" lengthAdjust="spacingAndGlyphs">1 mm</text>
<text x="89.9" y="165.8" font-size="12.2" font-family="Liberation Serif, serif" fill="#111" textLength="26" lengthAdjust="spacingAndGlyphs">1 mm</text>
</svg>
</body></html>
